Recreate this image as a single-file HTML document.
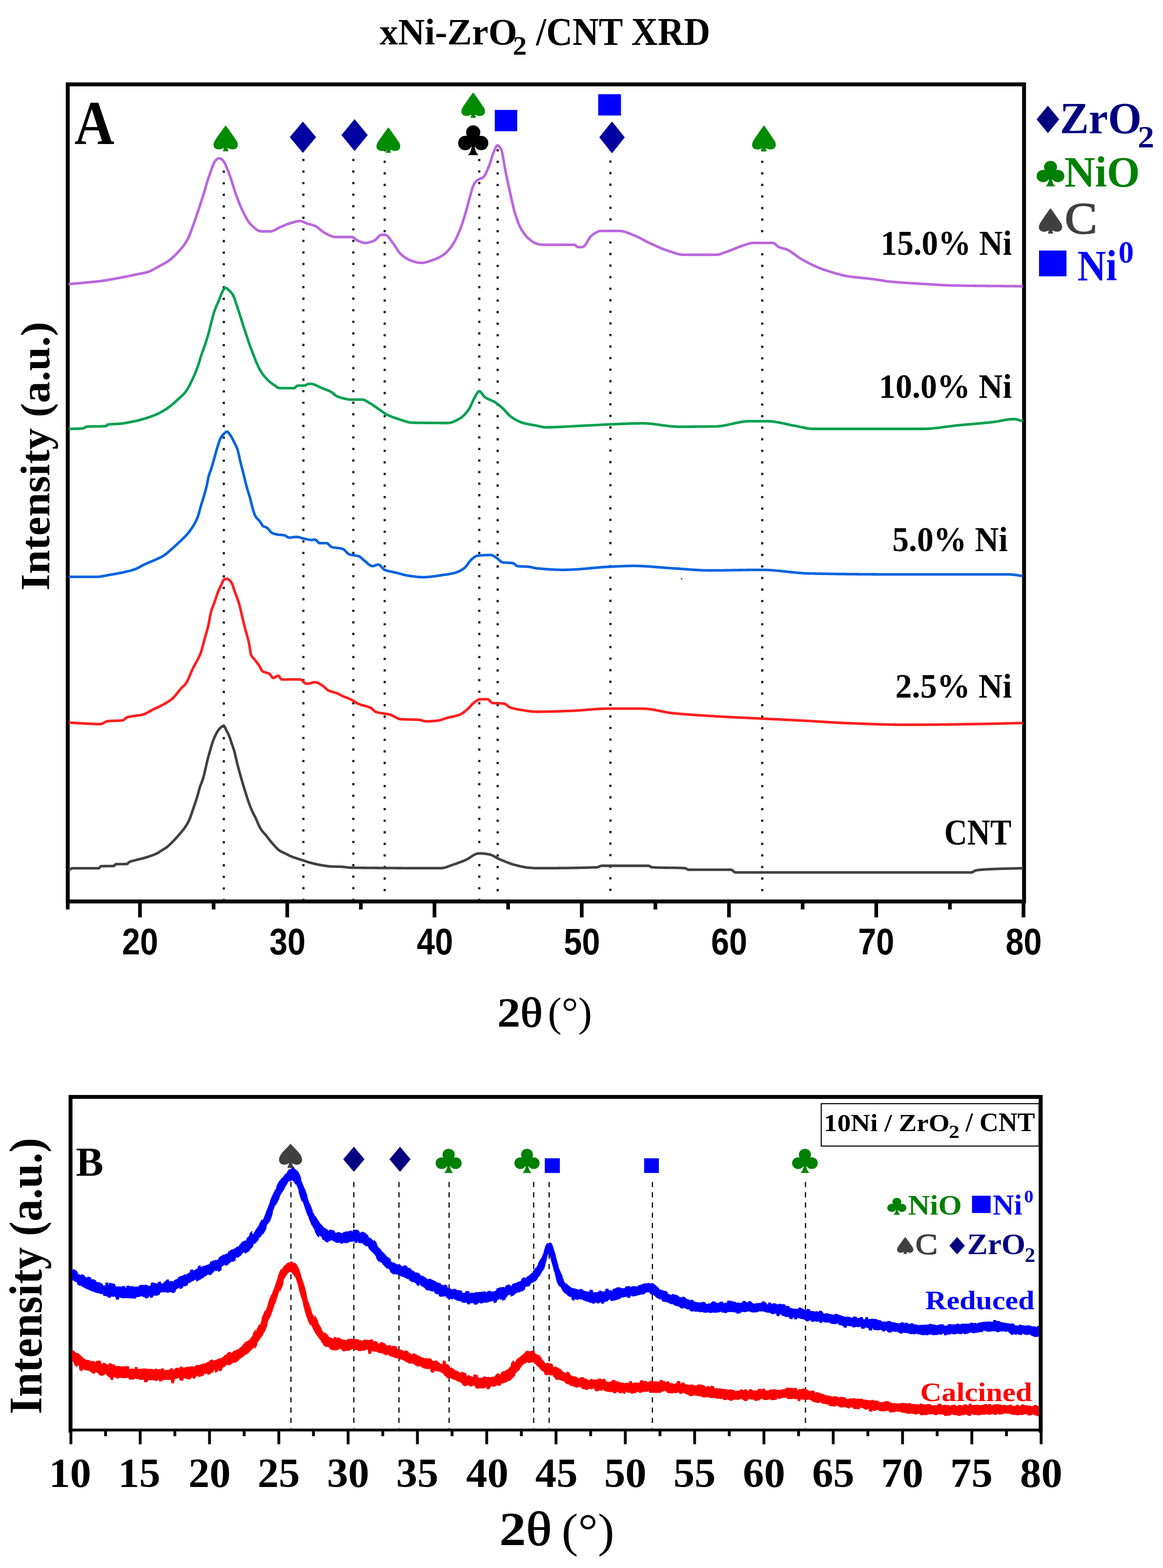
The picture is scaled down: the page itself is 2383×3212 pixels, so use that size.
<!DOCTYPE html>
<html><head><meta charset="utf-8"><title>xNi-ZrO2 /CNT XRD</title><style>html,body{margin:0;padding:0;background:#fff;width:2383px;height:3212px;overflow:hidden}svg{display:block}</style></head><body>
<svg width="2383" height="3212" viewBox="0 0 2383 3212"><rect width="2383" height="3212" fill="#fff"/><g stroke="#000" stroke-width="8" fill="none" stroke-linecap="square">
<rect x="138.8" y="172.8" width="1959.5" height="1673.8"/>
</g>
<path d="M286.81,1846.6V1879.3 M588.54,1846.6V1879.3 M890.27,1846.6V1879.3 M1192,1846.6V1879.3 M1493.73,1846.6V1879.3 M1795.46,1846.6V1879.3 M2097.19,1846.6V1879.3 M437.68,1846.6V1863 M739.41,1846.6V1863 M1041.14,1846.6V1863 M1342.87,1846.6V1863 M1644.6,1846.6V1863 M1946.33,1846.6V1863 M138.8,1846.6V1863" stroke="#000" stroke-width="7.5" fill="none"/>
<line x1="458.6" y1="349.5" x2="458.6" y2="1842.6" stroke="#1c1c1c" stroke-width="4.6" stroke-dasharray="4.6 19.08"/>
<line x1="621.6" y1="325.4" x2="621.6" y2="1842.6" stroke="#1c1c1c" stroke-width="4.6" stroke-dasharray="4.6 19.08"/>
<line x1="724" y1="325.4" x2="724" y2="1842.6" stroke="#1c1c1c" stroke-width="4.6" stroke-dasharray="4.6 19.08"/>
<line x1="788.3" y1="305.5" x2="788.3" y2="1842.6" stroke="#1c1c1c" stroke-width="4.6" stroke-dasharray="4.6 19.08"/>
<line x1="982" y1="325.4" x2="982" y2="1842.6" stroke="#1c1c1c" stroke-width="4.6" stroke-dasharray="4.6 19.08"/>
<line x1="1019.7" y1="305.6" x2="1019.7" y2="1842.6" stroke="#1c1c1c" stroke-width="4.6" stroke-dasharray="4.6 19.08"/>
<line x1="1250.8" y1="305" x2="1250.8" y2="1842.6" stroke="#1c1c1c" stroke-width="4.6" stroke-dasharray="4.6 19.08"/>
<line x1="1561.8" y1="305.5" x2="1561.8" y2="1842.6" stroke="#1c1c1c" stroke-width="4.6" stroke-dasharray="4.6 19.08"/>
<path d="M140.6,582 L142.66,581.82 L144.73,581.64 L146.79,581.46 L148.85,581.28 L150.92,581.1 L152.98,580.93 L155.05,580.75 L157.11,580.56 L159.17,580.38 L161.24,580.19 L163.3,580 L165.36,579.81 L167.43,579.62 L169.49,579.43 L171.55,579.24 L173.62,579.05 L175.68,578.86 L177.75,578.67 L179.81,578.48 L181.87,578.29 L183.94,578.1 L186,577.9 L188.06,577.7 L190.13,577.49 L192.19,577.29 L194.25,577.07 L196.32,576.85 L198.38,576.63 L200.45,576.4 L202.51,576.16 L204.57,575.91 L206.64,575.66 L208.7,575.4 L210.72,575.13 L212.74,574.85 L214.76,574.54 L216.78,574.23 L218.8,573.9 L220.82,573.57 L222.84,573.22 L224.86,572.86 L226.88,572.5 L228.9,572.14 L230.92,571.77 L232.94,571.4 L234.96,571.03 L236.98,570.66 L239,570.3 L241.1,569.92 L243.2,569.54 L245.3,569.15 L247.4,568.75 L249.5,568.35 L251.6,567.95 L253.7,567.55 L255.8,567.13 L257.9,566.72 L260,566.3 L262.13,565.87 L264.26,565.43 L266.39,564.98 L268.52,564.53 L270.65,564.08 L272.78,563.62 L274.91,563.17 L277.04,562.71 L279.17,562.25 L281.3,561.8 L283.42,561.37 L285.54,560.96 L287.66,560.57 L289.78,560.18 L291.9,559.78 L294.02,559.36 L296.14,558.92 L298.26,558.43 L300.38,557.9 L302.5,557.3 L304.62,556.59 L306.74,555.75 L308.86,554.79 L310.98,553.74 L313.1,552.62 L315.22,551.45 L317.34,550.25 L319.46,549.05 L321.58,547.86 L323.7,546.7 L325.82,545.58 L327.94,544.47 L330.06,543.37 L332.18,542.25 L334.3,541.11 L336.42,539.93 L338.54,538.71 L340.66,537.42 L342.78,536.05 L344.9,534.6 L346.91,533.14 L348.92,531.58 L350.92,529.95 L352.93,528.23 L354.94,526.43 L356.95,524.56 L358.96,522.61 L360.97,520.6 L362.98,518.52 L364.98,516.37 L366.99,514.16 L369,511.9 L371.17,509.39 L373.34,506.78 L375.51,504.02 L377.69,501.08 L379.86,497.91 L382.03,494.46 L384.2,490.7 L386.37,486.36 L388.54,481.34 L390.71,475.77 L392.89,469.83 L395.06,463.67 L397.23,457.44 L399.4,451.3 L401.56,445.2 L403.71,438.93 L405.87,432.51 L408.03,425.98 L410.19,419.36 L412.34,412.69 L414.5,406 L416.66,399.11 L418.81,391.95 L420.97,384.66 L423.13,377.41 L425.29,370.36 L427.44,363.67 L429.6,357.5 L431.62,351.83 L433.63,346.02 L435.65,340.44 L437.67,335.46 L439.68,331.46 L441.7,328.8 L444.23,326.57 L446.77,324.87 L449.3,324.2 L451.83,324.88 L454.37,326.59 L456.9,328.8 L458.92,331.28 L460.93,334.87 L462.95,339.28 L464.97,344.21 L466.98,349.39 L469,354.5 L471.16,360.23 L473.31,366.59 L475.47,373.36 L477.63,380.31 L479.79,387.2 L481.94,393.8 L484.1,399.9 L486.26,405.64 L488.41,411.29 L490.57,416.8 L492.73,422.1 L494.89,427.14 L497.04,431.86 L499.2,436.2 L501.37,440.35 L503.54,444.41 L505.71,448.31 L507.89,451.94 L510.06,455.23 L512.23,458.08 L514.4,460.4 L516.52,462.39 L518.64,464.36 L520.76,466.26 L522.88,468.05 L525,469.68 L527.12,471.12 L529.24,472.31 L531.36,473.22 L533.48,473.8 L535.6,474 L537.61,474 L539.62,474 L541.63,474 L543.64,474 L545.66,474 L547.67,474 L549.68,474 L551.69,474 L553.7,474 L555.82,473.82 L557.94,473.33 L560.06,472.59 L562.18,471.64 L564.3,470.56 L566.42,469.39 L568.54,468.19 L570.66,467.02 L572.78,465.94 L574.9,465 L576.92,464.18 L578.93,463.35 L580.95,462.51 L582.97,461.67 L584.98,460.84 L587,460.02 L589.02,459.23 L591.03,458.47 L593.05,457.75 L595.07,457.07 L597.08,456.46 L599.1,455.9 L601.27,455.32 L603.44,454.71 L605.61,454.13 L607.79,453.61 L609.96,453.19 L612.13,452.9 L614.3,452.8 L616.3,452.96 L618.3,453.4 L620.3,454.06 L622.3,454.86 L624.3,455.74 L626.3,456.64 L628.3,457.48 L630.3,458.2 L632.46,458.85 L634.61,459.45 L636.77,460.03 L638.93,460.61 L641.09,461.25 L643.24,461.97 L645.4,462.8 L647.52,463.85 L649.64,465.18 L651.76,466.73 L653.88,468.42 L656,470.19 L658.12,471.98 L660.24,473.71 L662.36,475.32 L664.48,476.74 L666.6,477.9 L668.72,478.93 L670.84,479.98 L672.96,481.03 L675.08,482.03 L677.2,482.96 L679.32,483.8 L681.44,484.5 L683.56,485.03 L685.68,485.38 L687.8,485.5 L689.88,485.5 L691.95,485.5 L694.02,485.5 L696.1,485.5 L698.17,485.5 L700.25,485.5 L702.32,485.5 L704.4,485.5 L706.48,485.5 L708.55,485.5 L710.62,485.5 L712.7,485.5 L714.77,485.5 L716.85,485.5 L718.92,485.5 L721,485.5 L723.03,485.94 L725.07,487.07 L727.1,488.62 L729.13,490.31 L731.17,491.86 L733.2,493 L735.36,493.91 L737.51,494.82 L739.67,495.68 L741.83,496.44 L743.99,497.05 L746.14,497.45 L748.3,497.6 L750.32,497.52 L752.34,497.29 L754.37,496.93 L756.39,496.46 L758.41,495.89 L760.43,495.24 L762.46,494.53 L764.48,493.78 L766.5,493 L768.66,491.72 L770.81,489.76 L772.97,487.45 L775.13,485.11 L777.29,483.04 L779.44,481.56 L781.6,481 L784.13,481 L786.67,481 L789.2,481 L791.28,481.5 L793.35,482.87 L795.42,484.94 L797.5,487.51 L799.58,490.39 L801.65,493.41 L803.72,496.37 L805.8,499.1 L807.97,501.99 L810.14,505.22 L812.31,508.62 L814.49,512 L816.66,515.19 L818.83,518.02 L821,520.3 L823.11,522.16 L825.22,523.92 L827.33,525.6 L829.44,527.16 L831.55,528.62 L833.66,529.95 L835.77,531.15 L837.88,532.22 L839.99,533.13 L842.1,533.9 L844.22,534.59 L846.34,535.26 L848.46,535.91 L850.58,536.51 L852.7,537.06 L854.82,537.54 L856.94,537.94 L859.06,538.24 L861.18,538.43 L863.3,538.5 L865.32,538.43 L867.33,538.24 L869.35,537.93 L871.37,537.52 L873.38,537.03 L875.4,536.47 L877.42,535.85 L879.43,535.19 L881.45,534.5 L883.47,533.8 L885.48,533.09 L887.5,532.4 L889.62,531.66 L891.74,530.85 L893.86,529.98 L895.98,529.04 L898.1,528.04 L900.22,526.95 L902.34,525.79 L904.46,524.55 L906.58,523.22 L908.7,521.8 L910.72,520.3 L912.74,518.62 L914.77,516.74 L916.79,514.69 L918.81,512.48 L920.83,510.1 L922.86,507.57 L924.88,504.9 L926.9,502.1 L929.06,498.82 L931.21,495.12 L933.37,491.05 L935.53,486.65 L937.69,481.97 L939.84,477.03 L942,471.9 L944.02,466.74 L946.03,461.09 L948.05,455.05 L950.07,448.71 L952.08,442.16 L954.1,435.5 L956.38,427.52 L958.65,419 L960.93,410.43 L963.2,402.3 L965.73,393.15 L968.27,384.35 L970.8,378 L973.3,374.14 L975.8,371.18 L978.3,369 L980.32,367.75 L982.33,366.83 L984.35,366.06 L986.37,365.27 L988.38,364.27 L990.4,362.9 L992.42,360.66 L994.43,357.35 L996.45,353.24 L998.47,348.59 L1000.48,343.65 L1002.5,338.7 L1004.77,332.31 L1007.05,324.89 L1009.33,317.57 L1011.6,311.5 L1014.13,305.43 L1016.67,300.1 L1019.2,297.8 L1021.7,298.85 L1024.2,301.6 L1026.7,305.4 L1028.97,312.55 L1031.25,324.5 L1033.53,338.24 L1035.8,350.8 L1038.08,361.68 L1040.35,372.38 L1042.62,382.89 L1044.9,393.2 L1047.18,403.63 L1049.45,414.08 L1051.72,423.92 L1054,432.5 L1056.02,439.2 L1058.03,445.54 L1060.05,451.44 L1062.07,456.84 L1064.08,461.65 L1066.1,465.8 L1068.26,469.72 L1070.41,473.34 L1072.57,476.67 L1074.73,479.71 L1076.89,482.45 L1079.04,484.88 L1081.2,487 L1083.22,488.82 L1085.24,490.57 L1087.27,492.22 L1089.29,493.77 L1091.31,495.19 L1093.33,496.45 L1095.36,497.53 L1097.38,498.42 L1099.4,499.1 L1101.5,499.67 L1103.6,500.21 L1105.7,500.69 L1107.8,501.06 L1109.9,501.31 L1112,501.4 L1114.05,501.4 L1116.1,501.4 L1118.15,501.4 L1120.2,501.4 L1122.25,501.4 L1124.3,501.4 L1126.35,501.4 L1128.4,501.4 L1130.45,501.4 L1132.5,501.4 L1134.55,501.4 L1136.6,501.4 L1138.65,501.4 L1140.7,501.4 L1142.75,501.4 L1144.8,501.4 L1146.85,501.4 L1148.9,501.4 L1150.95,501.4 L1153,501.4 L1155.05,501.4 L1157.1,501.4 L1159.15,501.4 L1161.2,501.4 L1163.25,501.4 L1165.3,501.4 L1167.35,501.4 L1169.4,501.4 L1171.45,501.4 L1173.5,501.4 L1175.55,501.4 L1177.6,501.4 L1179.7,502.64 L1181.8,504.96 L1183.9,506.2 L1186.25,506.2 L1188.6,506.2 L1190.95,506.2 L1193.3,506.2 L1195.4,505.54 L1197.5,503.74 L1199.6,501.08 L1201.7,497.85 L1203.8,494.3 L1205.9,490.73 L1208,487.4 L1210.1,484.6 L1212.2,482.6 L1214.3,481.08 L1216.4,479.58 L1218.5,478.13 L1220.6,476.78 L1222.7,475.57 L1224.8,474.56 L1226.9,473.78 L1229,473.28 L1231.1,473.1 L1233.2,473.1 L1235.3,473.1 L1237.4,473.1 L1239.5,473.1 L1241.6,473.1 L1243.7,473.1 L1245.8,473.1 L1247.9,473.1 L1250,473.1 L1252.1,473.1 L1254.2,473.1 L1256.3,473.1 L1258.4,473.1 L1260.5,473.1 L1262.6,473.1 L1264.7,473.1 L1266.8,473.1 L1268.9,473.1 L1270.99,473.17 L1273.09,473.38 L1275.18,473.71 L1277.27,474.15 L1279.37,474.69 L1281.46,475.31 L1283.55,476 L1285.65,476.76 L1287.74,477.55 L1289.83,478.39 L1291.93,479.24 L1294.02,480.1 L1296.11,480.95 L1298.21,481.79 L1300.3,482.6 L1302.4,483.43 L1304.5,484.33 L1306.6,485.29 L1308.7,486.31 L1310.8,487.37 L1312.9,488.46 L1315,489.58 L1317.1,490.71 L1319.2,491.85 L1321.3,492.99 L1323.4,494.11 L1325.5,495.21 L1327.6,496.29 L1329.7,497.32 L1331.8,498.3 L1333.9,499.26 L1336,500.22 L1338.1,501.18 L1340.2,502.14 L1342.3,503.09 L1344.4,504.04 L1346.5,504.98 L1348.6,505.91 L1350.7,506.83 L1352.8,507.73 L1354.9,508.6 L1357,509.46 L1359.1,510.29 L1361.2,511.1 L1363.3,511.87 L1365.4,512.62 L1367.5,513.33 L1369.6,514 L1371.69,514.67 L1373.79,515.36 L1375.88,516.07 L1377.97,516.79 L1380.07,517.49 L1382.16,518.19 L1384.25,518.85 L1386.35,519.48 L1388.44,520.06 L1390.53,520.58 L1392.63,521.02 L1394.72,521.39 L1396.81,521.67 L1398.91,521.84 L1401,521.9 L1403.01,521.9 L1405.01,521.9 L1407.02,521.9 L1409.02,521.9 L1411.03,521.9 L1413.04,521.9 L1415.04,521.9 L1417.05,521.9 L1419.05,521.9 L1421.06,521.9 L1423.07,521.9 L1425.07,521.9 L1427.08,521.9 L1429.08,521.9 L1431.09,521.9 L1433.1,521.9 L1435.1,521.9 L1437.11,521.9 L1439.12,521.9 L1441.12,521.9 L1443.13,521.9 L1445.13,521.9 L1447.14,521.9 L1449.15,521.9 L1451.15,521.9 L1453.16,521.9 L1455.16,521.9 L1457.17,521.9 L1459.18,521.9 L1461.18,521.9 L1463.19,521.9 L1465.19,521.9 L1467.2,521.9 L1469.2,521.81 L1471.2,521.54 L1473.2,521.13 L1475.2,520.6 L1477.2,519.97 L1479.2,519.28 L1481.2,518.53 L1483.2,517.77 L1485.2,517.01 L1487.2,516.28 L1489.2,515.6 L1491.3,514.9 L1493.4,514.16 L1495.5,513.39 L1497.6,512.58 L1499.7,511.75 L1501.8,510.91 L1503.9,510.05 L1506,509.18 L1508.1,508.31 L1510.2,507.45 L1512.3,506.59 L1514.4,505.75 L1516.5,504.94 L1518.6,504.15 L1520.7,503.4 L1522.8,502.69 L1524.9,502.02 L1527,501.4 L1529.24,500.73 L1531.49,500.02 L1533.73,499.33 L1535.97,498.69 L1538.21,498.18 L1540.46,497.83 L1542.7,497.7 L1544.75,497.7 L1546.79,497.7 L1548.84,497.7 L1550.88,497.7 L1552.92,497.7 L1554.97,497.7 L1557.02,497.7 L1559.06,497.7 L1561.11,497.7 L1563.15,497.7 L1565.19,497.7 L1567.24,497.7 L1569.28,497.7 L1571.33,497.7 L1573.38,497.7 L1575.42,497.7 L1577.46,497.7 L1579.51,497.7 L1581.55,497.7 L1583.6,497.7 L1585.7,498.2 L1587.8,499.5 L1589.9,501.28 L1592,503.2 L1594.1,504.95 L1596.2,506.2 L1598.39,507.04 L1600.57,507.73 L1602.76,508.32 L1604.94,508.88 L1607.13,509.46 L1609.31,510.11 L1611.5,510.9 L1613.6,511.82 L1615.7,512.88 L1617.8,514.06 L1619.9,515.36 L1622,516.74 L1624.1,518.18 L1626.2,519.68 L1628.3,521.21 L1630.4,522.76 L1632.5,524.3 L1634.6,525.82 L1636.7,527.3 L1638.8,528.72 L1640.9,530.06 L1643,531.3 L1645.09,532.48 L1647.19,533.65 L1649.28,534.8 L1651.37,535.95 L1653.47,537.07 L1655.56,538.18 L1657.65,539.27 L1659.75,540.34 L1661.84,541.38 L1663.93,542.4 L1666.03,543.4 L1668.12,544.37 L1670.21,545.31 L1672.31,546.22 L1674.4,547.1 L1676.5,547.96 L1678.6,548.79 L1680.7,549.61 L1682.8,550.41 L1684.9,551.19 L1687,551.96 L1689.1,552.71 L1691.2,553.44 L1693.3,554.15 L1695.4,554.85 L1697.5,555.53 L1699.6,556.19 L1701.7,556.84 L1703.8,557.48 L1705.9,558.1 L1708,558.71 L1710.1,559.33 L1712.2,559.94 L1714.3,560.54 L1716.4,561.14 L1718.5,561.72 L1720.6,562.29 L1722.7,562.85 L1724.8,563.38 L1726.9,563.89 L1729,564.37 L1731.1,564.83 L1733.2,565.26 L1735.3,565.65 L1737.4,566 L1739.45,566.32 L1741.5,566.62 L1743.56,566.9 L1745.61,567.17 L1747.66,567.43 L1749.71,567.67 L1751.77,567.9 L1753.82,568.12 L1755.87,568.34 L1757.92,568.55 L1759.97,568.75 L1762.03,568.95 L1764.08,569.15 L1766.13,569.35 L1768.18,569.54 L1770.23,569.74 L1772.29,569.95 L1774.34,570.15 L1776.39,570.36 L1778.44,570.58 L1780.5,570.81 L1782.55,571.05 L1784.6,571.3 L1786.64,571.56 L1788.69,571.84 L1790.73,572.12 L1792.78,572.42 L1794.82,572.72 L1796.87,573.03 L1798.91,573.35 L1800.96,573.67 L1803,573.98 L1805.05,574.3 L1807.1,574.61 L1809.14,574.92 L1811.18,575.22 L1813.23,575.52 L1815.28,575.8 L1817.32,576.07 L1819.37,576.33 L1821.41,576.57 L1823.45,576.79 L1825.5,577 L1827.56,577.19 L1829.62,577.38 L1831.67,577.56 L1833.73,577.74 L1835.79,577.91 L1837.85,578.08 L1839.9,578.24 L1841.96,578.4 L1844.02,578.55 L1846.08,578.7 L1848.13,578.85 L1850.19,578.99 L1852.25,579.13 L1854.31,579.27 L1856.37,579.41 L1858.42,579.54 L1860.48,579.67 L1862.54,579.8 L1864.6,579.93 L1866.65,580.05 L1868.71,580.18 L1870.77,580.3 L1872.83,580.43 L1874.88,580.55 L1876.94,580.68 L1879,580.8 L1881.02,580.92 L1883.04,581.05 L1885.05,581.17 L1887.07,581.3 L1889.09,581.43 L1891.11,581.56 L1893.13,581.69 L1895.14,581.82 L1897.16,581.95 L1899.18,582.07 L1901.2,582.2 L1903.22,582.33 L1905.23,582.46 L1907.25,582.59 L1909.27,582.71 L1911.29,582.84 L1913.31,582.96 L1915.32,583.08 L1917.34,583.2 L1919.36,583.32 L1921.38,583.43 L1923.39,583.55 L1925.41,583.66 L1927.43,583.76 L1929.45,583.87 L1931.47,583.97 L1933.48,584.07 L1935.5,584.16 L1937.52,584.25 L1939.54,584.34 L1941.56,584.42 L1943.57,584.5 L1945.59,584.57 L1947.61,584.64 L1949.63,584.7 L1951.65,584.76 L1953.66,584.81 L1955.68,584.86 L1957.7,584.9 L1959.71,584.94 L1961.71,584.97 L1963.72,585.01 L1965.73,585.05 L1967.74,585.08 L1969.74,585.11 L1971.75,585.15 L1973.76,585.18 L1975.77,585.21 L1977.77,585.24 L1979.78,585.27 L1981.79,585.3 L1983.79,585.32 L1985.8,585.35 L1987.81,585.38 L1989.82,585.4 L1991.82,585.43 L1993.83,585.45 L1995.84,585.48 L1997.84,585.5 L1999.85,585.52 L2001.86,585.55 L2003.87,585.57 L2005.87,585.59 L2007.88,585.61 L2009.89,585.63 L2011.9,585.65 L2013.9,585.67 L2015.91,585.69 L2017.92,585.71 L2019.92,585.73 L2021.93,585.75 L2023.94,585.77 L2025.95,585.78 L2027.95,585.8 L2029.96,585.82 L2031.97,585.84 L2033.98,585.85 L2035.98,585.87 L2037.99,585.89 L2040,585.9 L2042,585.92 L2044.01,585.94 L2046.02,585.95 L2048.03,585.97 L2050.03,585.98 L2052.04,586 L2054.05,586.02 L2056.06,586.03 L2058.06,586.05 L2060.07,586.07 L2062.08,586.08 L2064.08,586.1 L2066.09,586.12 L2068.1,586.13 L2070.11,586.15 L2072.11,586.17 L2074.12,586.19 L2076.13,586.2 L2078.13,586.22 L2080.14,586.24 L2082.15,586.26 L2084.16,586.28 L2086.16,586.3 L2088.17,586.32 L2090.18,586.34 L2092.19,586.36 L2094.19,586.38 L2096.2,586.4" fill="none" stroke="#ba66de" stroke-width="5.3" stroke-linejoin="round"/>
<path d="M140.6,878.7 L142.72,878.61 L144.84,878.54 L146.96,878.47 L149.08,878.42 L151.2,878.37 L153.32,878.32 L155.44,878.27 L157.56,878.21 L159.68,878.13 L161.8,878.04 L163.92,877.93 L166.04,877.8 L168.16,877.63 L170.28,877.44 L172.4,877.2 L175.4,874.2 L177.42,874.03 L179.44,873.89 L181.46,873.77 L183.48,873.68 L185.5,873.61 L187.51,873.56 L189.53,873.52 L191.55,873.49 L193.57,873.47 L195.59,873.46 L197.61,873.44 L199.63,873.43 L201.65,873.41 L203.67,873.38 L205.69,873.35 L207.7,873.29 L209.72,873.22 L211.74,873.13 L213.76,873.02 L215.78,872.87 L217.8,872.7 L220.8,869.6 L222.82,869.33 L224.83,869.11 L226.85,868.95 L228.87,868.83 L230.88,868.73 L232.9,868.66 L234.92,868.6 L236.93,868.54 L238.95,868.47 L240.97,868.38 L242.98,868.26 L245,868.1 L247.1,867.89 L249.2,867.65 L251.3,867.38 L253.4,867.08 L255.5,866.76 L257.6,866.41 L259.7,866.04 L261.8,865.66 L263.9,865.26 L266,864.85 L268.1,864.44 L270.2,864.02 L272.3,863.6 L274.32,863.19 L276.33,862.75 L278.35,862.3 L280.37,861.83 L282.38,861.34 L284.4,860.84 L286.42,860.32 L288.43,859.78 L290.45,859.23 L292.47,858.67 L294.48,858.09 L296.5,857.5 L298.62,856.86 L300.74,856.2 L302.86,855.52 L304.98,854.81 L307.1,854.07 L309.22,853.31 L311.34,852.53 L313.46,851.71 L315.58,850.87 L317.7,850 L319.71,849.14 L321.72,848.24 L323.73,847.31 L325.74,846.34 L327.76,845.32 L329.77,844.27 L331.78,843.19 L333.79,842.06 L335.8,840.9 L337.97,839.59 L340.14,838.19 L342.31,836.73 L344.49,835.21 L346.66,833.62 L348.83,831.99 L351,830.3 L353.16,828.55 L355.31,826.71 L357.47,824.78 L359.63,822.8 L361.79,820.78 L363.94,818.74 L366.1,816.7 L368.42,814.56 L370.73,812.48 L373.05,810.36 L375.37,808.11 L377.68,805.65 L380,802.9 L382.35,799.6 L384.7,795.77 L387.05,791.58 L389.4,787.2 L391.77,782.53 L394.15,777.51 L396.52,772.21 L398.9,766.7 L401.53,760.38 L404.17,753.67 L406.8,746.3 L409.15,738.48 L411.5,730.5 L414.1,722.96 L416.7,715.88 L419.3,708.5 L421.93,700.55 L424.57,692.25 L427.2,683.3 L429.3,675.18 L431.4,666.45 L433.5,658.1 L435.6,650.25 L437.7,642.73 L439.8,636.1 L442.43,629.28 L445.07,623.29 L447.7,617.2 L449.8,611.81 L451.9,606.35 L454,601.5 L456.1,596.98 L458.2,592.88 L460.3,590.5 L462.6,589.7 L464.97,590.63 L467.33,592.79 L469.7,595.2 L472.33,597.74 L474.97,600.74 L477.6,604.6 L479.7,609.32 L481.8,615.52 L483.9,621.9 L486.5,629.55 L489.1,637.45 L491.7,645.5 L494.33,653.86 L496.97,662.37 L499.6,670.7 L501.7,677.08 L503.8,683.34 L505.9,689.6 L508,696 L510.1,702.4 L512.2,708.5 L514.83,715.59 L517.47,722.34 L520.1,729 L522.2,734.4 L524.3,739.73 L526.4,744.7 L529,750.42 L531.6,755.76 L534.2,760.4 L536.58,764.01 L538.95,767.25 L541.33,770.22 L543.7,773 L546.05,775.63 L548.4,778.11 L550.75,780.41 L553.1,782.5 L555.3,784.26 L557.5,785.88 L559.7,787.41 L561.9,788.87 L564.1,790.3 L566.73,792.31 L569.37,794.24 L572,795.1 L574.1,795.1 L576.2,795.1 L578.3,795.1 L580.4,795.1 L582.5,795.1 L584.6,795.1 L586.7,795.1 L588.8,795.1 L590.9,795.1 L593,795.1 L595.1,795.1 L597.2,795.1 L599.3,795.1 L601.4,795.1 L603.5,795.1 L605.85,792.76 L608.2,790.3 L610.36,790.11 L612.53,789.99 L614.69,789.92 L616.85,789.88 L619.01,789.84 L621.17,789.77 L623.34,789.67 L625.5,789.5 L627.6,788.61 L629.7,787.16 L631.8,786.4 L633.85,786.4 L635.9,786.4 L637.95,786.4 L640,786.4 L642.4,787.2 L644.41,787.98 L646.42,788.82 L648.43,789.71 L650.44,790.63 L652.46,791.58 L654.47,792.54 L656.48,793.48 L658.49,794.41 L660.5,795.3 L662.52,796.14 L664.54,796.93 L666.57,797.7 L668.59,798.45 L670.61,799.23 L672.63,800.04 L674.66,800.9 L676.68,801.85 L678.7,802.9 L680.72,804.24 L682.73,805.91 L684.75,807.72 L686.77,809.47 L688.78,810.96 L690.8,812 L692.81,812.73 L694.83,813.43 L696.84,814.11 L698.85,814.75 L700.87,815.36 L702.88,815.92 L704.89,816.44 L706.91,816.92 L708.92,817.34 L710.93,817.71 L712.95,818.02 L714.96,818.27 L716.97,818.45 L718.99,818.56 L721,818.6 L723.13,818.6 L725.26,818.6 L727.39,818.6 L729.52,818.6 L731.65,818.6 L733.78,818.6 L735.91,818.6 L738.04,818.6 L740.17,818.6 L742.3,818.6 L744.46,818.84 L746.61,819.51 L748.77,820.49 L750.93,821.69 L753.09,823.01 L755.24,824.35 L757.4,825.6 L759.41,826.75 L761.42,827.99 L763.43,829.3 L765.44,830.67 L767.46,832.08 L769.47,833.51 L771.48,834.93 L773.49,836.33 L775.5,837.7 L777.52,839.08 L779.54,840.52 L781.57,841.98 L783.59,843.44 L785.61,844.87 L787.63,846.25 L789.66,847.55 L791.68,848.74 L793.7,849.8 L795.72,850.76 L797.73,851.67 L799.75,852.53 L801.77,853.36 L803.78,854.14 L805.8,854.9 L807.82,855.62 L809.83,856.32 L811.85,856.99 L813.87,857.64 L815.88,858.28 L817.9,858.9 L820,859.56 L822.1,860.26 L824.2,860.97 L826.3,861.68 L828.4,862.38 L830.5,863.06 L832.6,863.69 L834.7,864.28 L836.8,864.79 L838.9,865.23 L841,865.57 L843.1,865.79 L845.2,865.9 L847.22,865.94 L849.23,865.97 L851.25,866.01 L853.27,866.04 L855.28,866.07 L857.3,866.1 L859.32,866.13 L861.33,866.16 L863.35,866.18 L865.37,866.21 L867.38,866.23 L869.4,866.26 L871.42,866.28 L873.43,866.3 L875.45,866.32 L877.47,866.34 L879.48,866.35 L881.5,866.37 L883.52,866.38 L885.53,866.4 L887.55,866.41 L889.57,866.42 L891.58,866.43 L893.6,866.44 L895.62,866.45 L897.63,866.46 L899.65,866.47 L901.67,866.48 L903.68,866.48 L905.7,866.49 L907.72,866.49 L909.73,866.49 L911.75,866.5 L913.77,866.5 L915.78,866.5 L917.8,866.5 L919.82,866.41 L921.83,866.14 L923.85,865.71 L925.87,865.14 L927.88,864.45 L929.9,863.64 L931.92,862.74 L933.93,861.76 L935.95,860.72 L937.97,859.64 L939.98,858.53 L942,857.4 L944.02,856.16 L946.04,854.69 L948.07,853.01 L950.09,851.14 L952.11,849.08 L954.13,846.84 L956.16,844.44 L958.18,841.89 L960.2,839.2 L962.22,835.96 L964.23,831.95 L966.25,827.51 L968.27,822.99 L970.28,818.7 L972.3,815 L974.72,810.64 L977.15,806.21 L979.58,802.78 L982,801.4 L984.3,802.4 L986.6,804.88 L988.9,808.07 L991.2,811.2 L993.5,813.5 L995.61,814.88 L997.72,816.08 L999.83,817.15 L1001.94,818.11 L1004.05,819.01 L1006.16,819.9 L1008.27,820.81 L1010.38,821.79 L1012.49,822.87 L1014.6,824.1 L1016.77,825.53 L1018.94,827.1 L1021.11,828.78 L1023.29,830.55 L1025.46,832.39 L1027.63,834.28 L1029.8,836.2 L1031.81,838.1 L1033.82,840.18 L1035.83,842.39 L1037.84,844.64 L1039.86,846.89 L1041.87,849.05 L1043.88,851.07 L1045.89,852.88 L1047.9,854.4 L1049.93,855.75 L1051.95,857.04 L1053.98,858.28 L1056,859.46 L1058.03,860.58 L1060.05,861.64 L1062.08,862.63 L1064.1,863.55 L1066.12,864.4 L1068.15,865.18 L1070.17,865.88 L1072.2,866.5 L1074.29,867.07 L1076.38,867.6 L1078.48,868.08 L1080.57,868.52 L1082.66,868.94 L1084.75,869.33 L1086.85,869.7 L1088.94,870.06 L1091.03,870.42 L1093.12,870.77 L1095.22,871.13 L1097.31,871.51 L1099.4,871.9 L1101.4,872.32 L1103.4,872.8 L1105.4,873.3 L1107.4,873.8 L1109.4,874.26 L1111.4,874.68 L1113.4,875 L1115.4,875.22 L1117.4,875.3 L1119.42,875.3 L1121.44,875.28 L1123.46,875.26 L1125.49,875.23 L1127.51,875.2 L1129.53,875.16 L1131.55,875.11 L1133.57,875.05 L1135.59,874.99 L1137.62,874.92 L1139.64,874.85 L1141.66,874.77 L1143.68,874.69 L1145.7,874.61 L1147.72,874.52 L1149.75,874.42 L1151.77,874.32 L1153.79,874.22 L1155.81,874.12 L1157.83,874.02 L1159.85,873.91 L1161.88,873.8 L1163.9,873.69 L1165.92,873.58 L1167.94,873.47 L1169.96,873.36 L1171.98,873.24 L1174.01,873.13 L1176.03,873.02 L1178.05,872.91 L1180.07,872.8 L1182.09,872.7 L1184.11,872.59 L1186.14,872.49 L1188.16,872.39 L1190.18,872.29 L1192.2,872.2 L1194.21,872.11 L1196.23,872.01 L1198.24,871.92 L1200.25,871.82 L1202.26,871.71 L1204.28,871.61 L1206.29,871.51 L1208.3,871.4 L1210.32,871.3 L1212.33,871.19 L1214.34,871.08 L1216.35,870.97 L1218.37,870.86 L1220.38,870.75 L1222.39,870.65 L1224.41,870.54 L1226.42,870.43 L1228.43,870.32 L1230.45,870.22 L1232.46,870.11 L1234.47,870.01 L1236.48,869.91 L1238.5,869.81 L1240.51,869.71 L1242.52,869.61 L1244.54,869.52 L1246.55,869.43 L1248.56,869.34 L1250.57,869.26 L1252.59,869.18 L1254.6,869.1 L1256.61,869.02 L1258.62,868.94 L1260.63,868.86 L1262.64,868.78 L1264.65,868.7 L1266.66,868.62 L1268.67,868.53 L1270.68,868.45 L1272.69,868.37 L1274.7,868.29 L1276.71,868.2 L1278.72,868.12 L1280.73,868.04 L1282.74,867.97 L1284.75,867.89 L1286.75,867.82 L1288.76,867.75 L1290.77,867.68 L1292.78,867.62 L1294.79,867.56 L1296.8,867.5 L1298.81,867.45 L1300.82,867.4 L1302.83,867.35 L1304.84,867.31 L1306.85,867.28 L1308.86,867.25 L1310.87,867.23 L1312.88,867.21 L1314.89,867.2 L1316.9,867.2 L1318.92,867.21 L1320.94,867.26 L1322.96,867.33 L1324.99,867.42 L1327.01,867.54 L1329.03,867.69 L1331.05,867.85 L1333.07,868.03 L1335.09,868.23 L1337.12,868.44 L1339.14,868.67 L1341.16,868.91 L1343.18,869.16 L1345.2,869.42 L1347.22,869.68 L1349.25,869.95 L1351.27,870.23 L1353.29,870.51 L1355.31,870.79 L1357.33,871.07 L1359.35,871.35 L1361.38,871.62 L1363.4,871.88 L1365.42,872.14 L1367.44,872.39 L1369.46,872.63 L1371.48,872.86 L1373.51,873.07 L1375.53,873.27 L1377.55,873.45 L1379.57,873.61 L1381.59,873.76 L1383.61,873.88 L1385.64,873.97 L1387.66,874.04 L1389.68,874.09 L1391.7,874.1 L1393.72,874.1 L1395.74,874.1 L1397.76,874.1 L1399.79,874.09 L1401.81,874.09 L1403.83,874.08 L1405.85,874.08 L1407.87,874.07 L1409.89,874.06 L1411.92,874.05 L1413.94,874.04 L1415.96,874.03 L1417.98,874.02 L1420,874.01 L1422.02,874 L1424.05,873.98 L1426.07,873.97 L1428.09,873.95 L1430.11,873.94 L1432.13,873.92 L1434.15,873.9 L1436.18,873.88 L1438.2,873.86 L1440.22,873.84 L1442.24,873.82 L1444.26,873.8 L1446.28,873.77 L1448.31,873.75 L1450.33,873.73 L1452.35,873.7 L1454.37,873.67 L1456.39,873.65 L1458.41,873.62 L1460.44,873.59 L1462.46,873.56 L1464.48,873.53 L1466.5,873.5 L1468.52,873.44 L1470.54,873.34 L1472.55,873.19 L1474.57,873 L1476.59,872.77 L1478.61,872.5 L1480.62,872.2 L1482.64,871.87 L1484.66,871.51 L1486.68,871.13 L1488.69,870.73 L1490.71,870.31 L1492.73,869.88 L1494.75,869.44 L1496.76,868.98 L1498.78,868.53 L1500.8,868.07 L1502.82,867.61 L1504.84,867.15 L1506.85,866.71 L1508.87,866.27 L1510.89,865.84 L1512.91,865.44 L1514.92,865.05 L1516.94,864.68 L1518.96,864.34 L1520.98,864.03 L1522.99,863.75 L1525.01,863.5 L1527.03,863.29 L1529.05,863.13 L1531.06,863 L1533.08,862.93 L1535.1,862.9 L1537.18,862.9 L1539.26,862.9 L1541.33,862.9 L1543.41,862.9 L1545.49,862.9 L1547.57,862.9 L1549.64,862.9 L1551.72,862.9 L1553.8,862.9 L1555.88,862.9 L1557.96,862.9 L1560.03,862.9 L1562.11,862.9 L1564.19,862.9 L1566.27,862.9 L1568.34,862.9 L1570.42,862.9 L1572.5,862.9 L1574.5,862.92 L1576.51,862.99 L1578.51,863.1 L1580.51,863.25 L1582.52,863.44 L1584.52,863.66 L1586.53,863.91 L1588.53,864.2 L1590.53,864.51 L1592.54,864.84 L1594.54,865.2 L1596.54,865.58 L1598.55,865.97 L1600.55,866.38 L1602.55,866.8 L1604.56,867.23 L1606.56,867.66 L1608.56,868.1 L1610.57,868.55 L1612.57,868.99 L1614.57,869.43 L1616.58,869.86 L1618.58,870.29 L1620.59,870.7 L1622.59,871.1 L1624.59,871.49 L1626.6,871.85 L1628.6,872.2 L1630.68,872.57 L1632.76,872.97 L1634.83,873.39 L1636.91,873.84 L1638.99,874.29 L1641.07,874.76 L1643.14,875.23 L1645.22,875.68 L1647.3,876.13 L1649.38,876.56 L1651.46,876.96 L1653.53,877.33 L1655.61,877.66 L1657.69,877.95 L1659.77,878.18 L1661.84,878.35 L1663.92,878.46 L1666,878.5 L1668,878.5 L1670.01,878.5 L1672.01,878.5 L1674.02,878.5 L1676.02,878.5 L1678.03,878.5 L1680.03,878.5 L1682.04,878.5 L1684.04,878.5 L1686.04,878.5 L1688.05,878.5 L1690.05,878.5 L1692.06,878.5 L1694.06,878.5 L1696.07,878.5 L1698.07,878.5 L1700.08,878.5 L1702.08,878.5 L1704.08,878.5 L1706.09,878.5 L1708.09,878.5 L1710.1,878.5 L1712.1,878.5 L1714.11,878.5 L1716.11,878.5 L1718.12,878.5 L1720.12,878.5 L1722.12,878.5 L1724.13,878.5 L1726.13,878.5 L1728.14,878.5 L1730.14,878.5 L1732.15,878.5 L1734.15,878.5 L1736.16,878.5 L1738.16,878.5 L1740.17,878.5 L1742.17,878.5 L1744.17,878.5 L1746.18,878.5 L1748.18,878.5 L1750.19,878.5 L1752.19,878.5 L1754.2,878.5 L1756.2,878.5 L1758.21,878.5 L1760.21,878.5 L1762.21,878.5 L1764.22,878.5 L1766.22,878.5 L1768.23,878.5 L1770.23,878.5 L1772.24,878.5 L1774.24,878.5 L1776.25,878.5 L1778.25,878.5 L1780.25,878.5 L1782.26,878.5 L1784.26,878.5 L1786.27,878.5 L1788.27,878.5 L1790.28,878.5 L1792.28,878.5 L1794.29,878.5 L1796.29,878.5 L1798.29,878.5 L1800.3,878.5 L1802.3,878.5 L1804.31,878.5 L1806.31,878.5 L1808.32,878.5 L1810.32,878.5 L1812.33,878.5 L1814.33,878.5 L1816.33,878.5 L1818.34,878.5 L1820.34,878.5 L1822.35,878.5 L1824.35,878.5 L1826.36,878.5 L1828.36,878.5 L1830.37,878.5 L1832.37,878.5 L1834.38,878.5 L1836.38,878.5 L1838.38,878.5 L1840.39,878.5 L1842.39,878.5 L1844.4,878.5 L1846.4,878.5 L1848.41,878.5 L1850.41,878.5 L1852.42,878.5 L1854.42,878.5 L1856.42,878.5 L1858.43,878.5 L1860.43,878.5 L1862.44,878.5 L1864.44,878.5 L1866.45,878.5 L1868.45,878.5 L1870.46,878.5 L1872.46,878.5 L1874.46,878.5 L1876.47,878.5 L1878.47,878.5 L1880.48,878.5 L1882.48,878.5 L1884.49,878.5 L1886.49,878.5 L1888.5,878.5 L1890.5,878.5 L1892.52,878.49 L1894.54,878.46 L1896.56,878.4 L1898.59,878.33 L1900.61,878.24 L1902.63,878.13 L1904.65,878 L1906.67,877.86 L1908.69,877.71 L1910.72,877.53 L1912.74,877.35 L1914.76,877.15 L1916.78,876.95 L1918.8,876.73 L1920.82,876.5 L1922.85,876.27 L1924.87,876.02 L1926.89,875.77 L1928.91,875.52 L1930.93,875.26 L1932.95,874.99 L1934.98,874.73 L1937,874.46 L1939.02,874.19 L1941.04,873.92 L1943.06,873.65 L1945.08,873.38 L1947.11,873.11 L1949.13,872.85 L1951.15,872.6 L1953.17,872.34 L1955.19,872.1 L1957.21,871.86 L1959.24,871.63 L1961.26,871.41 L1963.28,871.2 L1965.3,871 L1967.32,870.81 L1969.34,870.62 L1971.35,870.43 L1973.37,870.25 L1975.39,870.07 L1977.41,869.89 L1979.42,869.72 L1981.44,869.54 L1983.46,869.37 L1985.48,869.2 L1987.49,869.03 L1989.51,868.86 L1991.53,868.69 L1993.55,868.51 L1995.56,868.34 L1997.58,868.17 L1999.6,868 L2001.62,867.83 L2003.64,867.65 L2005.65,867.48 L2007.67,867.3 L2009.69,867.12 L2011.71,866.94 L2013.72,866.75 L2015.74,866.57 L2017.76,866.37 L2019.78,866.18 L2021.79,865.98 L2023.81,865.78 L2025.83,865.57 L2027.85,865.36 L2029.86,865.15 L2031.88,864.93 L2033.9,864.7 L2035.98,864.45 L2038.05,864.16 L2040.13,863.84 L2042.2,863.49 L2044.28,863.13 L2046.36,862.75 L2048.43,862.36 L2050.51,861.96 L2052.59,861.57 L2054.66,861.18 L2056.74,860.79 L2058.81,860.42 L2060.89,860.07 L2062.97,859.74 L2065.04,859.44 L2067.12,859.17 L2069.2,858.94 L2071.27,858.76 L2073.35,858.62 L2075.42,858.53 L2077.5,858.5 L2079.56,858.6 L2081.61,858.89 L2083.67,859.31 L2085.72,859.85 L2087.78,860.46 L2089.83,861.11 L2091.89,861.75 L2093.94,862.36 L2096,862.9" fill="none" stroke="#00a050" stroke-width="5.3" stroke-linejoin="round"/>
<path d="M140.6,1181.7 L142.79,1181.7 L144.98,1181.7 L147.17,1181.7 L149.36,1181.7 L151.54,1181.7 L153.73,1181.7 L155.92,1181.7 L158.11,1181.7 L160.3,1181.7 L162.32,1181.7 L164.33,1181.7 L166.35,1181.7 L168.37,1181.7 L170.38,1181.7 L172.4,1181.7 L174.42,1181.7 L176.43,1181.7 L178.45,1181.7 L180.47,1181.7 L182.48,1181.7 L184.5,1181.7 L186.52,1181.7 L188.53,1181.7 L190.55,1181.7 L192.57,1181.7 L194.58,1181.7 L196.6,1181.7 L198.62,1181.66 L200.64,1181.56 L202.66,1181.39 L204.68,1181.17 L206.7,1180.91 L208.72,1180.6 L210.74,1180.26 L212.76,1179.89 L214.78,1179.51 L216.8,1179.11 L218.82,1178.71 L220.84,1178.31 L222.86,1177.92 L224.88,1177.55 L226.9,1177.2 L228.92,1176.86 L230.93,1176.52 L232.95,1176.18 L234.97,1175.82 L236.98,1175.46 L239,1175.1 L241.02,1174.72 L243.03,1174.34 L245.05,1173.94 L247.07,1173.54 L249.08,1173.13 L251.1,1172.7 L253.12,1172.27 L255.13,1171.84 L257.15,1171.4 L259.17,1170.96 L261.18,1170.5 L263.2,1170.02 L265.22,1169.53 L267.23,1169.01 L269.25,1168.46 L271.27,1167.88 L273.28,1167.26 L275.3,1166.6 L277.42,1165.81 L279.54,1164.89 L281.66,1163.88 L283.78,1162.78 L285.9,1161.63 L288.02,1160.45 L290.14,1159.28 L292.26,1158.13 L294.38,1157.03 L296.5,1156 L298.62,1155.04 L300.74,1154.11 L302.86,1153.21 L304.98,1152.33 L307.1,1151.45 L309.22,1150.57 L311.34,1149.69 L313.46,1148.79 L315.58,1147.86 L317.7,1146.9 L319.71,1145.98 L321.72,1145.07 L323.73,1144.16 L325.74,1143.24 L327.76,1142.28 L329.77,1141.29 L331.78,1140.23 L333.79,1139.11 L335.8,1137.9 L337.82,1136.56 L339.84,1135.07 L341.87,1133.46 L343.89,1131.75 L345.91,1129.98 L347.93,1128.16 L349.96,1126.32 L351.98,1124.49 L354,1122.7 L356.01,1120.93 L358.02,1119.15 L360.03,1117.34 L362.04,1115.52 L364.06,1113.67 L366.07,1111.81 L368.08,1109.93 L370.09,1108.02 L372.1,1106.1 L374.73,1103.57 L377.37,1100.97 L380,1098.2 L382.1,1095.87 L384.2,1093.47 L386.3,1090.97 L388.4,1088.34 L390.5,1085.52 L392.6,1082.5 L394.7,1079.31 L396.8,1075.95 L398.9,1072.32 L401,1068.34 L403.1,1063.9 L405.2,1058.9 L407.3,1052.38 L409.4,1044.49 L411.5,1036.8 L413.6,1029.99 L415.7,1023.36 L417.8,1016.4 L419.9,1009.09 L422,1001.4 L424.1,992.8 L427.2,977 L429.3,969.97 L431.4,964.2 L433.5,958.1 L435.6,951.01 L437.7,943.56 L439.8,936.1 L441.9,928.57 L444,921.04 L446.1,914.1 L448.2,907.55 L450.3,901.46 L452.4,896.8 L454.5,893.58 L456.6,891.02 L458.7,888.9 L460.8,886.81 L462.9,884.98 L465,884.2 L467.1,885.24 L469.2,887.68 L471.3,890.5 L473.93,894.48 L476.57,899.37 L479.2,904.6 L481.8,909.63 L484.4,915.07 L487,921.9 L489.35,931.49 L491.7,942.4 L494.1,951.95 L496.5,961.3 L498.85,970.73 L501.2,980.2 L503.55,989.89 L505.9,999.1 L508,1006.07 L510.1,1012.53 L512.2,1019.5 L514.55,1029.04 L516.9,1038.4 L519,1045.73 L521.1,1052.41 L523.2,1057.3 L525.58,1060.73 L527.95,1063.28 L530.33,1065.59 L532.7,1068.3 L534.8,1071.66 L536.9,1075.26 L539,1077.7 L541.6,1078.96 L544.2,1079.79 L546.8,1080.9 L549,1082.69 L551.2,1085.2 L553.4,1087.92 L555.6,1090.33 L557.8,1091.9 L560.02,1092.81 L562.24,1093.57 L564.46,1094.2 L566.68,1094.7 L568.9,1095.1 L570.91,1095.37 L572.93,1095.57 L574.94,1095.73 L576.96,1095.88 L578.97,1096.06 L580.99,1096.29 L583,1096.6 L585.38,1097.58 L587.75,1099.17 L590.12,1100.65 L592.5,1101.3 L594.74,1101.22 L596.99,1101 L599.23,1100.71 L601.47,1100.39 L603.71,1100.1 L605.96,1099.88 L608.2,1099.8 L610.3,1099.97 L612.4,1100.42 L614.5,1101.03 L616.6,1101.72 L618.7,1102.38 L620.8,1102.9 L622.93,1103.35 L625.07,1103.82 L627.2,1104.3 L629.33,1104.76 L631.47,1105.19 L633.6,1105.56 L635.73,1105.84 L637.87,1106.03 L640,1106.1 L642.7,1105.6 L645.4,1105.1 L647.67,1106.27 L649.95,1108.85 L652.23,1111.43 L654.5,1112.6 L656.66,1112.6 L658.81,1112.6 L660.97,1112.6 L663.13,1112.6 L665.29,1112.6 L667.44,1112.6 L669.6,1112.6 L671.88,1113.64 L674.15,1116.02 L676.43,1118.58 L678.7,1120.2 L680.72,1120.81 L682.73,1121.29 L684.75,1121.67 L686.77,1121.98 L688.78,1122.24 L690.8,1122.47 L692.82,1122.7 L694.83,1122.95 L696.85,1123.25 L698.87,1123.63 L700.88,1124.1 L702.9,1124.7 L704.92,1125.85 L706.93,1127.71 L708.95,1129.94 L710.97,1132.19 L712.98,1134.09 L715,1135.3 L717.12,1135.99 L719.24,1136.52 L721.36,1136.94 L723.48,1137.28 L725.6,1137.59 L727.72,1137.89 L729.84,1138.24 L731.96,1138.66 L734.08,1139.2 L736.2,1139.9 L738.48,1141.23 L740.75,1143.22 L743.02,1145.43 L745.3,1147.4 L747.31,1149.01 L749.32,1150.76 L751.33,1152.57 L753.34,1154.35 L755.36,1156 L757.37,1157.44 L759.38,1158.58 L761.39,1159.33 L763.4,1159.6 L765.42,1159.37 L767.43,1158.8 L769.45,1158.05 L771.47,1157.3 L773.48,1156.73 L775.5,1156.5 L777.53,1157.17 L779.57,1158.87 L781.6,1161.17 L783.63,1163.6 L785.67,1165.73 L787.7,1167.1 L789.72,1167.89 L791.73,1168.58 L793.75,1169.18 L795.77,1169.72 L797.78,1170.21 L799.8,1170.65 L801.82,1171.07 L803.83,1171.47 L805.85,1171.87 L807.87,1172.28 L809.88,1172.72 L811.9,1173.2 L813.92,1173.72 L815.93,1174.26 L817.95,1174.82 L819.97,1175.39 L821.98,1175.95 L824,1176.51 L826.02,1177.05 L828.03,1177.56 L830.05,1178.04 L832.07,1178.48 L834.08,1178.87 L836.1,1179.2 L838.11,1179.5 L840.13,1179.8 L842.14,1180.09 L844.15,1180.38 L846.17,1180.66 L848.18,1180.93 L850.19,1181.19 L852.21,1181.42 L854.22,1181.64 L856.23,1181.83 L858.25,1181.99 L860.26,1182.12 L862.27,1182.22 L864.29,1182.28 L866.3,1182.3 L868.32,1182.28 L870.34,1182.23 L872.36,1182.15 L874.38,1182.04 L876.4,1181.9 L878.41,1181.74 L880.43,1181.55 L882.45,1181.34 L884.47,1181.11 L886.49,1180.87 L888.51,1180.61 L890.53,1180.34 L892.55,1180.06 L894.57,1179.77 L896.59,1179.48 L898.6,1179.18 L900.62,1178.88 L902.64,1178.58 L904.66,1178.28 L906.68,1177.99 L908.7,1177.7 L910.72,1177.42 L912.73,1177.13 L914.75,1176.83 L916.77,1176.53 L918.78,1176.2 L920.8,1175.86 L922.82,1175.5 L924.83,1175.11 L926.85,1174.69 L928.87,1174.23 L930.88,1173.74 L932.9,1173.2 L934.92,1172.59 L936.94,1171.87 L938.97,1171.06 L940.99,1170.14 L943.01,1169.13 L945.03,1168.02 L947.06,1166.81 L949.08,1165.5 L951.1,1164.1 L953.26,1162.17 L955.41,1159.63 L957.57,1156.71 L959.73,1153.64 L961.89,1150.66 L964.04,1148 L966.2,1145.9 L968.22,1144.24 L970.23,1142.61 L972.25,1141.1 L974.27,1139.82 L976.28,1138.89 L978.3,1138.4 L980.4,1138.17 L982.5,1137.96 L984.6,1137.78 L986.7,1137.61 L988.8,1137.46 L990.9,1137.32 L993,1137.21 L995.1,1137.11 L997.2,1137.04 L999.3,1136.98 L1001.4,1136.93 L1003.5,1136.91 L1005.6,1136.9 L1007.62,1137.18 L1009.63,1137.92 L1011.65,1139 L1013.67,1140.27 L1015.68,1141.62 L1017.7,1142.9 L1019.72,1144.37 L1021.73,1146.21 L1023.75,1148.14 L1025.77,1149.93 L1027.78,1151.3 L1029.8,1152 L1031.92,1152.25 L1034.04,1152.44 L1036.16,1152.57 L1038.28,1152.66 L1040.4,1152.74 L1042.52,1152.82 L1044.64,1152.91 L1046.76,1153.05 L1048.88,1153.24 L1051,1153.5 L1053.25,1154.58 L1055.5,1156.57 L1057.75,1158.54 L1060,1159.6 L1062.03,1159.84 L1064.05,1160.02 L1066.08,1160.17 L1068.1,1160.28 L1070.12,1160.37 L1072.15,1160.45 L1074.17,1160.52 L1076.2,1160.59 L1078.22,1160.68 L1080.25,1160.79 L1082.27,1160.92 L1084.3,1161.1 L1086.46,1161.4 L1088.61,1161.82 L1090.77,1162.33 L1092.93,1162.86 L1095.09,1163.37 L1097.24,1163.8 L1099.4,1164.1 L1101.45,1164.3 L1103.5,1164.5 L1105.56,1164.7 L1107.61,1164.89 L1109.66,1165.07 L1111.71,1165.25 L1113.76,1165.42 L1115.81,1165.59 L1117.87,1165.75 L1119.92,1165.9 L1121.97,1166.05 L1124.02,1166.19 L1126.07,1166.33 L1128.13,1166.45 L1130.18,1166.57 L1132.23,1166.68 L1134.28,1166.79 L1136.33,1166.88 L1138.39,1166.97 L1140.44,1167.04 L1142.49,1167.11 L1144.54,1167.17 L1146.59,1167.21 L1148.64,1167.25 L1150.7,1167.28 L1152.75,1167.29 L1154.8,1167.3 L1156.83,1167.29 L1158.87,1167.27 L1160.9,1167.24 L1162.93,1167.19 L1164.96,1167.14 L1167,1167.07 L1169.03,1166.99 L1171.06,1166.9 L1173.09,1166.8 L1175.13,1166.69 L1177.16,1166.58 L1179.19,1166.45 L1181.22,1166.32 L1183.26,1166.18 L1185.29,1166.03 L1187.32,1165.88 L1189.35,1165.72 L1191.39,1165.56 L1193.42,1165.39 L1195.45,1165.22 L1197.48,1165.04 L1199.52,1164.86 L1201.55,1164.68 L1203.58,1164.5 L1205.62,1164.31 L1207.65,1164.13 L1209.68,1163.94 L1211.71,1163.76 L1213.75,1163.57 L1215.78,1163.39 L1217.81,1163.2 L1219.84,1163.02 L1221.88,1162.85 L1223.91,1162.67 L1225.94,1162.5 L1227.97,1162.33 L1230.01,1162.17 L1232.04,1162.01 L1234.07,1161.86 L1236.1,1161.71 L1238.14,1161.58 L1240.17,1161.44 L1242.2,1161.32 L1244.23,1161.2 L1246.27,1161.1 L1248.3,1161 L1250.38,1160.9 L1252.46,1160.81 L1254.54,1160.7 L1256.62,1160.6 L1258.7,1160.5 L1260.78,1160.4 L1262.85,1160.3 L1264.93,1160.2 L1267.01,1160.1 L1269.09,1160 L1271.17,1159.91 L1273.25,1159.82 L1275.33,1159.73 L1277.41,1159.65 L1279.49,1159.57 L1281.57,1159.5 L1283.65,1159.43 L1285.72,1159.37 L1287.8,1159.32 L1289.88,1159.28 L1291.96,1159.25 L1294.04,1159.22 L1296.12,1159.21 L1298.2,1159.2 L1300.23,1159.21 L1302.26,1159.22 L1304.28,1159.26 L1306.31,1159.3 L1308.34,1159.35 L1310.37,1159.41 L1312.39,1159.48 L1314.42,1159.57 L1316.45,1159.66 L1318.47,1159.76 L1320.5,1159.86 L1322.53,1159.98 L1324.56,1160.1 L1326.59,1160.22 L1328.61,1160.36 L1330.64,1160.5 L1332.67,1160.64 L1334.69,1160.79 L1336.72,1160.94 L1338.75,1161.1 L1340.78,1161.26 L1342.81,1161.42 L1344.83,1161.58 L1346.86,1161.75 L1348.89,1161.91 L1350.91,1162.08 L1352.94,1162.24 L1354.97,1162.41 L1357,1162.58 L1359.03,1162.74 L1361.05,1162.9 L1363.08,1163.06 L1365.11,1163.22 L1367.13,1163.37 L1369.16,1163.52 L1371.19,1163.67 L1373.22,1163.81 L1375.24,1163.95 L1377.27,1164.08 L1379.3,1164.2 L1381.32,1164.32 L1383.34,1164.45 L1385.36,1164.58 L1387.39,1164.72 L1389.41,1164.86 L1391.43,1165.01 L1393.45,1165.16 L1395.47,1165.31 L1397.49,1165.46 L1399.52,1165.61 L1401.54,1165.77 L1403.56,1165.92 L1405.58,1166.08 L1407.6,1166.23 L1409.62,1166.38 L1411.65,1166.54 L1413.67,1166.69 L1415.69,1166.83 L1417.71,1166.98 L1419.73,1167.12 L1421.75,1167.26 L1423.78,1167.39 L1425.8,1167.51 L1427.82,1167.64 L1429.84,1167.75 L1431.86,1167.86 L1433.88,1167.96 L1435.91,1168.06 L1437.93,1168.15 L1439.95,1168.23 L1441.97,1168.3 L1443.99,1168.36 L1446.01,1168.41 L1448.04,1168.45 L1450.06,1168.48 L1452.08,1168.49 L1454.1,1168.5 L1456.14,1168.5 L1458.17,1168.49 L1460.21,1168.49 L1462.25,1168.48 L1464.28,1168.47 L1466.32,1168.46 L1468.36,1168.44 L1470.39,1168.42 L1472.43,1168.4 L1474.47,1168.38 L1476.5,1168.36 L1478.54,1168.34 L1480.57,1168.31 L1482.61,1168.29 L1484.65,1168.26 L1486.68,1168.23 L1488.72,1168.2 L1490.76,1168.17 L1492.79,1168.14 L1494.83,1168.1 L1496.87,1168.07 L1498.9,1168.04 L1500.94,1168 L1502.98,1167.97 L1505.01,1167.93 L1507.05,1167.9 L1509.09,1167.87 L1511.12,1167.83 L1513.16,1167.8 L1515.2,1167.76 L1517.23,1167.73 L1519.27,1167.7 L1521.31,1167.66 L1523.34,1167.63 L1525.38,1167.6 L1527.42,1167.57 L1529.45,1167.54 L1531.49,1167.51 L1533.53,1167.49 L1535.56,1167.46 L1537.6,1167.44 L1539.63,1167.42 L1541.67,1167.4 L1543.71,1167.38 L1545.74,1167.36 L1547.78,1167.34 L1549.82,1167.33 L1551.85,1167.32 L1553.89,1167.31 L1555.93,1167.31 L1557.96,1167.3 L1560,1167.3 L1562.04,1167.31 L1564.07,1167.33 L1566.11,1167.37 L1568.15,1167.43 L1570.18,1167.5 L1572.22,1167.58 L1574.26,1167.68 L1576.29,1167.79 L1578.33,1167.91 L1580.37,1168.04 L1582.4,1168.19 L1584.44,1168.34 L1586.48,1168.5 L1588.51,1168.67 L1590.55,1168.85 L1592.59,1169.03 L1594.62,1169.22 L1596.66,1169.42 L1598.7,1169.62 L1600.73,1169.83 L1602.77,1170.04 L1604.81,1170.26 L1606.84,1170.47 L1608.88,1170.69 L1610.92,1170.91 L1612.96,1171.13 L1614.99,1171.35 L1617.03,1171.57 L1619.07,1171.79 L1621.1,1172 L1623.14,1172.21 L1625.18,1172.42 L1627.21,1172.63 L1629.25,1172.83 L1631.29,1173.02 L1633.32,1173.21 L1635.36,1173.39 L1637.4,1173.57 L1639.43,1173.73 L1641.47,1173.89 L1643.51,1174.04 L1645.54,1174.18 L1647.58,1174.3 L1649.62,1174.42 L1651.65,1174.52 L1653.69,1174.61 L1655.73,1174.69 L1657.76,1174.75 L1659.8,1174.8 L1661.8,1174.84 L1663.81,1174.88 L1665.81,1174.92 L1667.81,1174.96 L1669.82,1175 L1671.82,1175.03 L1673.83,1175.07 L1675.83,1175.11 L1677.83,1175.15 L1679.84,1175.18 L1681.84,1175.22 L1683.84,1175.25 L1685.85,1175.29 L1687.85,1175.32 L1689.85,1175.36 L1691.86,1175.39 L1693.86,1175.42 L1695.86,1175.46 L1697.87,1175.49 L1699.87,1175.52 L1701.88,1175.55 L1703.88,1175.59 L1705.88,1175.62 L1707.89,1175.65 L1709.89,1175.68 L1711.89,1175.71 L1713.9,1175.74 L1715.9,1175.77 L1717.9,1175.79 L1719.91,1175.82 L1721.91,1175.85 L1723.91,1175.88 L1725.92,1175.9 L1727.92,1175.93 L1729.92,1175.95 L1731.93,1175.98 L1733.93,1176 L1735.94,1176.03 L1737.94,1176.05 L1739.94,1176.08 L1741.95,1176.1 L1743.95,1176.12 L1745.95,1176.14 L1747.96,1176.16 L1749.96,1176.19 L1751.96,1176.21 L1753.97,1176.23 L1755.97,1176.24 L1757.97,1176.26 L1759.98,1176.28 L1761.98,1176.3 L1763.99,1176.32 L1765.99,1176.33 L1767.99,1176.35 L1770,1176.37 L1772,1176.38 L1774,1176.4 L1776.01,1176.41 L1778.01,1176.43 L1780.01,1176.44 L1782.02,1176.45 L1784.02,1176.46 L1786.02,1176.48 L1788.03,1176.49 L1790.03,1176.5 L1792.04,1176.51 L1794.04,1176.52 L1796.04,1176.53 L1798.05,1176.54 L1800.05,1176.54 L1802.05,1176.55 L1804.06,1176.56 L1806.06,1176.57 L1808.06,1176.57 L1810.07,1176.58 L1812.07,1176.58 L1814.07,1176.59 L1816.08,1176.59 L1818.08,1176.59 L1820.09,1176.6 L1822.09,1176.6 L1824.09,1176.6 L1826.1,1176.6 L1828.1,1176.6 L1830.11,1176.6 L1832.12,1176.6 L1834.12,1176.6 L1836.13,1176.6 L1838.14,1176.6 L1840.15,1176.6 L1842.15,1176.6 L1844.16,1176.6 L1846.17,1176.6 L1848.18,1176.6 L1850.18,1176.6 L1852.19,1176.6 L1854.2,1176.6 L1856.21,1176.6 L1858.21,1176.6 L1860.22,1176.6 L1862.23,1176.6 L1864.24,1176.6 L1866.24,1176.6 L1868.25,1176.6 L1870.26,1176.6 L1872.27,1176.6 L1874.28,1176.6 L1876.28,1176.6 L1878.29,1176.6 L1880.3,1176.6 L1882.31,1176.6 L1884.31,1176.6 L1886.32,1176.6 L1888.33,1176.6 L1890.34,1176.6 L1892.34,1176.6 L1894.35,1176.6 L1896.36,1176.6 L1898.37,1176.6 L1900.37,1176.6 L1902.38,1176.6 L1904.39,1176.6 L1906.4,1176.6 L1908.41,1176.6 L1910.41,1176.6 L1912.42,1176.6 L1914.43,1176.6 L1916.44,1176.6 L1918.44,1176.6 L1920.45,1176.6 L1922.46,1176.6 L1924.47,1176.6 L1926.47,1176.6 L1928.48,1176.6 L1930.49,1176.6 L1932.5,1176.6 L1934.5,1176.6 L1936.51,1176.6 L1938.52,1176.6 L1940.53,1176.6 L1942.53,1176.6 L1944.54,1176.6 L1946.55,1176.6 L1948.56,1176.6 L1950.57,1176.6 L1952.57,1176.6 L1954.58,1176.6 L1956.59,1176.6 L1958.6,1176.6 L1960.6,1176.6 L1962.61,1176.6 L1964.62,1176.6 L1966.63,1176.6 L1968.63,1176.6 L1970.64,1176.6 L1972.65,1176.6 L1974.66,1176.6 L1976.66,1176.6 L1978.67,1176.6 L1980.68,1176.6 L1982.69,1176.6 L1984.69,1176.6 L1986.7,1176.6 L1988.71,1176.6 L1990.72,1176.6 L1992.73,1176.6 L1994.73,1176.6 L1996.74,1176.6 L1998.75,1176.6 L2000.76,1176.6 L2002.76,1176.6 L2004.77,1176.6 L2006.78,1176.6 L2008.79,1176.6 L2010.79,1176.6 L2012.8,1176.6 L2014.81,1176.6 L2016.82,1176.6 L2018.82,1176.6 L2020.83,1176.6 L2022.84,1176.6 L2024.85,1176.6 L2026.86,1176.6 L2028.86,1176.6 L2030.87,1176.6 L2032.88,1176.6 L2034.89,1176.6 L2036.89,1176.6 L2038.9,1176.6 L2040.91,1176.6 L2042.92,1176.6 L2044.92,1176.6 L2046.93,1176.6 L2048.94,1176.6 L2050.95,1176.6 L2052.95,1176.6 L2054.96,1176.6 L2056.97,1176.6 L2058.98,1176.6 L2060.98,1176.6 L2062.99,1176.6 L2065,1176.6 L2067.07,1176.63 L2069.13,1176.71 L2071.2,1176.83 L2073.27,1176.99 L2075.33,1177.19 L2077.4,1177.42 L2079.47,1177.67 L2081.53,1177.93 L2083.6,1178.21 L2085.67,1178.5 L2087.73,1178.78 L2089.8,1179.06 L2091.87,1179.32 L2093.93,1179.57 L2096,1179.8" fill="none" stroke="#0062e0" stroke-width="5.3" stroke-linejoin="round"/>
<path d="M140.6,1480.2 L142.74,1480.33 L144.88,1480.46 L147.03,1480.59 L149.17,1480.72 L151.31,1480.85 L153.45,1480.98 L155.59,1481.11 L157.73,1481.24 L159.88,1481.36 L162.02,1481.48 L164.16,1481.59 L166.3,1481.7 L168.37,1481.8 L170.45,1481.91 L172.52,1482.02 L174.59,1482.13 L176.67,1482.25 L178.74,1482.36 L180.82,1482.47 L182.89,1482.58 L184.96,1482.69 L187.04,1482.79 L189.11,1482.88 L191.18,1482.97 L193.26,1483.05 L195.33,1483.12 L197.41,1483.18 L199.48,1483.23 L201.55,1483.27 L203.63,1483.29 L205.7,1483.3 L207.86,1482.99 L210.01,1482.18 L212.17,1481.05 L214.33,1479.81 L216.49,1478.62 L218.64,1477.69 L220.8,1477.2 L222.82,1477.02 L224.84,1476.88 L226.86,1476.78 L228.88,1476.69 L230.9,1476.62 L232.92,1476.57 L234.94,1476.52 L236.96,1476.47 L238.98,1476.42 L241,1476.36 L243.02,1476.29 L245.04,1476.19 L247.06,1476.06 L249.08,1475.9 L251.1,1475.7 L253.35,1474.74 L255.6,1472.89 L257.85,1470.91 L260.1,1469.6 L262.18,1468.98 L264.26,1468.45 L266.34,1467.99 L268.43,1467.6 L270.51,1467.25 L272.59,1466.95 L274.67,1466.68 L276.75,1466.42 L278.83,1466.17 L280.91,1465.92 L282.99,1465.64 L285.07,1465.34 L287.16,1464.99 L289.24,1464.6 L291.32,1464.14 L293.4,1463.6 L295.42,1462.94 L297.44,1462.12 L299.47,1461.17 L301.49,1460.11 L303.51,1458.99 L305.53,1457.83 L307.56,1456.68 L309.58,1455.56 L311.6,1454.5 L313.69,1453.47 L315.78,1452.46 L317.88,1451.46 L319.97,1450.48 L322.06,1449.5 L324.15,1448.51 L326.25,1447.51 L328.34,1446.49 L330.43,1445.45 L332.52,1444.38 L334.62,1443.27 L336.71,1442.11 L338.8,1440.9 L340.97,1439.6 L343.14,1438.26 L345.31,1436.85 L347.49,1435.37 L349.66,1433.8 L351.83,1432.11 L354,1430.3 L356.01,1428.4 L358.02,1426.25 L360.03,1423.9 L362.04,1421.41 L364.06,1418.85 L366.07,1416.27 L368.08,1413.75 L370.09,1411.34 L372.1,1409.1 L374.73,1406.59 L377.37,1404.21 L380,1401.3 L382.24,1397.9 L384.49,1393.67 L386.73,1388.84 L388.97,1383.66 L391.21,1378.34 L393.46,1373.15 L395.7,1368.3 L397.96,1363.9 L400.21,1359.79 L402.47,1355.79 L404.73,1351.69 L406.99,1347.29 L409.24,1342.39 L411.5,1336.8 L414.1,1328.47 L416.7,1318.47 L419.3,1308.5 L421.93,1299.5 L424.57,1290.54 L427.2,1280.2 L429.55,1267.25 L431.9,1255 L434.53,1246.58 L437.17,1239.88 L439.8,1233 L441.9,1226.59 L444,1220.03 L446.1,1214.1 L448.73,1207.86 L451.37,1202.25 L454,1196.8 L456.35,1191.09 L458.7,1187.3 L460.8,1186.45 L462.9,1185.9 L465,1185.7 L467.35,1186.35 L469.7,1188.08 L472.05,1190.6 L474.4,1193.6 L476.5,1198.03 L478.6,1204.44 L480.7,1210.9 L483.07,1217.27 L485.45,1223.52 L487.82,1230.16 L490.2,1237.7 L492.3,1245.91 L494.4,1255.24 L496.5,1264.4 L498.6,1272.95 L500.7,1281.33 L502.8,1289.6 L505.4,1299.01 L508,1308.27 L510.6,1319.5 L513.8,1340 L516.4,1344.99 L519,1348.03 L521.6,1351 L523.98,1354.12 L526.35,1357.12 L528.73,1360.21 L531.1,1363.6 L533.2,1367.54 L535.3,1371.79 L537.4,1374.6 L539.64,1375.95 L541.89,1376.89 L544.13,1377.57 L546.37,1378.16 L548.61,1378.81 L550.86,1379.67 L553.1,1380.9 L555.2,1383.56 L557.3,1387.06 L559.4,1388.8 L561.6,1388.3 L563.8,1387.11 L566,1385.69 L568.2,1384.5 L570.4,1384 L572.5,1386.05 L574.6,1389.85 L576.7,1391.9 L578.77,1391.9 L580.85,1391.9 L582.92,1391.9 L584.99,1391.9 L587.07,1391.9 L589.14,1391.9 L591.22,1391.9 L593.29,1391.9 L595.36,1391.9 L597.44,1391.9 L599.51,1391.9 L601.58,1391.9 L603.66,1391.9 L605.73,1391.9 L607.81,1391.9 L609.88,1391.9 L611.95,1391.9 L614.03,1391.9 L616.1,1391.9 L618.45,1393.03 L620.8,1395.58 L623.15,1398.26 L625.5,1399.8 L627.9,1400.29 L630.3,1400.5 L632.46,1400.33 L634.61,1399.91 L636.77,1399.32 L638.93,1398.68 L641.09,1398.09 L643.24,1397.67 L645.4,1397.5 L647.42,1397.68 L649.44,1398.2 L651.47,1398.99 L653.49,1400 L655.51,1401.19 L657.53,1402.5 L659.56,1403.87 L661.58,1405.25 L663.6,1406.6 L665.85,1408.4 L668.1,1410.57 L670.35,1412.65 L672.6,1414.2 L674.62,1415.12 L676.64,1415.9 L678.67,1416.56 L680.69,1417.14 L682.71,1417.68 L684.73,1418.23 L686.76,1418.8 L688.78,1419.45 L690.8,1420.2 L692.82,1421.09 L694.83,1422.1 L696.85,1423.17 L698.87,1424.26 L700.88,1425.32 L702.9,1426.3 L704.92,1427.19 L706.94,1428.01 L708.97,1428.8 L710.99,1429.56 L713.01,1430.32 L715.03,1431.11 L717.06,1431.94 L719.08,1432.83 L721.1,1433.8 L723.12,1434.94 L725.13,1436.27 L727.15,1437.68 L729.17,1439.07 L731.18,1440.34 L733.2,1441.4 L735.29,1442.29 L737.38,1443.06 L739.48,1443.75 L741.57,1444.36 L743.66,1444.94 L745.75,1445.48 L747.85,1446.03 L749.94,1446.59 L752.03,1447.2 L754.12,1447.87 L756.22,1448.63 L758.31,1449.5 L760.4,1450.5 L762.67,1452.17 L764.95,1454.42 L767.23,1456.58 L769.5,1458 L771.52,1458.68 L773.54,1459.27 L775.56,1459.77 L777.58,1460.2 L779.6,1460.58 L781.62,1460.92 L783.64,1461.22 L785.66,1461.5 L787.68,1461.78 L789.7,1462.07 L791.72,1462.38 L793.74,1462.73 L795.76,1463.12 L797.78,1463.57 L799.8,1464.1 L801.91,1464.82 L804.02,1465.75 L806.13,1466.83 L808.24,1468 L810.35,1469.19 L812.46,1470.33 L814.57,1471.37 L816.68,1472.24 L818.79,1472.87 L820.9,1473.2 L822.97,1473.35 L825.05,1473.47 L827.12,1473.57 L829.19,1473.66 L831.27,1473.73 L833.34,1473.8 L835.42,1473.85 L837.49,1473.89 L839.56,1473.93 L841.64,1473.97 L843.71,1474.01 L845.78,1474.06 L847.86,1474.11 L849.93,1474.17 L852.01,1474.24 L854.08,1474.33 L856.15,1474.43 L858.23,1474.55 L860.3,1474.7 L862.32,1475.03 L864.33,1475.61 L866.35,1476.31 L868.37,1476.99 L870.38,1477.5 L872.4,1477.7 L874.42,1477.69 L876.43,1477.65 L878.45,1477.58 L880.47,1477.5 L882.48,1477.39 L884.5,1477.26 L886.52,1477.12 L888.53,1476.96 L890.55,1476.79 L892.57,1476.6 L894.58,1476.4 L896.6,1476.2 L898.72,1475.9 L900.84,1475.47 L902.96,1474.92 L905.08,1474.28 L907.2,1473.58 L909.32,1472.85 L911.44,1472.11 L913.56,1471.39 L915.68,1470.71 L917.8,1470.1 L919.82,1469.59 L921.83,1469.12 L923.85,1468.69 L925.87,1468.27 L927.88,1467.86 L929.9,1467.44 L931.92,1467.01 L933.93,1466.54 L935.95,1466.03 L937.97,1465.46 L939.98,1464.82 L942,1464.1 L944.16,1463.13 L946.31,1461.89 L948.47,1460.43 L950.63,1458.81 L952.79,1457.08 L954.94,1455.29 L957.1,1453.5 L959.27,1451.53 L961.44,1449.27 L963.61,1446.86 L965.79,1444.44 L967.96,1442.13 L970.13,1440.07 L972.3,1438.4 L974.32,1437.02 L976.33,1435.63 L978.35,1434.35 L980.37,1433.29 L982.38,1432.57 L984.4,1432.3 L986.56,1432.3 L988.71,1432.3 L990.87,1432.3 L993.03,1432.3 L995.19,1432.3 L997.34,1432.3 L999.5,1432.3 L1001.77,1433.43 L1004.05,1435.95 L1006.33,1438.54 L1008.6,1439.9 L1010.62,1440.14 L1012.63,1440.31 L1014.65,1440.45 L1016.67,1440.54 L1018.68,1440.62 L1020.7,1440.68 L1022.72,1440.73 L1024.73,1440.8 L1026.75,1440.89 L1028.77,1441.02 L1030.78,1441.18 L1032.8,1441.4 L1034.82,1442.04 L1036.83,1443.28 L1038.85,1444.86 L1040.87,1446.52 L1042.88,1447.99 L1044.9,1449 L1047,1449.7 L1049.1,1450.35 L1051.2,1450.94 L1053.3,1451.49 L1055.4,1452 L1057.5,1452.46 L1059.6,1452.9 L1061.7,1453.3 L1063.8,1453.68 L1065.9,1454.03 L1068,1454.37 L1070.1,1454.69 L1072.2,1455 L1074.29,1455.31 L1076.38,1455.63 L1078.48,1455.95 L1080.57,1456.27 L1082.66,1456.57 L1084.75,1456.86 L1086.85,1457.13 L1088.94,1457.37 L1091.03,1457.58 L1093.12,1457.76 L1095.22,1457.89 L1097.31,1457.97 L1099.4,1458 L1101.4,1458 L1103.41,1457.99 L1105.41,1457.98 L1107.41,1457.96 L1109.41,1457.94 L1111.42,1457.92 L1113.42,1457.89 L1115.42,1457.86 L1117.42,1457.83 L1119.43,1457.79 L1121.43,1457.75 L1123.43,1457.71 L1125.44,1457.66 L1127.44,1457.61 L1129.44,1457.56 L1131.44,1457.5 L1133.45,1457.44 L1135.45,1457.38 L1137.45,1457.32 L1139.45,1457.26 L1141.46,1457.19 L1143.46,1457.12 L1145.46,1457.05 L1147.46,1456.98 L1149.47,1456.91 L1151.47,1456.84 L1153.47,1456.76 L1155.48,1456.69 L1157.48,1456.61 L1159.48,1456.54 L1161.48,1456.46 L1163.49,1456.38 L1165.49,1456.31 L1167.49,1456.23 L1169.49,1456.15 L1171.5,1456.08 L1173.5,1456 L1175.52,1455.92 L1177.54,1455.82 L1179.55,1455.71 L1181.57,1455.6 L1183.59,1455.47 L1185.61,1455.33 L1187.62,1455.19 L1189.64,1455.04 L1191.66,1454.88 L1193.68,1454.72 L1195.69,1454.56 L1197.71,1454.39 L1199.73,1454.22 L1201.75,1454.04 L1203.76,1453.87 L1205.78,1453.7 L1207.8,1453.52 L1209.82,1453.36 L1211.84,1453.19 L1213.85,1453.03 L1215.87,1452.87 L1217.89,1452.72 L1219.91,1452.57 L1221.92,1452.44 L1223.94,1452.31 L1225.96,1452.19 L1227.98,1452.08 L1229.99,1451.99 L1232.01,1451.9 L1234.03,1451.83 L1236.05,1451.78 L1238.06,1451.73 L1240.08,1451.71 L1242.1,1451.7 L1244.12,1451.7 L1246.14,1451.7 L1248.16,1451.7 L1250.19,1451.7 L1252.21,1451.7 L1254.23,1451.7 L1256.25,1451.7 L1258.27,1451.7 L1260.29,1451.7 L1262.32,1451.7 L1264.34,1451.7 L1266.36,1451.7 L1268.38,1451.7 L1270.4,1451.7 L1272.42,1451.7 L1274.45,1451.7 L1276.47,1451.7 L1278.49,1451.7 L1280.51,1451.7 L1282.53,1451.7 L1284.55,1451.7 L1286.58,1451.7 L1288.6,1451.7 L1290.62,1451.7 L1292.64,1451.7 L1294.66,1451.7 L1296.68,1451.7 L1298.71,1451.7 L1300.73,1451.7 L1302.75,1451.7 L1304.77,1451.7 L1306.79,1451.7 L1308.81,1451.7 L1310.84,1451.7 L1312.86,1451.7 L1314.88,1451.7 L1316.9,1451.7 L1318.91,1451.72 L1320.93,1451.79 L1322.94,1451.89 L1324.95,1452.03 L1326.96,1452.21 L1328.98,1452.42 L1330.99,1452.66 L1333,1452.93 L1335.02,1453.23 L1337.03,1453.54 L1339.04,1453.88 L1341.05,1454.23 L1343.07,1454.6 L1345.08,1454.98 L1347.09,1455.38 L1349.11,1455.78 L1351.12,1456.18 L1353.13,1456.59 L1355.15,1457 L1357.16,1457.4 L1359.17,1457.8 L1361.18,1458.2 L1363.2,1458.58 L1365.21,1458.95 L1367.22,1459.31 L1369.24,1459.65 L1371.25,1459.97 L1373.26,1460.27 L1375.27,1460.54 L1377.29,1460.78 L1379.3,1461 L1381.33,1461.2 L1383.36,1461.39 L1385.38,1461.59 L1387.41,1461.77 L1389.44,1461.96 L1391.47,1462.14 L1393.5,1462.32 L1395.52,1462.49 L1397.55,1462.67 L1399.58,1462.83 L1401.61,1463 L1403.63,1463.16 L1405.66,1463.32 L1407.69,1463.48 L1409.72,1463.63 L1411.75,1463.79 L1413.77,1463.94 L1415.8,1464.08 L1417.83,1464.23 L1419.86,1464.37 L1421.89,1464.51 L1423.91,1464.65 L1425.94,1464.79 L1427.97,1464.93 L1430,1465.06 L1432.03,1465.19 L1434.05,1465.32 L1436.08,1465.45 L1438.11,1465.58 L1440.14,1465.71 L1442.17,1465.84 L1444.19,1465.96 L1446.22,1466.09 L1448.25,1466.21 L1450.28,1466.33 L1452.3,1466.45 L1454.33,1466.58 L1456.36,1466.7 L1458.39,1466.82 L1460.42,1466.94 L1462.44,1467.06 L1464.47,1467.18 L1466.5,1467.3 L1468.54,1467.42 L1470.57,1467.54 L1472.61,1467.66 L1474.65,1467.77 L1476.68,1467.89 L1478.72,1468 L1480.76,1468.11 L1482.79,1468.22 L1484.83,1468.33 L1486.87,1468.44 L1488.9,1468.55 L1490.94,1468.66 L1492.98,1468.76 L1495.01,1468.87 L1497.05,1468.97 L1499.09,1469.07 L1501.12,1469.18 L1503.16,1469.28 L1505.2,1469.38 L1507.23,1469.48 L1509.27,1469.58 L1511.31,1469.68 L1513.34,1469.77 L1515.38,1469.87 L1517.42,1469.97 L1519.46,1470.07 L1521.49,1470.16 L1523.53,1470.26 L1525.57,1470.36 L1527.6,1470.45 L1529.64,1470.55 L1531.68,1470.64 L1533.71,1470.74 L1535.75,1470.84 L1537.79,1470.93 L1539.82,1471.03 L1541.86,1471.12 L1543.9,1471.22 L1545.93,1471.32 L1547.97,1471.41 L1550.01,1471.51 L1552.04,1471.61 L1554.08,1471.7 L1556.12,1471.8 L1558.15,1471.9 L1560.19,1472 L1562.23,1472.1 L1564.26,1472.2 L1566.3,1472.3 L1568.33,1472.4 L1570.36,1472.5 L1572.39,1472.6 L1574.42,1472.7 L1576.45,1472.8 L1578.48,1472.9 L1580.51,1473 L1582.54,1473.09 L1584.57,1473.19 L1586.6,1473.29 L1588.63,1473.39 L1590.66,1473.48 L1592.69,1473.58 L1594.72,1473.68 L1596.75,1473.77 L1598.78,1473.87 L1600.81,1473.97 L1602.84,1474.07 L1604.87,1474.16 L1606.9,1474.26 L1608.93,1474.36 L1610.97,1474.45 L1613,1474.55 L1615.03,1474.65 L1617.06,1474.75 L1619.09,1474.85 L1621.12,1474.95 L1623.15,1475.04 L1625.18,1475.14 L1627.21,1475.24 L1629.24,1475.35 L1631.27,1475.45 L1633.3,1475.55 L1635.33,1475.65 L1637.36,1475.75 L1639.39,1475.86 L1641.42,1475.96 L1643.45,1476.06 L1645.48,1476.17 L1647.51,1476.28 L1649.54,1476.38 L1651.57,1476.49 L1653.6,1476.6 L1655.62,1476.71 L1657.64,1476.82 L1659.66,1476.94 L1661.69,1477.06 L1663.71,1477.18 L1665.73,1477.3 L1667.75,1477.43 L1669.77,1477.55 L1671.79,1477.68 L1673.82,1477.81 L1675.84,1477.94 L1677.86,1478.07 L1679.88,1478.21 L1681.9,1478.34 L1683.92,1478.47 L1685.95,1478.6 L1687.97,1478.74 L1689.99,1478.87 L1692.01,1479 L1694.03,1479.13 L1696.05,1479.26 L1698.08,1479.39 L1700.1,1479.51 L1702.12,1479.64 L1704.14,1479.76 L1706.16,1479.88 L1708.18,1480 L1710.21,1480.11 L1712.23,1480.23 L1714.25,1480.34 L1716.27,1480.44 L1718.29,1480.55 L1720.31,1480.65 L1722.34,1480.74 L1724.36,1480.83 L1726.38,1480.92 L1728.4,1481 L1730.41,1481.08 L1732.43,1481.16 L1734.44,1481.24 L1736.46,1481.32 L1738.47,1481.4 L1740.48,1481.48 L1742.5,1481.56 L1744.51,1481.64 L1746.52,1481.72 L1748.54,1481.8 L1750.55,1481.89 L1752.57,1481.97 L1754.58,1482.05 L1756.59,1482.13 L1758.61,1482.21 L1760.62,1482.28 L1762.64,1482.36 L1764.65,1482.44 L1766.66,1482.52 L1768.68,1482.6 L1770.69,1482.67 L1772.7,1482.75 L1774.72,1482.82 L1776.73,1482.9 L1778.75,1482.97 L1780.76,1483.05 L1782.77,1483.12 L1784.79,1483.19 L1786.8,1483.26 L1788.82,1483.33 L1790.83,1483.4 L1792.84,1483.46 L1794.86,1483.53 L1796.87,1483.59 L1798.88,1483.66 L1800.9,1483.72 L1802.91,1483.78 L1804.93,1483.84 L1806.94,1483.89 L1808.95,1483.95 L1810.97,1484 L1812.98,1484.06 L1815,1484.11 L1817.01,1484.16 L1819.02,1484.2 L1821.04,1484.25 L1823.05,1484.29 L1825.06,1484.33 L1827.08,1484.37 L1829.09,1484.41 L1831.11,1484.45 L1833.12,1484.48 L1835.13,1484.51 L1837.15,1484.54 L1839.16,1484.57 L1841.18,1484.59 L1843.19,1484.61 L1845.2,1484.63 L1847.22,1484.65 L1849.23,1484.67 L1851.24,1484.68 L1853.26,1484.69 L1855.27,1484.69 L1857.29,1484.7 L1859.3,1484.7 L1861.32,1484.7 L1863.35,1484.7 L1865.37,1484.7 L1867.4,1484.69 L1869.42,1484.69 L1871.45,1484.68 L1873.47,1484.68 L1875.5,1484.67 L1877.52,1484.66 L1879.55,1484.65 L1881.57,1484.64 L1883.6,1484.63 L1885.62,1484.62 L1887.65,1484.61 L1889.67,1484.6 L1891.69,1484.58 L1893.72,1484.57 L1895.74,1484.56 L1897.77,1484.54 L1899.79,1484.52 L1901.82,1484.51 L1903.84,1484.49 L1905.87,1484.47 L1907.89,1484.45 L1909.92,1484.43 L1911.94,1484.41 L1913.97,1484.39 L1915.99,1484.37 L1918.02,1484.35 L1920.04,1484.33 L1922.06,1484.3 L1924.09,1484.28 L1926.11,1484.25 L1928.14,1484.23 L1930.16,1484.2 L1932.19,1484.18 L1934.21,1484.15 L1936.24,1484.13 L1938.26,1484.1 L1940.29,1484.07 L1942.31,1484.04 L1944.34,1484.02 L1946.36,1483.99 L1948.39,1483.96 L1950.41,1483.93 L1952.44,1483.9 L1954.46,1483.87 L1956.48,1483.84 L1958.51,1483.81 L1960.53,1483.78 L1962.56,1483.75 L1964.58,1483.72 L1966.61,1483.69 L1968.63,1483.65 L1970.66,1483.62 L1972.68,1483.59 L1974.71,1483.56 L1976.73,1483.53 L1978.76,1483.49 L1980.78,1483.46 L1982.81,1483.43 L1984.83,1483.39 L1986.85,1483.36 L1988.88,1483.33 L1990.9,1483.3 L1992.93,1483.26 L1994.95,1483.23 L1996.98,1483.2 L1999,1483.16 L2001.03,1483.13 L2003.05,1483.1 L2005.08,1483.06 L2007.1,1483.03 L2009.13,1483 L2011.15,1482.97 L2013.18,1482.93 L2015.2,1482.9 L2017.22,1482.87 L2019.24,1482.83 L2021.26,1482.8 L2023.28,1482.76 L2025.3,1482.72 L2027.32,1482.68 L2029.34,1482.64 L2031.36,1482.6 L2033.38,1482.55 L2035.4,1482.51 L2037.42,1482.46 L2039.44,1482.42 L2041.46,1482.37 L2043.48,1482.32 L2045.5,1482.28 L2047.52,1482.23 L2049.54,1482.18 L2051.56,1482.13 L2053.58,1482.08 L2055.6,1482.03 L2057.62,1481.97 L2059.64,1481.92 L2061.66,1481.87 L2063.68,1481.82 L2065.7,1481.77 L2067.72,1481.71 L2069.74,1481.66 L2071.76,1481.61 L2073.78,1481.56 L2075.8,1481.5 L2077.82,1481.45 L2079.84,1481.4 L2081.86,1481.35 L2083.88,1481.3 L2085.9,1481.25 L2087.92,1481.2 L2089.94,1481.15 L2091.96,1481.1 L2093.98,1481.05 L2096,1481" fill="none" stroke="#ff1e1e" stroke-width="5.3" stroke-linejoin="round"/>
<path d="M140.9,1782.6 L143.33,1780.97 L145.77,1779.34 L148.2,1778.6 L150.21,1778.6 L152.23,1778.6 L154.24,1778.6 L156.26,1778.6 L158.27,1778.6 L160.29,1778.6 L162.3,1778.6 L164.32,1778.6 L166.33,1778.6 L168.35,1778.6 L170.36,1778.6 L172.38,1778.6 L174.39,1778.6 L176.41,1778.6 L178.42,1778.6 L180.44,1778.6 L182.45,1778.6 L184.47,1778.6 L186.48,1778.6 L188.5,1778.6 L190.51,1778.6 L192.53,1778.6 L194.54,1778.6 L196.56,1778.6 L198.57,1778.6 L200.59,1778.6 L202.6,1778.6 L206.3,1774.5 L208.39,1774.4 L210.48,1774.32 L212.58,1774.27 L214.67,1774.24 L216.76,1774.22 L218.85,1774.2 L220.95,1774.2 L223.04,1774.18 L225.13,1774.16 L227.22,1774.13 L229.32,1774.08 L231.41,1774 L233.5,1773.9 L237.1,1770.2 L239.25,1770.14 L241.39,1770.1 L243.54,1770.07 L245.68,1770.06 L247.83,1770.05 L249.97,1770.05 L252.12,1770.04 L254.26,1770.02 L256.41,1770 L258.55,1769.96 L260.7,1769.9 L264.4,1766.2 L266.47,1765.22 L268.54,1764.42 L270.61,1763.78 L272.69,1763.23 L274.76,1762.73 L276.83,1762.23 L278.9,1761.7 L280.97,1761.15 L283.04,1760.64 L285.11,1760.14 L287.19,1759.66 L289.26,1759.16 L291.33,1758.65 L293.4,1758.1 L295.49,1757.52 L297.57,1756.92 L299.66,1756.3 L301.74,1755.66 L303.83,1755 L305.91,1754.32 L308,1753.6 L310.12,1752.85 L312.23,1752.07 L314.35,1751.26 L316.47,1750.4 L318.58,1749.49 L320.7,1748.5 L322.82,1747.4 L324.93,1746.17 L327.05,1744.86 L329.17,1743.5 L331.28,1742.13 L333.4,1740.8 L335.8,1739.37 L338.2,1737.92 L340.6,1736.3 L342.65,1734.72 L344.7,1733 L346.75,1731.15 L348.8,1729.21 L350.85,1727.19 L352.9,1725.11 L354.95,1723.01 L357,1720.9 L359.07,1718.73 L361.14,1716.5 L363.21,1714.21 L365.29,1711.85 L367.36,1709.45 L369.43,1707 L371.5,1704.5 L373.62,1701.93 L375.75,1699.31 L377.88,1696.54 L380,1693.5 L382.63,1689.34 L385.27,1684.67 L387.9,1679.3 L390.5,1672.73 L393.1,1665.09 L395.7,1657.3 L398.33,1649.68 L400.97,1641.91 L403.6,1633.7 L405.7,1626.39 L407.8,1618.69 L409.9,1611.6 L412,1605.78 L414.1,1600.42 L416.2,1594.3 L418.55,1585.37 L420.9,1575.4 L423.25,1565.06 L425.6,1555 L428,1546.07 L430.4,1537.7 L432.75,1529.45 L435.1,1521.9 L437.2,1516.1 L439.3,1510.84 L441.4,1506.2 L443.5,1502.03 L445.6,1498.28 L447.7,1495.2 L449.8,1492.69 L451.9,1490.56 L454,1488.9 L456.35,1487.31 L458.7,1486.5 L461.05,1489.72 L463.4,1495.2 L465.5,1499.13 L467.6,1503.17 L469.7,1507.8 L472.05,1514.51 L474.4,1521.9 L476.5,1527.93 L478.6,1533.95 L480.7,1540.8 L483.05,1550.78 L485.4,1561.3 L487.5,1569.51 L489.6,1577.3 L491.7,1584.9 L493.8,1592.41 L495.9,1599.74 L498,1606.9 L500.1,1613.9 L502.2,1620.74 L504.3,1627.4 L506.4,1633.94 L508.5,1640.32 L510.6,1646.3 L512.7,1651.88 L514.8,1657.13 L516.9,1662 L519.53,1667.41 L522.17,1672.41 L524.8,1677.7 L527.55,1684.19 L530.3,1690.5 L532.3,1694.45 L534.3,1698.08 L536.3,1701.2 L538.42,1703.89 L540.55,1706.19 L542.67,1708.4 L544.8,1710.8 L547.23,1713.97 L549.67,1717.31 L552.1,1720.5 L554.2,1723.05 L556.3,1725.52 L558.4,1727.9 L560.5,1730.2 L562.52,1732.42 L564.53,1734.67 L566.55,1736.86 L568.57,1738.93 L570.58,1740.77 L572.6,1742.3 L574.62,1743.55 L576.63,1744.64 L578.65,1745.61 L580.67,1746.53 L582.68,1747.44 L584.7,1748.4 L586.73,1749.43 L588.77,1750.48 L590.8,1751.53 L592.83,1752.55 L594.87,1753.51 L596.9,1754.4 L598.92,1755.2 L600.93,1755.96 L602.95,1756.67 L604.97,1757.36 L606.98,1758.03 L609,1758.7 L611.4,1759.47 L613.8,1760.21 L616.2,1760.95 L618.6,1761.7 L620.69,1762.38 L622.77,1763.1 L624.86,1763.82 L626.94,1764.53 L629.03,1765.23 L631.11,1765.89 L633.2,1766.5 L635.26,1767.07 L637.32,1767.63 L639.38,1768.17 L641.44,1768.7 L643.5,1769.21 L645.56,1769.69 L647.62,1770.16 L649.68,1770.6 L651.74,1771.02 L653.8,1771.4 L655.92,1771.78 L658.03,1772.17 L660.15,1772.55 L662.27,1772.93 L664.38,1773.3 L666.5,1773.64 L668.62,1773.96 L670.73,1774.25 L672.85,1774.51 L674.97,1774.72 L677.08,1774.89 L679.2,1775 L681.28,1775.07 L683.36,1775.13 L685.44,1775.18 L687.52,1775.22 L689.6,1775.25 L691.68,1775.29 L693.76,1775.33 L695.84,1775.37 L697.92,1775.43 L700,1775.5 L702.11,1775.62 L704.22,1775.8 L706.33,1776.03 L708.44,1776.3 L710.55,1776.57 L712.66,1776.84 L714.77,1777.08 L716.88,1777.28 L718.99,1777.43 L721.1,1777.5 L723.12,1777.52 L725.14,1777.55 L727.15,1777.57 L729.17,1777.6 L731.19,1777.62 L733.21,1777.64 L735.22,1777.66 L737.24,1777.69 L739.26,1777.71 L741.28,1777.73 L743.3,1777.75 L745.31,1777.77 L747.33,1777.79 L749.35,1777.81 L751.37,1777.83 L753.38,1777.84 L755.4,1777.86 L757.42,1777.88 L759.44,1777.9 L761.46,1777.92 L763.47,1777.93 L765.49,1777.95 L767.51,1777.96 L769.53,1777.98 L771.54,1777.99 L773.56,1778.01 L775.58,1778.02 L777.6,1778.04 L779.62,1778.05 L781.63,1778.07 L783.65,1778.08 L785.67,1778.09 L787.69,1778.1 L789.7,1778.12 L791.72,1778.13 L793.74,1778.14 L795.76,1778.15 L797.78,1778.16 L799.79,1778.17 L801.81,1778.18 L803.83,1778.19 L805.85,1778.2 L807.86,1778.21 L809.88,1778.22 L811.9,1778.23 L813.92,1778.24 L815.94,1778.25 L817.95,1778.26 L819.97,1778.26 L821.99,1778.27 L824.01,1778.28 L826.02,1778.29 L828.04,1778.29 L830.06,1778.3 L832.08,1778.3 L834.1,1778.31 L836.11,1778.32 L838.13,1778.32 L840.15,1778.33 L842.17,1778.33 L844.18,1778.34 L846.2,1778.34 L848.22,1778.35 L850.24,1778.35 L852.26,1778.36 L854.27,1778.36 L856.29,1778.36 L858.31,1778.37 L860.33,1778.37 L862.34,1778.37 L864.36,1778.38 L866.38,1778.38 L868.4,1778.38 L870.42,1778.38 L872.43,1778.39 L874.45,1778.39 L876.47,1778.39 L878.49,1778.39 L880.5,1778.39 L882.52,1778.39 L884.54,1778.39 L886.56,1778.4 L888.58,1778.4 L890.59,1778.4 L892.61,1778.4 L894.63,1778.4 L896.65,1778.4 L898.66,1778.4 L900.68,1778.4 L902.7,1778.4 L904.79,1778.32 L906.88,1778.09 L908.98,1777.73 L911.07,1777.26 L913.16,1776.69 L915.25,1776.04 L917.35,1775.33 L919.44,1774.58 L921.53,1773.81 L923.62,1773.02 L925.72,1772.25 L927.81,1771.5 L929.9,1770.8 L931.92,1770.14 L933.93,1769.46 L935.95,1768.77 L937.97,1768.05 L939.98,1767.32 L942,1766.57 L944.02,1765.8 L946.03,1765.02 L948.05,1764.21 L950.07,1763.39 L952.08,1762.55 L954.1,1761.7 L956.2,1760.71 L958.3,1759.55 L960.4,1758.27 L962.5,1756.91 L964.6,1755.51 L966.7,1754.12 L968.8,1752.78 L970.9,1751.53 L973,1750.41 L975.1,1749.46 L977.2,1748.73 L979.3,1748.27 L981.4,1748.1 L983.51,1748.13 L985.62,1748.21 L987.73,1748.34 L989.84,1748.51 L991.95,1748.72 L994.06,1748.96 L996.17,1749.24 L998.28,1749.54 L1000.39,1749.86 L1002.5,1750.2 L1004.62,1750.68 L1006.74,1751.4 L1008.86,1752.32 L1010.98,1753.38 L1013.1,1754.54 L1015.22,1755.75 L1017.34,1756.97 L1019.46,1758.15 L1021.58,1759.24 L1023.7,1760.2 L1025.78,1761.06 L1027.86,1761.93 L1029.94,1762.79 L1032.03,1763.65 L1034.11,1764.49 L1036.19,1765.33 L1038.27,1766.15 L1040.35,1766.95 L1042.43,1767.72 L1044.51,1768.48 L1046.59,1769.2 L1048.67,1769.9 L1050.76,1770.56 L1052.84,1771.18 L1054.92,1771.76 L1057,1772.3 L1059.1,1772.82 L1061.2,1773.33 L1063.3,1773.83 L1065.4,1774.32 L1067.5,1774.78 L1069.6,1775.23 L1071.7,1775.66 L1073.8,1776.06 L1075.9,1776.42 L1078,1776.75 L1080.1,1777.04 L1082.2,1777.29 L1084.3,1777.5 L1086.46,1777.69 L1088.61,1777.87 L1090.77,1778.04 L1092.93,1778.18 L1095.09,1778.3 L1097.24,1778.37 L1099.4,1778.4 L1101.4,1778.4 L1103.4,1778.4 L1105.4,1778.4 L1107.4,1778.4 L1109.4,1778.39 L1111.4,1778.39 L1113.4,1778.39 L1115.4,1778.39 L1117.4,1778.38 L1119.4,1778.38 L1121.4,1778.37 L1123.4,1778.37 L1125.4,1778.36 L1127.4,1778.35 L1129.4,1778.34 L1131.4,1778.33 L1133.4,1778.32 L1135.4,1778.31 L1137.4,1778.3 L1139.4,1778.29 L1141.4,1778.28 L1143.4,1778.26 L1145.4,1778.25 L1147.4,1778.23 L1149.4,1778.21 L1151.4,1778.19 L1153.4,1778.17 L1155.4,1778.15 L1157.4,1778.13 L1159.4,1778.11 L1161.4,1778.09 L1163.4,1778.06 L1165.4,1778.03 L1167.4,1778.01 L1169.4,1777.98 L1171.4,1777.95 L1173.4,1777.91 L1175.4,1777.88 L1177.4,1777.85 L1179.4,1777.81 L1181.4,1777.77 L1183.4,1777.73 L1185.4,1777.69 L1187.4,1777.65 L1189.4,1777.61 L1191.4,1777.56 L1193.4,1777.52 L1195.4,1777.47 L1197.4,1777.42 L1199.4,1777.37 L1201.4,1777.31 L1203.4,1777.26 L1205.4,1777.2 L1207.4,1777.14 L1209.4,1777.08 L1211.4,1777.02 L1213.4,1776.95 L1215.4,1776.89 L1217.4,1776.82 L1219.4,1776.75 L1221.4,1776.67 L1223.4,1776.6 L1225.73,1776.07 L1228.05,1775.01 L1230.38,1773.97 L1232.7,1773.5 L1234.71,1773.5 L1236.73,1773.5 L1238.74,1773.5 L1240.76,1773.5 L1242.77,1773.5 L1244.79,1773.5 L1246.8,1773.5 L1248.82,1773.5 L1250.83,1773.5 L1252.85,1773.5 L1254.86,1773.5 L1256.88,1773.5 L1258.89,1773.5 L1260.9,1773.5 L1262.92,1773.5 L1264.93,1773.5 L1266.95,1773.5 L1268.96,1773.5 L1270.98,1773.5 L1272.99,1773.5 L1275.01,1773.5 L1277.02,1773.5 L1279.04,1773.5 L1281.05,1773.5 L1283.06,1773.5 L1285.08,1773.5 L1287.09,1773.5 L1289.11,1773.5 L1291.12,1773.5 L1293.14,1773.5 L1295.15,1773.5 L1297.17,1773.5 L1299.18,1773.5 L1301.2,1773.5 L1303.21,1773.5 L1305.23,1773.5 L1307.24,1773.5 L1309.25,1773.5 L1311.27,1773.5 L1313.28,1773.5 L1315.3,1773.5 L1317.31,1773.5 L1319.33,1773.5 L1321.34,1773.5 L1323.36,1773.5 L1325.37,1773.5 L1327.39,1773.5 L1329.4,1773.5 L1331.47,1774.27 L1333.53,1775.73 L1335.6,1776.6 L1337.62,1776.73 L1339.64,1776.85 L1341.65,1776.96 L1343.67,1777.05 L1345.69,1777.14 L1347.71,1777.21 L1349.72,1777.27 L1351.74,1777.32 L1353.76,1777.37 L1355.78,1777.41 L1357.79,1777.44 L1359.81,1777.46 L1361.83,1777.49 L1363.85,1777.51 L1365.86,1777.52 L1367.88,1777.54 L1369.9,1777.55 L1371.92,1777.56 L1373.94,1777.58 L1375.95,1777.59 L1377.97,1777.61 L1379.99,1777.64 L1382.01,1777.66 L1384.02,1777.69 L1386.04,1777.73 L1388.06,1777.78 L1390.08,1777.83 L1392.09,1777.89 L1394.11,1777.96 L1396.13,1778.05 L1398.15,1778.14 L1400.16,1778.25 L1402.18,1778.37 L1404.2,1778.5 L1406.27,1779.37 L1408.33,1780.83 L1410.4,1781.6 L1412.43,1781.6 L1414.46,1781.6 L1416.49,1781.6 L1418.52,1781.6 L1420.55,1781.6 L1422.58,1781.6 L1424.61,1781.6 L1426.64,1781.6 L1428.67,1781.6 L1430.7,1781.6 L1432.73,1781.6 L1434.76,1781.6 L1436.79,1781.6 L1438.82,1781.6 L1440.85,1781.6 L1442.88,1781.6 L1444.91,1781.6 L1446.94,1781.6 L1448.97,1781.6 L1451,1781.6 L1453.03,1781.6 L1455.07,1781.6 L1457.1,1781.6 L1459.13,1781.6 L1461.16,1781.6 L1463.19,1781.6 L1465.22,1781.6 L1467.25,1781.6 L1469.28,1781.6 L1471.31,1781.6 L1473.34,1781.6 L1475.37,1781.6 L1477.4,1781.6 L1479.43,1781.6 L1481.46,1781.6 L1483.49,1781.6 L1485.52,1781.6 L1487.55,1781.6 L1489.58,1781.6 L1491.61,1781.6 L1493.64,1781.6 L1495.67,1781.6 L1497.7,1781.6 L1500.03,1782.47 L1502.35,1784.4 L1504.67,1786.33 L1507,1787.2 L1509,1787.2 L1511.01,1787.2 L1513.01,1787.2 L1515.02,1787.2 L1517.02,1787.2 L1519.03,1787.2 L1521.03,1787.2 L1523.04,1787.2 L1525.04,1787.2 L1527.05,1787.2 L1529.05,1787.2 L1531.06,1787.2 L1533.06,1787.2 L1535.07,1787.2 L1537.07,1787.2 L1539.08,1787.2 L1541.08,1787.2 L1543.09,1787.2 L1545.09,1787.2 L1547.1,1787.2 L1549.1,1787.2 L1551.11,1787.2 L1553.11,1787.2 L1555.12,1787.2 L1557.12,1787.2 L1559.13,1787.2 L1561.13,1787.2 L1563.14,1787.2 L1565.14,1787.2 L1567.15,1787.2 L1569.15,1787.2 L1571.16,1787.2 L1573.16,1787.2 L1575.17,1787.2 L1577.17,1787.2 L1579.18,1787.2 L1581.18,1787.2 L1583.19,1787.2 L1585.19,1787.2 L1587.2,1787.2 L1589.2,1787.2 L1591.21,1787.2 L1593.21,1787.2 L1595.22,1787.2 L1597.22,1787.2 L1599.23,1787.2 L1601.23,1787.2 L1603.24,1787.2 L1605.24,1787.2 L1607.25,1787.2 L1609.25,1787.2 L1611.26,1787.2 L1613.26,1787.2 L1615.27,1787.2 L1617.27,1787.2 L1619.28,1787.2 L1621.28,1787.2 L1623.29,1787.2 L1625.29,1787.2 L1627.3,1787.2 L1629.3,1787.2 L1631.31,1787.2 L1633.31,1787.2 L1635.32,1787.2 L1637.32,1787.2 L1639.33,1787.2 L1641.33,1787.2 L1643.34,1787.2 L1645.34,1787.2 L1647.35,1787.2 L1649.35,1787.2 L1651.36,1787.2 L1653.36,1787.2 L1655.37,1787.2 L1657.37,1787.2 L1659.38,1787.2 L1661.38,1787.2 L1663.39,1787.2 L1665.39,1787.2 L1667.4,1787.2 L1669.4,1787.2 L1671.41,1787.2 L1673.41,1787.2 L1675.42,1787.2 L1677.42,1787.2 L1679.43,1787.2 L1681.43,1787.2 L1683.44,1787.2 L1685.44,1787.2 L1687.45,1787.2 L1689.45,1787.2 L1691.46,1787.2 L1693.46,1787.2 L1695.47,1787.2 L1697.47,1787.2 L1699.48,1787.2 L1701.48,1787.2 L1703.49,1787.2 L1705.49,1787.2 L1707.5,1787.2 L1709.5,1787.2 L1711.51,1787.2 L1713.51,1787.2 L1715.52,1787.2 L1717.52,1787.2 L1719.53,1787.2 L1721.53,1787.2 L1723.54,1787.2 L1725.54,1787.2 L1727.55,1787.2 L1729.55,1787.2 L1731.56,1787.2 L1733.56,1787.2 L1735.57,1787.2 L1737.57,1787.2 L1739.58,1787.2 L1741.58,1787.2 L1743.59,1787.2 L1745.59,1787.2 L1747.6,1787.2 L1749.6,1787.2 L1751.61,1787.2 L1753.61,1787.2 L1755.62,1787.2 L1757.62,1787.2 L1759.63,1787.2 L1761.63,1787.2 L1763.64,1787.2 L1765.64,1787.2 L1767.65,1787.2 L1769.65,1787.2 L1771.66,1787.2 L1773.66,1787.2 L1775.67,1787.2 L1777.67,1787.2 L1779.68,1787.2 L1781.68,1787.2 L1783.69,1787.2 L1785.69,1787.2 L1787.7,1787.2 L1789.7,1787.2 L1791.71,1787.2 L1793.71,1787.2 L1795.72,1787.2 L1797.72,1787.2 L1799.73,1787.2 L1801.73,1787.2 L1803.74,1787.2 L1805.74,1787.2 L1807.75,1787.2 L1809.75,1787.2 L1811.76,1787.2 L1813.76,1787.2 L1815.77,1787.2 L1817.77,1787.2 L1819.78,1787.2 L1821.78,1787.2 L1823.79,1787.2 L1825.79,1787.2 L1827.8,1787.2 L1829.8,1787.2 L1831.81,1787.2 L1833.81,1787.2 L1835.82,1787.2 L1837.82,1787.2 L1839.83,1787.2 L1841.83,1787.2 L1843.84,1787.2 L1845.84,1787.2 L1847.85,1787.2 L1849.85,1787.2 L1851.86,1787.2 L1853.86,1787.2 L1855.87,1787.2 L1857.87,1787.2 L1859.88,1787.2 L1861.88,1787.2 L1863.89,1787.2 L1865.89,1787.2 L1867.9,1787.2 L1869.9,1787.2 L1871.91,1787.2 L1873.91,1787.2 L1875.92,1787.2 L1877.92,1787.2 L1879.93,1787.2 L1881.93,1787.2 L1883.94,1787.2 L1885.94,1787.2 L1887.95,1787.2 L1889.95,1787.2 L1891.96,1787.2 L1893.96,1787.2 L1895.97,1787.2 L1897.97,1787.2 L1899.98,1787.2 L1901.98,1787.2 L1903.99,1787.2 L1905.99,1787.2 L1908,1787.2 L1910,1787.2 L1912.01,1787.2 L1914.01,1787.2 L1916.02,1787.2 L1918.02,1787.2 L1920.03,1787.2 L1922.03,1787.2 L1924.04,1787.2 L1926.04,1787.2 L1928.05,1787.2 L1930.05,1787.2 L1932.06,1787.2 L1934.06,1787.2 L1936.07,1787.2 L1938.07,1787.2 L1940.08,1787.2 L1942.08,1787.2 L1944.09,1787.2 L1946.09,1787.2 L1948.1,1787.2 L1950.1,1787.2 L1952.11,1787.2 L1954.11,1787.2 L1956.12,1787.2 L1958.12,1787.2 L1960.13,1787.2 L1962.13,1787.2 L1964.14,1787.2 L1966.14,1787.2 L1968.15,1787.2 L1970.15,1787.2 L1972.16,1787.2 L1974.16,1787.2 L1976.17,1787.2 L1978.17,1787.2 L1980.18,1787.2 L1982.18,1787.2 L1984.19,1787.2 L1986.19,1787.2 L1988.2,1787.2 L1990.2,1787.2 L1992.55,1786.59 L1994.9,1785.21 L1997.25,1783.76 L1999.6,1782.9 L2001.63,1782.63 L2003.66,1782.38 L2005.69,1782.14 L2007.72,1781.93 L2009.75,1781.73 L2011.78,1781.54 L2013.81,1781.37 L2015.84,1781.21 L2017.87,1781.07 L2019.9,1780.94 L2021.93,1780.82 L2023.97,1780.7 L2026,1780.6 L2028.03,1780.5 L2030.06,1780.41 L2032.09,1780.33 L2034.12,1780.25 L2036.15,1780.17 L2038.18,1780.1 L2040.21,1780.02 L2042.24,1779.95 L2044.27,1779.88 L2046.3,1779.8 L2048.37,1779.72 L2050.44,1779.65 L2052.51,1779.58 L2054.58,1779.52 L2056.65,1779.45 L2058.72,1779.39 L2060.8,1779.34 L2062.87,1779.28 L2064.94,1779.23 L2067.01,1779.18 L2069.08,1779.13 L2071.15,1779.08 L2073.22,1779.03 L2075.29,1778.98 L2077.36,1778.94 L2079.43,1778.89 L2081.5,1778.84 L2083.57,1778.8 L2085.65,1778.75 L2087.72,1778.7 L2089.79,1778.65 L2091.86,1778.6 L2093.93,1778.55 L2096,1778.5" fill="none" stroke="#404040" stroke-width="5.3" stroke-linejoin="round"/>
<rect x="1395" y="1184" width="3" height="3" fill="#5050ff"/>
<path d="M144.5,2930.8V2247H2132.4V2930.8" fill="none" stroke="#000" stroke-width="8" stroke-linecap="square"/>
<path d="M144.5,2929.3H2132.4" fill="none" stroke="#000" stroke-width="5.8"/>
<path d="M145.3,2929.3V2958.4 M287.3,2929.3V2958.4 M429.3,2929.3V2958.4 M571.3,2929.3V2958.4 M713.3,2929.3V2958.4 M855.3,2929.3V2958.4 M997.3,2929.3V2958.4 M1139.3,2929.3V2958.4 M1281.3,2929.3V2958.4 M1423.3,2929.3V2958.4 M1565.3,2929.3V2958.4 M1707.3,2929.3V2958.4 M1849.3,2929.3V2958.4 M1991.3,2929.3V2958.4 M2133.3,2929.3V2958.4 M216.3,2929.3V2942 M358.3,2929.3V2942 M500.3,2929.3V2942 M642.3,2929.3V2942 M784.3,2929.3V2942 M926.3,2929.3V2942 M1068.3,2929.3V2942 M1210.3,2929.3V2942 M1352.3,2929.3V2942 M1494.3,2929.3V2942 M1636.3,2929.3V2942 M1778.3,2929.3V2942 M1920.3,2929.3V2942 M2062.3,2929.3V2942" stroke="#000" stroke-width="5.8" fill="none"/>
<rect x="1682.8" y="2260.8" width="446.2" height="86.9" fill="none" stroke="#000" stroke-width="2.2"/>
<line x1="596.1" y1="2421.3" x2="596.1" y2="2926.3" stroke="#000" stroke-width="2.4" stroke-dasharray="10.5 10.5"/>
<line x1="725" y1="2421.3" x2="725" y2="2926.3" stroke="#000" stroke-width="2.4" stroke-dasharray="10.5 10.5"/>
<line x1="817.5" y1="2421.3" x2="817.5" y2="2926.3" stroke="#000" stroke-width="2.4" stroke-dasharray="10.5 10.5"/>
<line x1="920.2" y1="2421.3" x2="920.2" y2="2926.3" stroke="#000" stroke-width="2.4" stroke-dasharray="10.5 10.5"/>
<line x1="1093.5" y1="2421.3" x2="1093.5" y2="2926.3" stroke="#000" stroke-width="2.4" stroke-dasharray="10.5 10.5"/>
<line x1="1125.2" y1="2421.3" x2="1125.2" y2="2926.3" stroke="#000" stroke-width="2.4" stroke-dasharray="10.5 10.5"/>
<line x1="1336.8" y1="2421.3" x2="1336.8" y2="2926.3" stroke="#000" stroke-width="2.4" stroke-dasharray="10.5 10.5"/>
<line x1="1650.4" y1="2421.3" x2="1650.4" y2="2926.3" stroke="#000" stroke-width="2.4" stroke-dasharray="10.5 10.5"/>
<path d="M147.5,2599.95 L148.5,2600.59 L149.5,2601.24 L150.5,2599.26 L151.5,2599.94 L152.5,2600.53 L153.5,2601.04 L154.5,2601.73 L155.5,2602.43 L156.5,2603.14 L157.5,2603.84 L158.5,2604.54 L159.5,2608.32 L160.5,2609.56 L161.5,2610.25 L162.5,2610.93 L163.5,2610.83 L164.5,2611.49 L165.5,2612.15 L166.5,2610.88 L167.5,2609.62 L168.5,2610.23 L169.5,2610.81 L170.5,2611.37 L171.5,2611.89 L172.5,2612.4 L173.5,2612.9 L174.5,2615.37 L175.5,2615.85 L176.5,2616.33 L177.5,2617.39 L178.5,2615.23 L179.5,2615.68 L180.5,2616.12 L181.5,2614.82 L182.5,2615.24 L183.5,2615.66 L184.5,2616.07 L185.5,2616.48 L186.5,2616.88 L187.5,2620.67 L188.5,2621.06 L189.5,2619.99 L190.5,2620.36 L191.5,2620.73 L192.5,2621.1 L193.5,2621.45 L194.5,2621.81 L195.5,2622.16 L196.5,2623.08 L197.5,2625.21 L198.5,2625.55 L199.5,2627.42 L200.5,2625.97 L201.5,2626.3 L202.5,2626.62 L203.5,2626.94 L204.5,2627.25 L205.5,2627.56 L206.5,2627.86 L207.5,2628.55 L208.5,2628.85 L209.5,2629.13 L210.5,2631.12 L211.5,2633.57 L212.5,2632.95 L213.5,2633.22 L214.5,2633.48 L215.5,2633.73 L216.5,2626.39 L217.5,2626.64 L218.5,2626.88 L219.5,2627.11 L220.5,2627.34 L221.5,2627.57 L222.5,2632.9 L223.5,2627.43 L224.5,2627.64 L225.5,2627.85 L226.5,2628.05 L227.5,2628.25 L228.5,2628.44 L229.5,2628.63 L230.5,2628.98 L231.5,2629.16 L232.5,2629.33 L233.5,2629.5 L234.5,2629.66 L235.5,2629.82 L236.5,2634.2 L237.5,2634.35 L238.5,2635.72 L239.5,2635.86 L240.5,2635.99 L241.5,2634.78 L242.5,2634.91 L243.5,2635.03 L244.5,2635.14 L245.5,2635.25 L246.5,2635.36 L247.5,2635.46 L248.5,2635.76 L249.5,2635.85 L250.5,2634.17 L251.5,2634.25 L252.5,2634.33 L253.5,2634.4 L254.5,2634.46 L255.5,2634.52 L256.5,2634.57 L257.5,2637.98 L258.5,2638.02 L259.5,2633.57 L260.5,2633.6 L261.5,2633.62 L262.5,2633.64 L263.5,2633.66 L264.5,2633.67 L265.5,2633.67 L266.5,2635.23 L267.5,2635.15 L268.5,2634.83 L269.5,2634.82 L270.5,2634.79 L271.5,2634.76 L272.5,2634.73 L273.5,2634.69 L274.5,2634.65 L275.5,2637.07 L276.5,2635.66 L277.5,2635.61 L278.5,2635.54 L279.5,2635.47 L280.5,2635.4 L281.5,2635.32 L282.5,2635.23 L283.5,2635.44 L284.5,2635.34 L285.5,2632.46 L286.5,2632.36 L287.5,2632.25 L288.5,2632.14 L289.5,2632.02 L290.5,2631.9 L291.5,2631.77 L292.5,2632.09 L293.5,2631.95 L294.5,2631.79 L295.5,2632.15 L296.5,2631.98 L297.5,2631.8 L298.5,2631.62 L299.5,2631.43 L300.5,2632.38 L301.5,2632.18 L302.5,2631.98 L303.5,2634.67 L304.5,2634.16 L305.5,2633.94 L306.5,2633.73 L307.5,2633.51 L308.5,2633.29 L309.5,2627.57 L310.5,2627.35 L311.5,2627.12 L312.5,2626.9 L313.5,2626.68 L314.5,2626.46 L315.5,2628.51 L316.5,2628.29 L317.5,2628.08 L318.5,2627.87 L319.5,2629.55 L320.5,2629.35 L321.5,2629.15 L322.5,2629.16 L323.5,2626.14 L324.5,2625.96 L325.5,2625.78 L326.5,2625.61 L327.5,2625.44 L328.5,2625.26 L329.5,2625.1 L330.5,2629.57 L331.5,2629.4 L332.5,2629.23 L333.5,2629.06 L334.5,2627.39 L335.5,2627.22 L336.5,2627.04 L337.5,2624.66 L338.5,2624.47 L339.5,2624.28 L340.5,2621.55 L341.5,2621.35 L342.5,2621.14 L343.5,2620.92 L344.5,2620.7 L345.5,2620.46 L346.5,2624.59 L347.5,2624.33 L348.5,2625.06 L349.5,2624.79 L350.5,2624.5 L351.5,2624.19 L352.5,2623.88 L353.5,2623.56 L354.5,2625.79 L355.5,2625.46 L356.5,2622.26 L357.5,2621.91 L358.5,2621.56 L359.5,2621.19 L360.5,2620.82 L361.5,2620.44 L362.5,2620.05 L363.5,2620.05 L364.5,2618.24 L365.5,2615.96 L366.5,2615.55 L367.5,2615.13 L368.5,2614.71 L369.5,2614.28 L370.5,2613.85 L371.5,2614.07 L372.5,2613.37 L373.5,2612.92 L374.5,2612.47 L375.5,2612.01 L376.5,2611.55 L377.5,2611.09 L378.5,2610.62 L379.5,2610.4 L380.5,2609.93 L381.5,2610.91 L382.5,2610.74 L383.5,2609.29 L384.5,2608.77 L385.5,2608.24 L386.5,2607.7 L387.5,2607.16 L388.5,2606.6 L389.5,2602.15 L390.5,2601.59 L391.5,2601.02 L392.5,2600.45 L393.5,2599.87 L394.5,2599.29 L395.5,2602.89 L396.5,2602.31 L397.5,2602.17 L398.5,2601.67 L399.5,2601.09 L400.5,2600.52 L401.5,2599.95 L402.5,2599.38 L403.5,2598.82 L404.5,2599.1 L405.5,2594.22 L406.5,2593.68 L407.5,2593.15 L408.5,2592.62 L409.5,2592.11 L410.5,2591.6 L411.5,2595.56 L412.5,2595.07 L413.5,2594.6 L414.5,2594.14 L415.5,2593.69 L416.5,2593.24 L417.5,2593.01 L418.5,2593.29 L419.5,2592.86 L420.5,2592.44 L421.5,2592.02 L422.5,2591.72 L423.5,2591.3 L424.5,2591.12 L425.5,2590.7 L426.5,2590.29 L427.5,2589.91 L428.5,2589.49 L429.5,2589.12 L430.5,2585.04 L431.5,2584.61 L432.5,2584.18 L433.5,2583.73 L434.5,2583.28 L435.5,2582.82 L436.5,2582.35 L437.5,2582.32 L438.5,2581.83 L439.5,2581.96 L440.5,2581.44 L441.5,2580.92 L442.5,2580.38 L443.5,2581.54 L444.5,2580.99 L445.5,2580.44 L446.5,2579.88 L447.5,2579.31 L448.5,2575.58 L449.5,2575.01 L450.5,2574.42 L451.5,2573.83 L452.5,2573.16 L453.5,2572.56 L454.5,2571.96 L455.5,2571.35 L456.5,2570.74 L457.5,2570.12 L458.5,2569.5 L459.5,2570.53 L460.5,2569.9 L461.5,2569.27 L462.5,2568.64 L463.5,2568 L464.5,2567.36 L465.5,2568.52 L466.5,2567.88 L467.5,2564.2 L468.5,2563.55 L469.5,2562.9 L470.5,2562.25 L471.5,2561.6 L472.5,2560.95 L473.5,2560.3 L474.5,2559.75 L475.5,2559.95 L476.5,2559.3 L477.5,2558.66 L478.5,2558.48 L479.5,2557.83 L480.5,2557.65 L481.5,2556.71 L482.5,2556.05 L483.5,2555.39 L484.5,2554.72 L485.5,2554.05 L486.5,2553.37 L487.5,2552.69 L488.5,2553.85 L489.5,2553.15 L490.5,2549.95 L491.5,2549.24 L492.5,2548.51 L493.5,2546.17 L494.5,2545.42 L495.5,2544.66 L496.5,2543.89 L497.5,2543.11 L498.5,2542.31 L499.5,2542.88 L500.5,2542.06 L501.5,2541.22 L502.5,2540.37 L503.5,2542.48 L504.5,2539.78 L505.5,2536.02 L506.5,2535.16 L507.5,2534.27 L508.5,2533.38 L509.5,2532.47 L510.5,2531.55 L511.5,2526.12 L512.5,2525.16 L513.5,2524.18 L514.5,2523.19 L515.5,2522.17 L516.5,2521.13 L517.5,2528.8 L518.5,2527.71 L519.5,2526.59 L520.5,2524.39 L521.5,2523.22 L522.5,2522.01 L523.5,2519.4 L524.5,2518.12 L525.5,2516.82 L526.5,2515.47 L527.5,2514.08 L528.5,2512.62 L529.5,2511.11 L530.5,2509.61 L531.5,2506.05 L532.5,2504.4 L533.5,2502.72 L534.5,2501 L535.5,2499.24 L536.5,2497.44 L537.5,2500.38 L538.5,2498.5 L539.5,2496.6 L540.5,2494.65 L541.5,2491.53 L542.5,2489.52 L543.5,2487.48 L544.5,2483.77 L545.5,2481.63 L546.5,2479.17 L547.5,2476.58 L548.5,2473.93 L549.5,2471.27 L550.5,2468.6 L551.5,2466.8 L552.5,2464.15 L553.5,2459.21 L554.5,2456.65 L555.5,2454.16 L556.5,2451.75 L557.5,2449.45 L558.5,2447.27 L559.5,2445.38 L560.5,2443.46 L561.5,2441.44 L562.5,2439.36 L563.5,2437.31 L564.5,2435.29 L565.5,2436.8 L566.5,2429.54 L567.5,2427.6 L568.5,2425.69 L569.5,2423.82 L570.5,2421.97 L571.5,2420.15 L572.5,2418.37 L573.5,2418.66 L574.5,2416.94 L575.5,2415.25 L576.5,2413.62 L577.5,2412.04 L578.5,2414 L579.5,2411.43 L580.5,2410 L581.5,2408.61 L582.5,2407.27 L583.5,2405.99 L584.5,2404.75 L585.5,2403.57 L586.5,2404.32 L587.5,2403.24 L588.5,2399.92 L589.5,2398.61 L590.5,2397.41 L591.5,2396.36 L592.5,2395.48 L593.5,2394.79 L594.5,2395.01 L595.5,2394.75 L596.5,2395.07 L597.5,2389.6 L598.5,2389.6 L599.5,2389.61 L600.5,2389.7 L601.5,2389.91 L602.5,2390.27 L603.5,2393.51 L604.5,2394.23 L605.5,2395.13 L606.5,2396.2 L607.5,2397.44 L608.5,2397.08 L609.5,2398.47 L610.5,2399.86 L611.5,2400.83 L612.5,2402.66 L613.5,2404.69 L614.5,2406.89 L615.5,2409.26 L616.5,2411.76 L617.5,2419.31 L618.5,2419.92 L619.5,2422.71 L620.5,2425.55 L621.5,2428.23 L622.5,2430.63 L623.5,2433.16 L624.5,2434.15 L625.5,2436.9 L626.5,2439.74 L627.5,2442.64 L628.5,2445.6 L629.5,2448.59 L630.5,2454.21 L631.5,2457.21 L632.5,2460.18 L633.5,2462.99 L634.5,2465.43 L635.5,2466.51 L636.5,2469.02 L637.5,2471.55 L638.5,2474.09 L639.5,2476.64 L640.5,2479.17 L641.5,2485.36 L642.5,2484.19 L643.5,2486.61 L644.5,2488.97 L645.5,2491.24 L646.5,2490.55 L647.5,2492.51 L648.5,2494.18 L649.5,2495.78 L650.5,2497.31 L651.5,2498.79 L652.5,2500.56 L653.5,2501.92 L654.5,2503.22 L655.5,2505.3 L656.5,2506.48 L657.5,2507.6 L658.5,2508.66 L659.5,2509.66 L660.5,2510.6 L661.5,2511.47 L662.5,2513.35 L663.5,2514.11 L664.5,2514.8 L665.5,2515.42 L666.5,2515.96 L667.5,2516.82 L668.5,2517.29 L669.5,2517.72 L670.5,2518.13 L671.5,2518.51 L672.5,2521.22 L673.5,2521.55 L674.5,2519.39 L675.5,2518.49 L676.5,2518.74 L677.5,2518.97 L678.5,2519.19 L679.5,2519.38 L680.5,2519.55 L681.5,2520.01 L682.5,2520.16 L683.5,2520.29 L684.5,2520.41 L685.5,2520.52 L686.5,2524.87 L687.5,2524.96 L688.5,2525.05 L689.5,2525.13 L690.5,2525.21 L691.5,2523.81 L692.5,2523.88 L693.5,2523.95 L694.5,2524.03 L695.5,2524.1 L696.5,2524.17 L697.5,2525.52 L698.5,2525.55 L699.5,2525.55 L700.5,2525.54 L701.5,2526.25 L702.5,2526.25 L703.5,2523.55 L704.5,2523.47 L705.5,2523.39 L706.5,2523.29 L707.5,2523.19 L708.5,2522.7 L709.5,2522.59 L710.5,2522.48 L711.5,2522.37 L712.5,2522.25 L713.5,2522.15 L714.5,2523.44 L715.5,2521.09 L716.5,2521 L717.5,2520.92 L718.5,2520.85 L719.5,2520.79 L720.5,2520.74 L721.5,2522.75 L722.5,2522.73 L723.5,2518.81 L724.5,2518.83 L725.5,2518.86 L726.5,2518.92 L727.5,2518.98 L728.5,2519.03 L729.5,2519.13 L730.5,2519.19 L731.5,2519.26 L732.5,2519.34 L733.5,2519.43 L734.5,2521.19 L735.5,2521.35 L736.5,2522.72 L737.5,2525.15 L738.5,2526.21 L739.5,2523.78 L740.5,2523.32 L741.5,2523.58 L742.5,2523.87 L743.5,2523.03 L744.5,2523.38 L745.5,2523.76 L746.5,2524.19 L747.5,2524.63 L748.5,2525.1 L749.5,2526.97 L750.5,2527.6 L751.5,2528.29 L752.5,2529.04 L753.5,2529.86 L754.5,2531.06 L755.5,2534.29 L756.5,2535.27 L757.5,2536.29 L758.5,2535.96 L759.5,2535.56 L760.5,2536.69 L761.5,2537.83 L762.5,2538.99 L763.5,2540.16 L764.5,2541.33 L765.5,2542.45 L766.5,2539.76 L767.5,2540.8 L768.5,2541.89 L769.5,2543.02 L770.5,2544.17 L771.5,2545.36 L772.5,2549.66 L773.5,2550.89 L774.5,2554.26 L775.5,2555.51 L776.5,2555.05 L777.5,2556.31 L778.5,2557.57 L779.5,2558.82 L780.5,2560.05 L781.5,2561.26 L782.5,2562.95 L783.5,2564.08 L784.5,2564.66 L785.5,2565.67 L786.5,2566.67 L787.5,2567.68 L788.5,2568.68 L789.5,2569.69 L790.5,2570.68 L791.5,2572.32 L792.5,2573.43 L793.5,2574.41 L794.5,2575.38 L795.5,2574.95 L796.5,2575.89 L797.5,2576.82 L798.5,2577.74 L799.5,2578.64 L800.5,2579.52 L801.5,2584.35 L802.5,2585.18 L803.5,2586 L804.5,2585.29 L805.5,2586.05 L806.5,2586.79 L807.5,2586.35 L808.5,2587.02 L809.5,2587.66 L810.5,2588.25 L811.5,2588.82 L812.5,2589.36 L813.5,2589.68 L814.5,2590.16 L815.5,2590.62 L816.5,2589.36 L817.5,2589.78 L818.5,2590.18 L819.5,2590.57 L820.5,2590.94 L821.5,2591.3 L822.5,2593.16 L823.5,2593.5 L824.5,2593.84 L825.5,2594.17 L826.5,2592.9 L827.5,2593.23 L828.5,2591.53 L829.5,2591.86 L830.5,2592.19 L831.5,2592.53 L832.5,2592.87 L833.5,2593.22 L834.5,2593.59 L835.5,2597.63 L836.5,2596.39 L837.5,2596.8 L838.5,2597.23 L839.5,2597.67 L840.5,2598.13 L841.5,2598.59 L842.5,2599.05 L843.5,2601.71 L844.5,2602.19 L845.5,2602.67 L846.5,2603.16 L847.5,2603.65 L848.5,2604.15 L849.5,2604.65 L850.5,2607.72 L851.5,2605.78 L852.5,2606.29 L853.5,2606.8 L854.5,2607.32 L855.5,2606.74 L856.5,2607.26 L857.5,2607.78 L858.5,2608.3 L859.5,2608.81 L860.5,2609.33 L861.5,2612.51 L862.5,2613.06 L863.5,2613.58 L864.5,2612.62 L865.5,2613.14 L866.5,2613.65 L867.5,2614.16 L868.5,2614.66 L869.5,2615.16 L870.5,2615.66 L871.5,2617.12 L872.5,2617.62 L873.5,2618.13 L874.5,2618.64 L875.5,2620.23 L876.5,2620.75 L877.5,2620.1 L878.5,2619.53 L879.5,2620.04 L880.5,2619.04 L881.5,2619.52 L882.5,2620.04 L883.5,2620.36 L884.5,2620.88 L885.5,2621.39 L886.5,2621.9 L887.5,2622.4 L888.5,2622.91 L889.5,2623.37 L890.5,2623.87 L891.5,2624.37 L892.5,2624.86 L893.5,2625.35 L894.5,2625.83 L895.5,2626.31 L896.5,2627.66 L897.5,2628.13 L898.5,2627.18 L899.5,2627.63 L900.5,2628.08 L901.5,2628.53 L902.5,2628.98 L903.5,2629.44 L904.5,2631.19 L905.5,2631.65 L906.5,2632.1 L907.5,2632.56 L908.5,2633.01 L909.5,2633.46 L910.5,2630.78 L911.5,2631.22 L912.5,2631.66 L913.5,2632.1 L914.5,2632.53 L915.5,2632.96 L916.5,2633.38 L917.5,2637.64 L918.5,2638.51 L919.5,2638.9 L920.5,2639.29 L921.5,2639.16 L922.5,2639.53 L923.5,2639.88 L924.5,2640.23 L925.5,2640.56 L926.5,2640.87 L927.5,2641.81 L928.5,2642.1 L929.5,2639.56 L930.5,2639.82 L931.5,2640.07 L932.5,2640.32 L933.5,2640.56 L934.5,2640.8 L935.5,2642.19 L936.5,2642.41 L937.5,2642.63 L938.5,2642.84 L939.5,2643.05 L940.5,2642.76 L941.5,2642.95 L942.5,2643.14 L943.5,2643.33 L944.5,2643.5 L945.5,2643.67 L946.5,2643.84 L947.5,2648.37 L948.5,2648.53 L949.5,2648.68 L950.5,2648.26 L951.5,2648.4 L952.5,2648.54 L953.5,2645.06 L954.5,2645.18 L955.5,2644.29 L956.5,2644.41 L957.5,2644.52 L958.5,2644.63 L959.5,2644.73 L960.5,2644.83 L961.5,2644.92 L962.5,2650.03 L963.5,2649.28 L964.5,2647.8 L965.5,2647.88 L966.5,2647.95 L967.5,2648.02 L968.5,2648.09 L969.5,2648.14 L970.5,2648.19 L971.5,2648.45 L972.5,2648.48 L973.5,2647.07 L974.5,2647.09 L975.5,2647.09 L976.5,2646.82 L977.5,2646.8 L978.5,2646.78 L979.5,2646.75 L980.5,2646.72 L981.5,2646.68 L982.5,2646.62 L983.5,2646.49 L984.5,2646.43 L985.5,2646.35 L986.5,2646.27 L987.5,2646.19 L988.5,2645.75 L989.5,2645.65 L990.5,2645.54 L991.5,2645.43 L992.5,2645.31 L993.5,2645.19 L994.5,2646.1 L995.5,2645.96 L996.5,2647.36 L997.5,2647.21 L998.5,2644.98 L999.5,2644.81 L1000.5,2644.65 L1001.5,2644.47 L1002.5,2644.29 L1003.5,2644.1 L1004.5,2643.9 L1005.5,2645.36 L1006.5,2645.14 L1007.5,2645.93 L1008.5,2645.71 L1009.5,2645.47 L1010.5,2645.24 L1011.5,2645.7 L1012.5,2645.45 L1013.5,2644.87 L1014.5,2644.61 L1015.5,2643.82 L1016.5,2643.54 L1017.5,2639.36 L1018.5,2639.08 L1019.5,2638.79 L1020.5,2638.5 L1021.5,2638.19 L1022.5,2637.88 L1023.5,2637.58 L1024.5,2637.27 L1025.5,2636.95 L1026.5,2636.63 L1027.5,2636.31 L1028.5,2637.22 L1029.5,2636.89 L1030.5,2636.55 L1031.5,2636.22 L1032.5,2635.88 L1033.5,2637.61 L1034.5,2637.26 L1035.5,2635.37 L1036.5,2633.34 L1037.5,2632.97 L1038.5,2632.46 L1039.5,2632.08 L1040.5,2631.7 L1041.5,2631.32 L1042.5,2630.93 L1043.5,2630.53 L1044.5,2632.98 L1045.5,2632.57 L1046.5,2634.45 L1047.5,2634.03 L1048.5,2633.6 L1049.5,2630.45 L1050.5,2630 L1051.5,2629.55 L1052.5,2629.09 L1053.5,2628.62 L1054.5,2628.15 L1055.5,2628.8 L1056.5,2628.31 L1057.5,2627.63 L1058.5,2627.12 L1059.5,2626.61 L1060.5,2626.1 L1061.5,2625.58 L1062.5,2625.05 L1063.5,2625.54 L1064.5,2625 L1065.5,2624.45 L1066.5,2623.9 L1067.5,2623.35 L1068.5,2619.45 L1069.5,2618.87 L1070.5,2618.3 L1071.5,2617.71 L1072.5,2617.11 L1073.5,2616.51 L1074.5,2615.9 L1075.5,2618.74 L1076.5,2618.11 L1077.5,2616.86 L1078.5,2616.21 L1079.5,2615.56 L1080.5,2614.89 L1081.5,2614.22 L1082.5,2613.53 L1083.5,2613.3 L1084.5,2612.59 L1085.5,2611.03 L1086.5,2610.3 L1087.5,2609.47 L1088.5,2608.72 L1089.5,2607.88 L1090.5,2606.89 L1091.5,2605.81 L1092.5,2603.34 L1093.5,2602.12 L1094.5,2600.83 L1095.5,2599.48 L1096.5,2598.07 L1097.5,2596.59 L1098.5,2597.27 L1099.5,2595.08 L1100.5,2593.43 L1101.5,2591.72 L1102.5,2587.92 L1103.5,2586.11 L1104.5,2584.26 L1105.5,2582.37 L1106.5,2580.44 L1107.5,2578.47 L1108.5,2578.25 L1109.5,2576.22 L1110.5,2574.16 L1111.5,2572.07 L1112.5,2569.32 L1113.5,2567.34 L1114.5,2562.31 L1115.5,2558.81 L1116.5,2555.61 L1117.5,2552.56 L1118.5,2550.22 L1119.5,2548.52 L1120.5,2547.51 L1121.5,2545.81 L1122.5,2546.26 L1123.5,2547.17 L1124.5,2547.47 L1125.5,2545.62 L1126.5,2545.07 L1127.5,2545.02 L1128.5,2545.56 L1129.5,2546.7 L1130.5,2546.92 L1131.5,2549.09 L1132.5,2551.68 L1133.5,2554.61 L1134.5,2557.83 L1135.5,2561.25 L1136.5,2564.12 L1137.5,2567.1 L1138.5,2570.17 L1139.5,2575.13 L1140.5,2578.66 L1141.5,2582.68 L1142.5,2587.06 L1143.5,2589.2 L1144.5,2593.92 L1145.5,2598.2 L1146.5,2600.13 L1147.5,2602.56 L1148.5,2604.92 L1149.5,2607.19 L1150.5,2609.37 L1151.5,2611.47 L1152.5,2613.47 L1153.5,2618.71 L1154.5,2620.54 L1155.5,2623.74 L1156.5,2625.38 L1157.5,2626.93 L1158.5,2628.38 L1159.5,2629.73 L1160.5,2628.76 L1161.5,2629.82 L1162.5,2630.8 L1163.5,2631.72 L1164.5,2632.59 L1165.5,2633.39 L1166.5,2634.14 L1167.5,2635.1 L1168.5,2635.75 L1169.5,2636.75 L1170.5,2637.32 L1171.5,2637.85 L1172.5,2638.34 L1173.5,2638.81 L1174.5,2639.24 L1175.5,2638.43 L1176.5,2638.82 L1177.5,2639.19 L1178.5,2639.54 L1179.5,2639.89 L1180.5,2640.22 L1181.5,2640.55 L1182.5,2641.07 L1183.5,2640.83 L1184.5,2641.15 L1185.5,2641.49 L1186.5,2641.82 L1187.5,2642.15 L1188.5,2639.81 L1189.5,2640.12 L1190.5,2640.43 L1191.5,2640.72 L1192.5,2641.01 L1193.5,2641.28 L1194.5,2641.55 L1195.5,2643.49 L1196.5,2643.74 L1197.5,2644.25 L1198.5,2644.48 L1199.5,2644.7 L1200.5,2644.92 L1201.5,2645.12 L1202.5,2645.31 L1203.5,2646.38 L1204.5,2645.47 L1205.5,2645.63 L1206.5,2645.78 L1207.5,2645.92 L1208.5,2641.73 L1209.5,2641.85 L1210.5,2641.96 L1211.5,2642.06 L1212.5,2642.15 L1213.5,2642.22 L1214.5,2642.29 L1215.5,2648.18 L1216.5,2647.08 L1217.5,2647.1 L1218.5,2647.1 L1219.5,2647.1 L1220.5,2647.08 L1221.5,2647.04 L1222.5,2646.99 L1223.5,2647.04 L1224.5,2646.97 L1225.5,2646.89 L1226.5,2644.1 L1227.5,2644 L1228.5,2643.9 L1229.5,2643.78 L1230.5,2643.65 L1231.5,2643.52 L1232.5,2645.75 L1233.5,2645.61 L1234.5,2645.46 L1235.5,2645.3 L1236.5,2645.14 L1237.5,2644.98 L1238.5,2646.04 L1239.5,2645.87 L1240.5,2640.41 L1241.5,2640.23 L1242.5,2640.06 L1243.5,2639.88 L1244.5,2639.71 L1245.5,2639.53 L1246.5,2639.34 L1247.5,2643.45 L1248.5,2643.23 L1249.5,2643.01 L1250.5,2642.77 L1251.5,2642.53 L1252.5,2643.61 L1253.5,2644.6 L1254.5,2644.34 L1255.5,2640.49 L1256.5,2640.21 L1257.5,2639.94 L1258.5,2639.66 L1259.5,2639.38 L1260.5,2639.1 L1261.5,2638.82 L1262.5,2637.86 L1263.5,2637.58 L1264.5,2637.31 L1265.5,2637.04 L1266.5,2636.77 L1267.5,2636.51 L1268.5,2636.25 L1269.5,2637.93 L1270.5,2637.69 L1271.5,2637.46 L1272.5,2637.23 L1273.5,2639.29 L1274.5,2639.08 L1275.5,2638.88 L1276.5,2638.69 L1277.5,2638.51 L1278.5,2638.84 L1279.5,2638.67 L1280.5,2638.5 L1281.5,2635.51 L1282.5,2635.35 L1283.5,2635.2 L1284.5,2634.99 L1285.5,2634.84 L1286.5,2634.69 L1287.5,2634.55 L1288.5,2634.41 L1289.5,2634.27 L1290.5,2634.13 L1291.5,2636.87 L1292.5,2636.74 L1293.5,2635.3 L1294.5,2635.17 L1295.5,2635.03 L1296.5,2634.89 L1297.5,2634.76 L1298.5,2634.62 L1299.5,2634.48 L1300.5,2634.76 L1301.5,2634.62 L1302.5,2635.34 L1303.5,2635.27 L1304.5,2635.12 L1305.5,2634.96 L1306.5,2634.78 L1307.5,2634.09 L1308.5,2632.74 L1309.5,2632.5 L1310.5,2632.25 L1311.5,2631.98 L1312.5,2631.71 L1313.5,2631.43 L1314.5,2631.39 L1315.5,2631.12 L1316.5,2630.84 L1317.5,2629.69 L1318.5,2629.43 L1319.5,2629.19 L1320.5,2628.96 L1321.5,2628.75 L1322.5,2628.55 L1323.5,2629.71 L1324.5,2628.74 L1325.5,2628.61 L1326.5,2628.52 L1327.5,2628.17 L1328.5,2628.13 L1329.5,2628.12 L1330.5,2628.15 L1331.5,2628.21 L1332.5,2628.3 L1333.5,2629.56 L1334.5,2629.71 L1335.5,2627.74 L1336.5,2628.07 L1337.5,2628.48 L1338.5,2628.98 L1339.5,2629.56 L1340.5,2630.22 L1341.5,2630.94 L1342.5,2631.72 L1343.5,2632.54 L1344.5,2633.4 L1345.5,2634.69 L1346.5,2635.57 L1347.5,2636.45 L1348.5,2637.31 L1349.5,2638.13 L1350.5,2638.9 L1351.5,2642.33 L1352.5,2640.89 L1353.5,2641.39 L1354.5,2641.87 L1355.5,2642.34 L1356.5,2642.8 L1357.5,2643.24 L1358.5,2643.19 L1359.5,2643.61 L1360.5,2644.02 L1361.5,2644.42 L1362.5,2644.09 L1363.5,2644.48 L1364.5,2644.86 L1365.5,2645.23 L1366.5,2645.6 L1367.5,2645.96 L1368.5,2650.12 L1369.5,2650.48 L1370.5,2650.83 L1371.5,2651.18 L1372.5,2651.53 L1373.5,2651.88 L1374.5,2652 L1375.5,2652.35 L1376.5,2652.7 L1377.5,2650.21 L1378.5,2650.42 L1379.5,2650.78 L1380.5,2651.15 L1381.5,2651.52 L1382.5,2651.9 L1383.5,2652.27 L1384.5,2652.1 L1385.5,2652.48 L1386.5,2652.85 L1387.5,2653.23 L1388.5,2653.61 L1389.5,2653.98 L1390.5,2655.59 L1391.5,2655.96 L1392.5,2656.76 L1393.5,2656.78 L1394.5,2657.14 L1395.5,2657.51 L1396.5,2657.87 L1397.5,2658.23 L1398.5,2655.67 L1399.5,2656.02 L1400.5,2656.36 L1401.5,2656.7 L1402.5,2657.03 L1403.5,2657.36 L1404.5,2657.68 L1405.5,2660.26 L1406.5,2660.56 L1407.5,2660.86 L1408.5,2661.15 L1409.5,2661.54 L1410.5,2661.81 L1411.5,2662.08 L1412.5,2662.35 L1413.5,2662.61 L1414.5,2664.97 L1415.5,2662.02 L1416.5,2662.27 L1417.5,2662.52 L1418.5,2662.76 L1419.5,2663 L1420.5,2663.24 L1421.5,2665.65 L1422.5,2665.88 L1423.5,2666.09 L1424.5,2666.51 L1425.5,2666.72 L1426.5,2666.92 L1427.5,2667.11 L1428.5,2667.54 L1429.5,2667.72 L1430.5,2667.89 L1431.5,2668.05 L1432.5,2668.2 L1433.5,2667.79 L1434.5,2667.93 L1435.5,2668.06 L1436.5,2668.18 L1437.5,2668.29 L1438.5,2666.8 L1439.5,2666.89 L1440.5,2666.97 L1441.5,2667.04 L1442.5,2667.11 L1443.5,2667.16 L1444.5,2667.21 L1445.5,2668.2 L1446.5,2670.87 L1447.5,2670.9 L1448.5,2670.92 L1449.5,2670.93 L1450.5,2670.94 L1451.5,2669.65 L1452.5,2669.65 L1453.5,2669.64 L1454.5,2669.64 L1455.5,2669.62 L1456.5,2669.61 L1457.5,2667.76 L1458.5,2667.74 L1459.5,2665.75 L1460.5,2665.72 L1461.5,2665.7 L1462.5,2665.67 L1463.5,2665.64 L1464.5,2665.61 L1465.5,2667.5 L1466.5,2667.47 L1467.5,2667.44 L1468.5,2669.03 L1469.5,2669 L1470.5,2668.98 L1471.5,2668.95 L1472.5,2669.6 L1473.5,2667.4 L1474.5,2667.38 L1475.5,2666.44 L1476.5,2666.43 L1477.5,2666.43 L1478.5,2666.43 L1479.5,2666.43 L1480.5,2666.43 L1481.5,2666.42 L1482.5,2669.25 L1483.5,2669.25 L1484.5,2669.24 L1485.5,2669.24 L1486.5,2668.43 L1487.5,2668.42 L1488.5,2668.42 L1489.5,2668.41 L1490.5,2664.25 L1491.5,2664.24 L1492.5,2664.24 L1493.5,2664.23 L1494.5,2664.23 L1495.5,2664.22 L1496.5,2664.22 L1497.5,2665.21 L1498.5,2665.2 L1499.5,2665.2 L1500.5,2665.19 L1501.5,2665.19 L1502.5,2666.59 L1503.5,2666.58 L1504.5,2666.58 L1505.5,2666.58 L1506.5,2666.58 L1507.5,2666.57 L1508.5,2668.25 L1509.5,2668.25 L1510.5,2668.25 L1511.5,2668.25 L1512.5,2668.25 L1513.5,2668.26 L1514.5,2668.26 L1515.5,2669.04 L1516.5,2669.04 L1517.5,2669.05 L1518.5,2668.5 L1519.5,2668.51 L1520.5,2668.52 L1521.5,2664.97 L1522.5,2664.99 L1523.5,2665 L1524.5,2665.02 L1525.5,2665.04 L1526.5,2665.05 L1527.5,2665.07 L1528.5,2667.16 L1529.5,2667.18 L1530.5,2667.78 L1531.5,2667.8 L1532.5,2667.82 L1533.5,2665.29 L1534.5,2665.31 L1535.5,2665.33 L1536.5,2665.36 L1537.5,2665.38 L1538.5,2665.4 L1539.5,2667.17 L1540.5,2667.19 L1541.5,2669.59 L1542.5,2669.62 L1543.5,2669.64 L1544.5,2670.17 L1545.5,2670.2 L1546.5,2670.23 L1547.5,2670.26 L1548.5,2670.8 L1549.5,2669.3 L1550.5,2669.33 L1551.5,2669.36 L1552.5,2669.4 L1553.5,2669.44 L1554.5,2669.26 L1555.5,2669.08 L1556.5,2669.12 L1557.5,2669.16 L1558.5,2669.21 L1559.5,2668.54 L1560.5,2668.59 L1561.5,2665.8 L1562.5,2665.85 L1563.5,2665.9 L1564.5,2665.95 L1565.5,2666 L1566.5,2666.06 L1567.5,2667.1 L1568.5,2667.16 L1569.5,2669.62 L1570.5,2669.68 L1571.5,2671.07 L1572.5,2672.04 L1573.5,2672.11 L1574.5,2667.84 L1575.5,2667.92 L1576.5,2667.99 L1577.5,2668.07 L1578.5,2668.16 L1579.5,2668.24 L1580.5,2671.47 L1581.5,2671.56 L1582.5,2670.14 L1583.5,2670.24 L1584.5,2669.65 L1585.5,2669.75 L1586.5,2669.86 L1587.5,2669.96 L1588.5,2670.07 L1589.5,2670.19 L1590.5,2670.3 L1591.5,2671.64 L1592.5,2671.76 L1593.5,2671.89 L1594.5,2672.02 L1595.5,2671.04 L1596.5,2670.56 L1597.5,2670.7 L1598.5,2670.84 L1599.5,2670.99 L1600.5,2671.14 L1601.5,2671.32 L1602.5,2671.52 L1603.5,2672.48 L1604.5,2671.09 L1605.5,2671.36 L1606.5,2671.64 L1607.5,2671.93 L1608.5,2672.22 L1609.5,2672.52 L1610.5,2676.08 L1611.5,2676.37 L1612.5,2674.49 L1613.5,2674.75 L1614.5,2674.98 L1615.5,2675.19 L1616.5,2675.41 L1617.5,2675.63 L1618.5,2678.93 L1619.5,2679.15 L1620.5,2679.36 L1621.5,2679.58 L1622.5,2679.79 L1623.5,2680 L1624.5,2680.21 L1625.5,2680.75 L1626.5,2680.95 L1627.5,2681.16 L1628.5,2680.39 L1629.5,2680.6 L1630.5,2680.81 L1631.5,2681.01 L1632.5,2681.21 L1633.5,2681.41 L1634.5,2680.94 L1635.5,2681.14 L1636.5,2677.99 L1637.5,2678.18 L1638.5,2678.38 L1639.5,2678.57 L1640.5,2678.76 L1641.5,2678.95 L1642.5,2679.91 L1643.5,2680.1 L1644.5,2680.28 L1645.5,2681.93 L1646.5,2682.11 L1647.5,2682.29 L1648.5,2682.47 L1649.5,2683.47 L1650.5,2683.64 L1651.5,2683.81 L1652.5,2683.98 L1653.5,2680.93 L1654.5,2681.09 L1655.5,2681.25 L1656.5,2681.41 L1657.5,2681.56 L1658.5,2681.72 L1659.5,2681.87 L1660.5,2685.5 L1661.5,2685.65 L1662.5,2685.24 L1663.5,2685.39 L1664.5,2685.53 L1665.5,2685.68 L1666.5,2685.82 L1667.5,2685.96 L1668.5,2686.1 L1669.5,2686.74 L1670.5,2686.88 L1671.5,2685.78 L1672.5,2685.92 L1673.5,2686.07 L1674.5,2686.21 L1675.5,2686.35 L1676.5,2686.5 L1677.5,2687.88 L1678.5,2684.69 L1679.5,2684.83 L1680.5,2684.98 L1681.5,2685.13 L1682.5,2685.28 L1683.5,2685.43 L1684.5,2685.58 L1685.5,2688.1 L1686.5,2688.25 L1687.5,2690.72 L1688.5,2690.87 L1689.5,2691.23 L1690.5,2691.38 L1691.5,2690.22 L1692.5,2689.87 L1693.5,2690.02 L1694.5,2690.18 L1695.5,2690.33 L1696.5,2690.48 L1697.5,2690.63 L1698.5,2691.17 L1699.5,2691.33 L1700.5,2691.8 L1701.5,2691.95 L1702.5,2692.11 L1703.5,2692.26 L1704.5,2692.87 L1705.5,2692.7 L1706.5,2692.85 L1707.5,2693 L1708.5,2693.15 L1709.5,2693.3 L1710.5,2691.13 L1711.5,2691.28 L1712.5,2691.43 L1713.5,2691.58 L1714.5,2691.73 L1715.5,2691.88 L1716.5,2692.03 L1717.5,2692.73 L1718.5,2692.88 L1719.5,2693.44 L1720.5,2693.6 L1721.5,2693.75 L1722.5,2693.91 L1723.5,2695.12 L1724.5,2695.27 L1725.5,2695.43 L1726.5,2695.59 L1727.5,2696.1 L1728.5,2696.26 L1729.5,2696.42 L1730.5,2696.57 L1731.5,2698.1 L1732.5,2697.17 L1733.5,2697.33 L1734.5,2697.49 L1735.5,2696.9 L1736.5,2697.06 L1737.5,2697.21 L1738.5,2697.36 L1739.5,2697.51 L1740.5,2697.66 L1741.5,2698.33 L1742.5,2698.47 L1743.5,2698.62 L1744.5,2698.76 L1745.5,2699.22 L1746.5,2699.35 L1747.5,2699.49 L1748.5,2696.52 L1749.5,2696.64 L1750.5,2696.77 L1751.5,2696.89 L1752.5,2697.01 L1753.5,2697.12 L1754.5,2697.23 L1755.5,2698.12 L1756.5,2700.27 L1757.5,2699.84 L1758.5,2699.93 L1759.5,2700.03 L1760.5,2700.12 L1761.5,2700.22 L1762.5,2697.65 L1763.5,2697.74 L1764.5,2697.83 L1765.5,2697.91 L1766.5,2698 L1767.5,2698.09 L1768.5,2701.02 L1769.5,2702.36 L1770.5,2702.45 L1771.5,2702.54 L1772.5,2702.63 L1773.5,2697.98 L1774.5,2698.08 L1775.5,2698.17 L1776.5,2698.27 L1777.5,2698.37 L1778.5,2698.48 L1779.5,2702.61 L1780.5,2702.72 L1781.5,2701.61 L1782.5,2701.72 L1783.5,2701.84 L1784.5,2701.97 L1785.5,2701 L1786.5,2701.13 L1787.5,2701.26 L1788.5,2701.4 L1789.5,2701.54 L1790.5,2701.69 L1791.5,2701.5 L1792.5,2701.65 L1793.5,2701.8 L1794.5,2701.95 L1795.5,2702.11 L1796.5,2702.26 L1797.5,2702.42 L1798.5,2704.53 L1799.5,2703.88 L1800.5,2704.04 L1801.5,2704.2 L1802.5,2704.36 L1803.5,2704.52 L1804.5,2704.68 L1805.5,2704.84 L1806.5,2706.85 L1807.5,2706.95 L1808.5,2707.1 L1809.5,2707.25 L1810.5,2707.4 L1811.5,2706.82 L1812.5,2706.97 L1813.5,2707.11 L1814.5,2707.25 L1815.5,2707.38 L1816.5,2707.51 L1817.5,2707.64 L1818.5,2705.64 L1819.5,2705.76 L1820.5,2705.88 L1821.5,2706 L1822.5,2706.11 L1823.5,2706.22 L1824.5,2706.33 L1825.5,2707.27 L1826.5,2707.38 L1827.5,2708.42 L1828.5,2708.37 L1829.5,2708.47 L1830.5,2708.57 L1831.5,2708.67 L1832.5,2708.77 L1833.5,2708.86 L1834.5,2708.96 L1835.5,2709.83 L1836.5,2709.92 L1837.5,2710.02 L1838.5,2710.11 L1839.5,2710.44 L1840.5,2710.53 L1841.5,2711.89 L1842.5,2710 L1843.5,2710.09 L1844.5,2710.18 L1845.5,2710.28 L1846.5,2708.38 L1847.5,2708.47 L1848.5,2708.57 L1849.5,2708.67 L1850.5,2708.77 L1851.5,2708.87 L1852.5,2710.68 L1853.5,2710.78 L1854.5,2709.37 L1855.5,2709.48 L1856.5,2709.59 L1857.5,2709.71 L1858.5,2709.82 L1859.5,2709.93 L1860.5,2711.29 L1861.5,2711.41 L1862.5,2711.54 L1863.5,2711.65 L1864.5,2713.84 L1865.5,2710.38 L1866.5,2710.5 L1867.5,2710.61 L1868.5,2710.73 L1869.5,2710.84 L1870.5,2710.95 L1871.5,2711.06 L1872.5,2712.69 L1873.5,2712.8 L1874.5,2712.9 L1875.5,2712.99 L1876.5,2713.09 L1877.5,2713.18 L1878.5,2713.36 L1879.5,2713.44 L1880.5,2714.37 L1881.5,2714.44 L1882.5,2714.51 L1883.5,2714.58 L1884.5,2713.75 L1885.5,2713.8 L1886.5,2713.85 L1887.5,2713.89 L1888.5,2713.93 L1889.5,2713.74 L1890.5,2713.77 L1891.5,2713.79 L1892.5,2713.81 L1893.5,2713.83 L1894.5,2713.84 L1895.5,2713.85 L1896.5,2713.58 L1897.5,2713.59 L1898.5,2713.59 L1899.5,2713.59 L1900.5,2713.58 L1901.5,2713.57 L1902.5,2713.57 L1903.5,2712.08 L1904.5,2712.07 L1905.5,2712.06 L1906.5,2712.04 L1907.5,2712.03 L1908.5,2712.01 L1909.5,2711.99 L1910.5,2713.35 L1911.5,2713.33 L1912.5,2713.32 L1913.5,2713.3 L1914.5,2713.28 L1915.5,2713.77 L1916.5,2713.76 L1917.5,2713.74 L1918.5,2714.42 L1919.5,2714.4 L1920.5,2714.38 L1921.5,2714.37 L1922.5,2714.35 L1923.5,2714.32 L1924.5,2712.91 L1925.5,2712.89 L1926.5,2712.86 L1927.5,2712.84 L1928.5,2712.81 L1929.5,2712.78 L1930.5,2712.75 L1931.5,2713.23 L1932.5,2713.2 L1933.5,2713.17 L1934.5,2714.99 L1935.5,2715.62 L1936.5,2715.59 L1937.5,2715.55 L1938.5,2715.72 L1939.5,2715.1 L1940.5,2715.06 L1941.5,2715.03 L1942.5,2712.53 L1943.5,2712.5 L1944.5,2712.46 L1945.5,2712.43 L1946.5,2712.4 L1947.5,2712.36 L1948.5,2712.33 L1949.5,2713.16 L1950.5,2713.13 L1951.5,2713.09 L1952.5,2713.06 L1953.5,2713.04 L1954.5,2713.01 L1955.5,2713.03 L1956.5,2713.01 L1957.5,2712.73 L1958.5,2712.71 L1959.5,2712.57 L1960.5,2711.47 L1961.5,2711.46 L1962.5,2711.45 L1963.5,2711.44 L1964.5,2711.43 L1965.5,2711.41 L1966.5,2713.48 L1967.5,2713.46 L1968.5,2711.82 L1969.5,2711.8 L1970.5,2711.62 L1971.5,2711.6 L1972.5,2711.58 L1973.5,2711.56 L1974.5,2711.54 L1975.5,2711.51 L1976.5,2711.48 L1977.5,2711.68 L1978.5,2711.64 L1979.5,2711.6 L1980.5,2711.55 L1981.5,2711.51 L1982.5,2711.45 L1983.5,2711.38 L1984.5,2711.31 L1985.5,2711.71 L1986.5,2712.02 L1987.5,2709.73 L1988.5,2709.63 L1989.5,2709.51 L1990.5,2709.39 L1991.5,2709.25 L1992.5,2709.11 L1993.5,2710.65 L1994.5,2710.49 L1995.5,2710.33 L1996.5,2710.16 L1997.5,2709.99 L1998.5,2709.81 L1999.5,2709.63 L2000.5,2711.9 L2001.5,2710.57 L2002.5,2710.39 L2003.5,2710.21 L2004.5,2710.03 L2005.5,2709.82 L2006.5,2709.28 L2007.5,2709.11 L2008.5,2708.95 L2009.5,2708.79 L2010.5,2708.64 L2011.5,2708.49 L2012.5,2708.07 L2013.5,2707.94 L2014.5,2707.82 L2015.5,2707.71 L2016.5,2707.61 L2017.5,2707.52 L2018.5,2707.44 L2019.5,2708.27 L2020.5,2707.35 L2021.5,2707.31 L2022.5,2707.28 L2023.5,2707.25 L2024.5,2706.94 L2025.5,2706.93 L2026.5,2706.92 L2027.5,2706.93 L2028.5,2706.93 L2029.5,2706.95 L2030.5,2707.4 L2031.5,2707.42 L2032.5,2707.46 L2033.5,2707.67 L2034.5,2707.71 L2035.5,2703.86 L2036.5,2703.91 L2037.5,2703.97 L2038.5,2704.03 L2039.5,2704.1 L2040.5,2704.17 L2041.5,2704.24 L2042.5,2707.02 L2043.5,2705.95 L2044.5,2706.04 L2045.5,2706.12 L2046.5,2706.21 L2047.5,2706.3 L2048.5,2706.39 L2049.5,2707.79 L2050.5,2707.88 L2051.5,2707.98 L2052.5,2708.63 L2053.5,2708.73 L2054.5,2708.83 L2055.5,2708.93 L2056.5,2709.18 L2057.5,2709.3 L2058.5,2709.41 L2059.5,2709.54 L2060.5,2709.79 L2061.5,2710.26 L2062.5,2710.4 L2063.5,2710.54 L2064.5,2710.69 L2065.5,2710.57 L2066.5,2710.72 L2067.5,2710.88 L2068.5,2711.04 L2069.5,2711.2 L2070.5,2711.36 L2071.5,2712.32 L2072.5,2710.76 L2073.5,2710.93 L2074.5,2711.1 L2075.5,2711.27 L2076.5,2711.43 L2077.5,2711.6 L2078.5,2713.11 L2079.5,2714.7 L2080.5,2714.86 L2081.5,2715.02 L2082.5,2715.18 L2083.5,2715.34 L2084.5,2715.5 L2085.5,2715.96 L2086.5,2716.11 L2087.5,2714.08 L2088.5,2713.5 L2089.5,2713.63 L2090.5,2713.77 L2091.5,2713.9 L2092.5,2714.03 L2093.5,2714.16 L2094.5,2714.29 L2095.5,2715.01 L2096.5,2714.87 L2097.5,2715 L2098.5,2715.13 L2099.5,2715.25 L2100.5,2715.38 L2101.5,2715.5 L2102.5,2714.89 L2103.5,2715.01 L2104.5,2715.13 L2105.5,2714.71 L2106.5,2714.83 L2107.5,2714.95 L2108.5,2715.07 L2109.5,2715.19 L2110.5,2715.31 L2111.5,2715.43 L2112.5,2716.43 L2113.5,2716.55 L2114.5,2716.66 L2115.5,2716.78 L2116.5,2716.75 L2117.5,2716.87 L2118.5,2716.99 L2119.5,2717.11 L2120.5,2717.22 L2121.5,2717.34 L2122.5,2717.46 L2123.5,2718.48 L2124.5,2718.6 L2125.5,2715.84 L2126.5,2715.96 L2127.5,2716.08 L2128.5,2716.2 L2128.5,2738.6 L2127.5,2738.48 L2126.5,2738.36 L2125.5,2738.24 L2124.5,2738.12 L2123.5,2739.12 L2122.5,2739 L2121.5,2738.88 L2120.5,2738.76 L2119.5,2738.64 L2118.5,2738.52 L2117.5,2737.2 L2116.5,2737.08 L2115.5,2736.96 L2114.5,2736.84 L2113.5,2736.73 L2112.5,2734.64 L2111.5,2734.52 L2110.5,2733.68 L2109.5,2734 L2108.5,2733.88 L2107.5,2733.76 L2106.5,2733.64 L2105.5,2734.91 L2104.5,2734.79 L2103.5,2734.67 L2102.5,2734.55 L2101.5,2734.43 L2100.5,2734.3 L2099.5,2734.18 L2098.5,2733.22 L2097.5,2733.1 L2096.5,2732.97 L2095.5,2732.85 L2094.5,2731.4 L2093.5,2735.04 L2092.5,2734.91 L2091.5,2734.78 L2090.5,2734.65 L2089.5,2734.52 L2088.5,2734.38 L2087.5,2734.25 L2086.5,2733.57 L2085.5,2733.33 L2084.5,2733.19 L2083.5,2732.76 L2082.5,2734.33 L2081.5,2734.18 L2080.5,2734.02 L2079.5,2733.85 L2078.5,2733.69 L2077.5,2733.53 L2076.5,2732.16 L2075.5,2734.64 L2074.5,2734.47 L2073.5,2734.31 L2072.5,2734.14 L2071.5,2733.97 L2070.5,2733.8 L2069.5,2730.82 L2068.5,2730.65 L2067.5,2729.9 L2066.5,2729.74 L2065.5,2727.1 L2064.5,2727.21 L2063.5,2728.41 L2062.5,2728.26 L2061.5,2728.12 L2060.5,2727.98 L2059.5,2727.84 L2058.5,2727.71 L2057.5,2727.59 L2056.5,2727.21 L2055.5,2727.1 L2054.5,2726.99 L2053.5,2727.69 L2052.5,2727.59 L2051.5,2727.49 L2050.5,2727.39 L2049.5,2727.3 L2048.5,2727.2 L2047.5,2729.13 L2046.5,2729.04 L2045.5,2728.95 L2044.5,2728.86 L2043.5,2728.78 L2042.5,2728.7 L2041.5,2728.62 L2040.5,2727.03 L2039.5,2726.96 L2038.5,2726.89 L2037.5,2727.24 L2036.5,2727.18 L2035.5,2727.13 L2034.5,2727.08 L2033.5,2727.03 L2032.5,2726.99 L2031.5,2727.66 L2030.5,2727.63 L2029.5,2727.61 L2028.5,2727.92 L2027.5,2727.91 L2026.5,2727.91 L2025.5,2727.92 L2024.5,2727.93 L2023.5,2727.95 L2022.5,2727.98 L2021.5,2726.87 L2020.5,2726.68 L2019.5,2726.74 L2018.5,2726.81 L2017.5,2726.9 L2016.5,2724.74 L2015.5,2725.56 L2014.5,2727.87 L2013.5,2728.43 L2012.5,2728.57 L2011.5,2728.72 L2010.5,2728.87 L2009.5,2729.03 L2008.5,2729.2 L2007.5,2728.71 L2006.5,2728.88 L2005.5,2729.4 L2004.5,2729.58 L2003.5,2729.76 L2002.5,2729.94 L2001.5,2730.12 L2000.5,2730.3 L1999.5,2730.41 L1998.5,2730.59 L1997.5,2730.76 L1996.5,2730.92 L1995.5,2731.08 L1994.5,2731.24 L1993.5,2730.44 L1992.5,2730.58 L1991.5,2730.71 L1990.5,2730.84 L1989.5,2729.26 L1988.5,2729.37 L1987.5,2729.46 L1986.5,2730.63 L1985.5,2730.71 L1984.5,2730.78 L1983.5,2732.2 L1982.5,2732.26 L1981.5,2732.31 L1980.5,2732.37 L1979.5,2732.86 L1978.5,2732.91 L1977.5,2732.94 L1976.5,2732.98 L1975.5,2733.01 L1974.5,2733.04 L1973.5,2730.8 L1972.5,2730.82 L1971.5,2733.01 L1970.5,2733.02 L1969.5,2733.04 L1968.5,2733.05 L1967.5,2733.07 L1966.5,2733.08 L1965.5,2732.31 L1964.5,2732.32 L1963.5,2732.34 L1962.5,2732.35 L1961.5,2731.44 L1960.5,2731.45 L1959.5,2733.23 L1958.5,2733.24 L1957.5,2733.26 L1956.5,2733.28 L1955.5,2733.3 L1954.5,2733.32 L1953.5,2732.91 L1952.5,2732.94 L1951.5,2732.97 L1950.5,2733 L1949.5,2733.03 L1948.5,2730.43 L1947.5,2734.06 L1946.5,2734.09 L1945.5,2734.12 L1944.5,2734.16 L1943.5,2734.19 L1942.5,2734.22 L1941.5,2731.58 L1940.5,2735.27 L1939.5,2735.31 L1938.5,2735.34 L1937.5,2735.37 L1936.5,2735.41 L1935.5,2735.44 L1934.5,2735.47 L1933.5,2731.76 L1932.5,2731.79 L1931.5,2731.82 L1930.5,2733.82 L1929.5,2733.85 L1928.5,2733.88 L1927.5,2733.9 L1926.5,2733.93 L1925.5,2733.96 L1924.5,2733.22 L1923.5,2733.24 L1922.5,2733.26 L1921.5,2734.68 L1920.5,2734.7 L1919.5,2734.72 L1918.5,2734.73 L1917.5,2734.75 L1916.5,2734.77 L1915.5,2734.78 L1914.5,2734.93 L1913.5,2734.95 L1912.5,2734.97 L1911.5,2734.99 L1910.5,2735 L1909.5,2735.02 L1908.5,2733.07 L1907.5,2733.09 L1906.5,2733.98 L1905.5,2734 L1904.5,2734.01 L1903.5,2734.02 L1902.5,2734.03 L1901.5,2735.35 L1900.5,2735.36 L1899.5,2735.36 L1898.5,2735.36 L1897.5,2735.36 L1896.5,2735.36 L1895.5,2732.94 L1894.5,2735.17 L1893.5,2735.16 L1892.5,2735.15 L1891.5,2735.13 L1890.5,2735.1 L1889.5,2735.08 L1888.5,2734.39 L1887.5,2734.35 L1886.5,2734.31 L1885.5,2734.26 L1884.5,2733.58 L1883.5,2733.53 L1882.5,2733.47 L1881.5,2733.4 L1880.5,2733.33 L1879.5,2732.35 L1878.5,2732.27 L1877.5,2732.19 L1876.5,2732.1 L1875.5,2733.44 L1874.5,2733.34 L1873.5,2733.24 L1872.5,2733.14 L1871.5,2733.04 L1870.5,2732.93 L1869.5,2732.82 L1868.5,2733.12 L1867.5,2733 L1866.5,2732.89 L1865.5,2732.77 L1864.5,2732.66 L1863.5,2732.54 L1862.5,2731.98 L1861.5,2731.86 L1860.5,2730.88 L1859.5,2730.76 L1858.5,2730.65 L1857.5,2730.77 L1856.5,2730.65 L1855.5,2730.54 L1854.5,2730.43 L1853.5,2730.32 L1852.5,2730.21 L1851.5,2730.11 L1850.5,2729.69 L1849.5,2730.68 L1848.5,2732.08 L1847.5,2731.98 L1846.5,2731.89 L1845.5,2731.79 L1844.5,2731.7 L1843.5,2731.6 L1842.5,2729.66 L1841.5,2729.57 L1840.5,2729.48 L1839.5,2729.38 L1838.5,2727.66 L1837.5,2727.57 L1836.5,2728.44 L1835.5,2728.35 L1834.5,2728.26 L1833.5,2728.16 L1832.5,2728.07 L1831.5,2727.97 L1830.5,2726.97 L1829.5,2726.87 L1828.5,2728.42 L1827.5,2728.32 L1826.5,2728.22 L1825.5,2729.92 L1824.5,2729.82 L1823.5,2729.71 L1822.5,2729.6 L1821.5,2729.49 L1820.5,2729.38 L1819.5,2729.26 L1818.5,2728.25 L1817.5,2725.77 L1816.5,2725.65 L1815.5,2725.52 L1814.5,2725.39 L1813.5,2726.77 L1812.5,2727.65 L1811.5,2727.51 L1810.5,2727.37 L1809.5,2727.22 L1808.5,2727.07 L1807.5,2726.92 L1806.5,2724.54 L1805.5,2724.39 L1804.5,2724.23 L1803.5,2724.07 L1802.5,2724.92 L1801.5,2724.91 L1800.5,2724.75 L1799.5,2724.59 L1798.5,2725.3 L1797.5,2725.14 L1796.5,2724.98 L1795.5,2724.82 L1794.5,2724.92 L1793.5,2724.77 L1792.5,2724.61 L1791.5,2724.46 L1790.5,2724.31 L1789.5,2724.17 L1788.5,2721.05 L1787.5,2721.5 L1786.5,2725.88 L1785.5,2725.75 L1784.5,2725.61 L1783.5,2725.49 L1782.5,2725.36 L1781.5,2725.24 L1780.5,2725.13 L1779.5,2720.75 L1778.5,2720.65 L1777.5,2720.54 L1776.5,2720.44 L1775.5,2719.69 L1774.5,2719.28 L1773.5,2719.19 L1772.5,2721.55 L1771.5,2721.46 L1770.5,2721.37 L1769.5,2722.11 L1768.5,2722.03 L1767.5,2721.94 L1766.5,2721.85 L1765.5,2721.76 L1764.5,2721.67 L1763.5,2718.03 L1762.5,2717.73 L1761.5,2717.64 L1760.5,2718.73 L1759.5,2718.64 L1758.5,2718.54 L1757.5,2718.44 L1756.5,2718.35 L1755.5,2718.24 L1754.5,2718.14 L1753.5,2717.69 L1752.5,2718.9 L1751.5,2719.4 L1750.5,2719.28 L1749.5,2719.16 L1748.5,2719.03 L1747.5,2718.9 L1746.5,2718.77 L1745.5,2717.01 L1744.5,2716.88 L1743.5,2716.74 L1742.5,2716.6 L1741.5,2716.46 L1740.5,2716.55 L1739.5,2716.4 L1738.5,2716.25 L1737.5,2716.1 L1736.5,2715.95 L1735.5,2715.8 L1734.5,2720.15 L1733.5,2720 L1732.5,2719.84 L1731.5,2719.68 L1730.5,2719.53 L1729.5,2719.37 L1728.5,2719.21 L1727.5,2716.16 L1726.5,2716 L1725.5,2715.84 L1724.5,2715.16 L1723.5,2715 L1722.5,2714.84 L1721.5,2714.69 L1720.5,2714.53 L1719.5,2714.37 L1718.5,2714.22 L1717.5,2711.25 L1716.5,2710.87 L1715.5,2711.03 L1714.5,2710.88 L1713.5,2712.69 L1712.5,2712.65 L1711.5,2712.5 L1710.5,2712.35 L1709.5,2712.2 L1708.5,2712.05 L1707.5,2712.37 L1706.5,2712.22 L1705.5,2712.07 L1704.5,2711.92 L1703.5,2711.77 L1702.5,2711.62 L1701.5,2711.47 L1700.5,2709.58 L1699.5,2709.23 L1698.5,2709.62 L1697.5,2709.47 L1696.5,2709.32 L1695.5,2709.17 L1694.5,2709.02 L1693.5,2708.87 L1692.5,2709.33 L1691.5,2709.18 L1690.5,2709.03 L1689.5,2708.88 L1688.5,2708.73 L1687.5,2708.58 L1686.5,2706.96 L1685.5,2706.81 L1684.5,2710.28 L1683.5,2710.13 L1682.5,2709.98 L1681.5,2709.82 L1680.5,2709.67 L1679.5,2709.53 L1678.5,2707.35 L1677.5,2707.2 L1676.5,2707.06 L1675.5,2706.91 L1674.5,2707.69 L1673.5,2707.55 L1672.5,2707.41 L1671.5,2707.26 L1670.5,2707.12 L1669.5,2706.98 L1668.5,2705.46 L1667.5,2708.08 L1666.5,2707.94 L1665.5,2707.8 L1664.5,2707.65 L1663.5,2707.51 L1662.5,2707.37 L1661.5,2705.11 L1660.5,2705.09 L1659.5,2704.94 L1658.5,2704.79 L1657.5,2705.29 L1656.5,2707.17 L1655.5,2707.02 L1654.5,2706.86 L1653.5,2706.7 L1652.5,2706.54 L1651.5,2706.38 L1650.5,2702.41 L1649.5,2703.3 L1648.5,2703.13 L1647.5,2702.95 L1646.5,2702.78 L1645.5,2702.6 L1644.5,2702.42 L1643.5,2702.07 L1642.5,2701.89 L1641.5,2701.7 L1640.5,2701.52 L1639.5,2701.33 L1638.5,2700.65 L1637.5,2700.46 L1636.5,2700.35 L1635.5,2700.16 L1634.5,2699.96 L1633.5,2699.91 L1632.5,2703.21 L1631.5,2703.01 L1630.5,2702.81 L1629.5,2702.61 L1628.5,2702.4 L1627.5,2702.2 L1626.5,2698.93 L1625.5,2698.72 L1624.5,2699.83 L1623.5,2702.63 L1622.5,2702.42 L1621.5,2702.21 L1620.5,2702 L1619.5,2701.79 L1618.5,2701.58 L1617.5,2701.36 L1616.5,2698.19 L1615.5,2697.97 L1614.5,2697.75 L1613.5,2697.54 L1612.5,2698.13 L1611.5,2697.89 L1610.5,2697.63 L1609.5,2697.36 L1608.5,2697.07 L1607.5,2696.78 L1606.5,2696.49 L1605.5,2696.02 L1604.5,2695.73 L1603.5,2695.45 L1602.5,2694.87 L1601.5,2694.62 L1600.5,2692.52 L1599.5,2692.33 L1598.5,2693.15 L1597.5,2693 L1596.5,2696.54 L1595.5,2696.4 L1594.5,2696.26 L1593.5,2696.12 L1592.5,2695.99 L1591.5,2695.87 L1590.5,2691.18 L1589.5,2691.06 L1588.5,2690.95 L1587.5,2690.83 L1586.5,2690.72 L1585.5,2692.23 L1584.5,2692.12 L1583.5,2692.02 L1582.5,2691.92 L1581.5,2691.83 L1580.5,2691.74 L1579.5,2689.64 L1578.5,2689.56 L1577.5,2689.47 L1576.5,2689.39 L1575.5,2689.13 L1574.5,2689.06 L1573.5,2688.99 L1572.5,2688.91 L1571.5,2688.85 L1570.5,2688.78 L1569.5,2688.72 L1568.5,2687.66 L1567.5,2687.6 L1566.5,2687.54 L1565.5,2686.63 L1564.5,2686.57 L1563.5,2686.52 L1562.5,2686.47 L1561.5,2686.42 L1560.5,2686.37 L1559.5,2686.38 L1558.5,2686.33 L1557.5,2686.42 L1556.5,2686.38 L1555.5,2686.34 L1554.5,2686.3 L1553.5,2688.08 L1552.5,2688.04 L1551.5,2688.01 L1550.5,2687.97 L1549.5,2688.46 L1548.5,2688.43 L1547.5,2688.4 L1546.5,2688.37 L1545.5,2688.68 L1544.5,2688.65 L1543.5,2688.62 L1542.5,2688.59 L1541.5,2688.57 L1540.5,2688.54 L1539.5,2687.66 L1538.5,2687.63 L1537.5,2687.61 L1536.5,2686.52 L1535.5,2686.5 L1534.5,2686.48 L1533.5,2686.28 L1532.5,2686.26 L1531.5,2686.24 L1530.5,2687.21 L1529.5,2687.19 L1528.5,2687.98 L1527.5,2687.96 L1526.5,2687.94 L1525.5,2687.92 L1524.5,2687.91 L1523.5,2687.89 L1522.5,2687.38 L1521.5,2687.37 L1520.5,2687.36 L1519.5,2687.34 L1518.5,2689.63 L1517.5,2689.62 L1516.5,2689.61 L1515.5,2689.6 L1514.5,2691.35 L1513.5,2691.34 L1512.5,2691.34 L1511.5,2691.34 L1510.5,2691.34 L1509.5,2691.34 L1508.5,2688.47 L1507.5,2688.47 L1506.5,2688.47 L1505.5,2688.47 L1504.5,2688.48 L1503.5,2687.95 L1502.5,2687.95 L1501.5,2687.42 L1500.5,2687.68 L1499.5,2687.68 L1498.5,2687.68 L1497.5,2687.69 L1496.5,2687.69 L1495.5,2687.7 L1494.5,2687.77 L1493.5,2687.77 L1492.5,2687.78 L1491.5,2687.78 L1490.5,2687.79 L1489.5,2689.83 L1488.5,2689.84 L1487.5,2689.84 L1486.5,2689.85 L1485.5,2689.85 L1484.5,2689.85 L1483.5,2688.82 L1482.5,2688.82 L1481.5,2688.82 L1480.5,2688.83 L1479.5,2688.83 L1478.5,2688.83 L1477.5,2686.68 L1476.5,2686.68 L1475.5,2688.3 L1474.5,2688.31 L1473.5,2688.33 L1472.5,2688.35 L1471.5,2688.37 L1470.5,2688.39 L1469.5,2688.16 L1468.5,2689.13 L1467.5,2689.16 L1466.5,2689.18 L1465.5,2689.21 L1464.5,2689.24 L1463.5,2689.27 L1462.5,2689.3 L1461.5,2688.52 L1460.5,2688.58 L1459.5,2689.46 L1458.5,2689.49 L1457.5,2689.51 L1456.5,2689.52 L1455.5,2689.54 L1454.5,2689.55 L1453.5,2689.56 L1452.5,2688.43 L1451.5,2688.43 L1450.5,2688.42 L1449.5,2688.41 L1448.5,2688.87 L1447.5,2689.09 L1446.5,2689.06 L1445.5,2689.03 L1444.5,2688.99 L1443.5,2688.95 L1442.5,2688.89 L1441.5,2688.83 L1440.5,2687.94 L1439.5,2687.87 L1438.5,2687.78 L1437.5,2687.69 L1436.5,2688.21 L1435.5,2688.1 L1434.5,2687.98 L1433.5,2687.85 L1432.5,2687.72 L1431.5,2687.57 L1430.5,2687.42 L1429.5,2686.58 L1428.5,2686.42 L1427.5,2687.52 L1426.5,2687.34 L1425.5,2687.15 L1424.5,2686.96 L1423.5,2686.76 L1422.5,2686.55 L1421.5,2685.3 L1420.5,2686.3 L1419.5,2687.05 L1418.5,2686.83 L1417.5,2686.59 L1416.5,2686.35 L1415.5,2686.11 L1414.5,2685.86 L1413.5,2685.61 L1412.5,2682.3 L1411.5,2682.04 L1410.5,2682.89 L1409.5,2682.62 L1408.5,2682.35 L1407.5,2682.08 L1406.5,2681.8 L1405.5,2681.51 L1404.5,2680.18 L1403.5,2679.88 L1402.5,2679.57 L1401.5,2678.88 L1400.5,2678.56 L1399.5,2681.17 L1398.5,2680.84 L1397.5,2680.5 L1396.5,2680.15 L1395.5,2679.8 L1394.5,2679.45 L1393.5,2679.09 L1392.5,2677.05 L1391.5,2676.69 L1390.5,2676.72 L1389.5,2676.35 L1388.5,2675.98 L1387.5,2675.61 L1386.5,2675.71 L1385.5,2675.34 L1384.5,2674.96 L1383.5,2674.58 L1382.5,2674.2 L1381.5,2673.83 L1380.5,2673.45 L1379.5,2671.86 L1378.5,2671.54 L1377.5,2671.44 L1376.5,2671.87 L1375.5,2671.51 L1374.5,2671.15 L1373.5,2670.79 L1372.5,2670.44 L1371.5,2670.09 L1370.5,2669.74 L1369.5,2668.86 L1368.5,2668.5 L1367.5,2668.15 L1366.5,2667.8 L1365.5,2666.96 L1364.5,2666.6 L1363.5,2667.06 L1362.5,2666.69 L1361.5,2667.4 L1360.5,2667.02 L1359.5,2666.63 L1358.5,2666.24 L1357.5,2665.84 L1356.5,2665.43 L1355.5,2661.89 L1354.5,2661.53 L1353.5,2661.09 L1352.5,2662.09 L1351.5,2661.63 L1350.5,2661.23 L1349.5,2660.8 L1348.5,2660.28 L1347.5,2659.68 L1346.5,2659.18 L1345.5,2658.45 L1344.5,2657.66 L1343.5,2656.83 L1342.5,2655.97 L1341.5,2655.08 L1340.5,2654.2 L1339.5,2653.13 L1338.5,2652.28 L1337.5,2653.6 L1336.5,2652.85 L1335.5,2652.18 L1334.5,2651.63 L1333.5,2651.2 L1332.5,2650.96 L1331.5,2648.61 L1330.5,2648.52 L1329.5,2647.14 L1328.5,2647.15 L1327.5,2647.2 L1326.5,2647.29 L1325.5,2647.56 L1324.5,2647.72 L1323.5,2647.9 L1322.5,2648.11 L1321.5,2650.38 L1320.5,2650.63 L1319.5,2650.88 L1318.5,2651.15 L1317.5,2651.42 L1316.5,2651.7 L1315.5,2651.98 L1314.5,2651.78 L1313.5,2652.05 L1312.5,2652.31 L1311.5,2652.57 L1310.5,2652.81 L1309.5,2653.04 L1308.5,2653.22 L1307.5,2653.41 L1306.5,2653.53 L1305.5,2653.34 L1304.5,2654.68 L1303.5,2654.82 L1302.5,2654.97 L1301.5,2655.11 L1300.5,2655.26 L1299.5,2655.4 L1298.5,2655.41 L1297.5,2655.55 L1296.5,2655.69 L1295.5,2655.82 L1294.5,2654.19 L1293.5,2654.32 L1292.5,2654.46 L1291.5,2658.26 L1290.5,2658.39 L1289.5,2658.53 L1288.5,2658.68 L1287.5,2658.82 L1286.5,2658.97 L1285.5,2657.4 L1284.5,2656.25 L1283.5,2656.41 L1282.5,2656.57 L1281.5,2656.74 L1280.5,2656.91 L1279.5,2657.2 L1278.5,2657.38 L1277.5,2657.57 L1276.5,2657.76 L1275.5,2657.97 L1274.5,2658.18 L1273.5,2658.41 L1272.5,2657.17 L1271.5,2660.49 L1270.5,2660.74 L1269.5,2661 L1268.5,2661.26 L1267.5,2661.53 L1266.5,2661.8 L1265.5,2662.27 L1264.5,2662.54 L1263.5,2662.82 L1262.5,2663.1 L1261.5,2663.38 L1260.5,2663.71 L1259.5,2663.99 L1258.5,2664.26 L1257.5,2664.53 L1256.5,2664.8 L1255.5,2665.06 L1254.5,2665.32 L1253.5,2664.93 L1252.5,2665.18 L1251.5,2665.41 L1250.5,2662.05 L1249.5,2662.27 L1248.5,2662.48 L1247.5,2662.68 L1246.5,2662.87 L1245.5,2665.73 L1244.5,2665.9 L1243.5,2666.08 L1242.5,2666.25 L1241.5,2666.42 L1240.5,2666.6 L1239.5,2666.77 L1238.5,2666.93 L1237.5,2670.25 L1236.5,2670.41 L1235.5,2670.57 L1234.5,2670.71 L1233.5,2670.86 L1232.5,2671 L1231.5,2667.6 L1230.5,2667.73 L1229.5,2667.85 L1228.5,2669.53 L1227.5,2669.63 L1226.5,2669.72 L1225.5,2669.8 L1224.5,2669.88 L1223.5,2669.94 L1222.5,2669.99 L1221.5,2667.96 L1220.5,2667.99 L1219.5,2668.01 L1218.5,2670.4 L1217.5,2670.4 L1216.5,2670.38 L1215.5,2670.35 L1214.5,2670.3 L1213.5,2670.24 L1212.5,2668.9 L1211.5,2668.82 L1210.5,2668.73 L1209.5,2668.63 L1208.5,2668.52 L1207.5,2668.4 L1206.5,2666.97 L1205.5,2666.83 L1204.5,2666.68 L1203.5,2666.52 L1202.5,2666.35 L1201.5,2666.11 L1200.5,2665.92 L1199.5,2665.07 L1198.5,2664.87 L1197.5,2664.65 L1196.5,2664.43 L1195.5,2664.2 L1194.5,2662.86 L1193.5,2662.61 L1192.5,2662.35 L1191.5,2662.15 L1190.5,2661.88 L1189.5,2661.59 L1188.5,2661.3 L1187.5,2661.22 L1186.5,2660.91 L1185.5,2662.56 L1184.5,2662.23 L1183.5,2663.01 L1182.5,2662.68 L1181.5,2662.36 L1180.5,2662.04 L1179.5,2661.72 L1178.5,2661.39 L1177.5,2661.26 L1176.5,2664.52 L1175.5,2664.18 L1174.5,2663.82 L1173.5,2663.45 L1172.5,2663.06 L1171.5,2662.65 L1170.5,2657.27 L1169.5,2656.82 L1168.5,2656.35 L1167.5,2656.79 L1166.5,2656.26 L1165.5,2655.7 L1164.5,2655.11 L1163.5,2654.48 L1162.5,2653.82 L1161.5,2651.87 L1160.5,2651.15 L1159.5,2650.56 L1158.5,2649.91 L1157.5,2649.04 L1156.5,2648.68 L1155.5,2647.65 L1154.5,2646.53 L1153.5,2645.32 L1152.5,2644.03 L1151.5,2642.65 L1150.5,2639.52 L1149.5,2637.97 L1148.5,2636.26 L1147.5,2636.15 L1146.5,2635.5 L1145.5,2633.77 L1144.5,2633.08 L1143.5,2631.84 L1142.5,2629.75 L1141.5,2626.92 L1140.5,2625.08 L1139.5,2621.12 L1138.5,2616.77 L1137.5,2612.17 L1136.5,2607.59 L1135.5,2604.88 L1134.5,2602.44 L1133.5,2597.29 L1132.5,2594.16 L1131.5,2590.81 L1130.5,2587.3 L1129.5,2583.72 L1128.5,2580.14 L1127.5,2575.61 L1126.5,2572.4 L1125.5,2569.69 L1124.5,2568.08 L1123.5,2568.57 L1122.5,2571.33 L1121.5,2574.74 L1120.5,2578.43 L1119.5,2582.95 L1118.5,2586.63 L1117.5,2590.12 L1116.5,2594.77 L1115.5,2597.54 L1114.5,2599.8 L1113.5,2601.45 L1112.5,2602.43 L1111.5,2603.74 L1110.5,2605.69 L1109.5,2607.49 L1108.5,2609.23 L1107.5,2610.93 L1106.5,2612.58 L1105.5,2614.18 L1104.5,2615.72 L1103.5,2615.85 L1102.5,2616.66 L1101.5,2619.58 L1100.5,2620.89 L1099.5,2622.14 L1098.5,2623.33 L1097.5,2624.47 L1096.5,2625.54 L1095.5,2624.65 L1094.5,2625.59 L1093.5,2626.47 L1092.5,2627.28 L1091.5,2628.03 L1090.5,2627.47 L1089.5,2628.08 L1088.5,2628.73 L1087.5,2629.43 L1086.5,2632.73 L1085.5,2633.41 L1084.5,2634.08 L1083.5,2634.74 L1082.5,2635.39 L1081.5,2636.03 L1080.5,2634.98 L1079.5,2635.6 L1078.5,2636.22 L1077.5,2635.7 L1076.5,2636.52 L1075.5,2641.86 L1074.5,2642.56 L1073.5,2643.13 L1072.5,2643.7 L1071.5,2644.27 L1070.5,2644.83 L1069.5,2645.38 L1068.5,2645.27 L1067.5,2645.81 L1066.5,2646.34 L1065.5,2646.86 L1064.5,2647.39 L1063.5,2647.9 L1062.5,2646.95 L1061.5,2647.46 L1060.5,2647.96 L1059.5,2648.45 L1058.5,2648.94 L1057.5,2648.37 L1056.5,2650.76 L1055.5,2651.22 L1054.5,2651.68 L1053.5,2653.35 L1052.5,2653.79 L1051.5,2654.22 L1050.5,2654.65 L1049.5,2655.07 L1048.5,2655.49 L1047.5,2655.72 L1046.5,2656.13 L1045.5,2651.94 L1044.5,2652.33 L1043.5,2652.72 L1042.5,2653.1 L1041.5,2653.47 L1040.5,2653.84 L1039.5,2653.69 L1038.5,2657.8 L1037.5,2658.15 L1036.5,2658.5 L1035.5,2662.6 L1034.5,2662.94 L1033.5,2663.28 L1032.5,2663.61 L1031.5,2663.94 L1030.5,2664.27 L1029.5,2664.59 L1028.5,2661.38 L1027.5,2661.7 L1026.5,2662.01 L1025.5,2662.32 L1024.5,2662.63 L1023.5,2659.28 L1022.5,2660.93 L1021.5,2662.82 L1020.5,2663.11 L1019.5,2663.39 L1018.5,2663.67 L1017.5,2668.06 L1016.5,2668.33 L1015.5,2668.59 L1014.5,2668.85 L1013.5,2669.1 L1012.5,2669.34 L1011.5,2669.58 L1010.5,2664.19 L1009.5,2664.42 L1008.5,2665.54 L1007.5,2665.75 L1006.5,2665.96 L1005.5,2666.16 L1004.5,2666.35 L1003.5,2666.54 L1002.5,2667.13 L1001.5,2667.31 L1000.5,2667.84 L999.5,2668 L998.5,2668.15 L997.5,2668.3 L996.5,2668.44 L995.5,2668.57 L994.5,2668.46 L993.5,2668.59 L992.5,2668.7 L991.5,2668.82 L990.5,2667.39 L989.5,2669.76 L988.5,2669.86 L987.5,2669.94 L986.5,2670.03 L985.5,2670.1 L984.5,2670.17 L983.5,2670.23 L982.5,2667.98 L981.5,2668.03 L980.5,2670.51 L979.5,2670.55 L978.5,2670.57 L977.5,2672.54 L976.5,2672.55 L975.5,2672.55 L974.5,2672.55 L973.5,2672.54 L972.5,2672.52 L971.5,2672.49 L970.5,2669.85 L969.5,2669.8 L968.5,2669.03 L967.5,2669.9 L966.5,2669.83 L965.5,2669.76 L964.5,2669.69 L963.5,2669.61 L962.5,2672.16 L961.5,2672.08 L960.5,2671.99 L959.5,2671.89 L958.5,2671.79 L957.5,2671.69 L956.5,2668.72 L955.5,2668.61 L954.5,2668.49 L953.5,2668.61 L952.5,2668.98 L951.5,2668.85 L950.5,2668.71 L949.5,2668.57 L948.5,2668.43 L947.5,2668.28 L946.5,2668.12 L945.5,2666.86 L944.5,2665.51 L943.5,2665.34 L942.5,2665.16 L941.5,2665.27 L940.5,2665.08 L939.5,2664.89 L938.5,2664.69 L937.5,2664.49 L936.5,2664.29 L935.5,2664.07 L934.5,2663.16 L933.5,2662.93 L932.5,2662.04 L931.5,2661.81 L930.5,2661.56 L929.5,2659.99 L928.5,2659.74 L927.5,2662 L926.5,2661.73 L925.5,2661.59 L924.5,2661.29 L923.5,2660.98 L922.5,2660.66 L921.5,2661.39 L920.5,2661.04 L919.5,2660.68 L918.5,2660.32 L917.5,2659.94 L916.5,2659.55 L915.5,2659.16 L914.5,2657.88 L913.5,2655.93 L912.5,2655 L911.5,2655.93 L910.5,2655.5 L909.5,2655.07 L908.5,2656.64 L907.5,2656.2 L906.5,2655.75 L905.5,2655.3 L904.5,2657.28 L903.5,2656.82 L902.5,2656.37 L901.5,2655.91 L900.5,2655.45 L899.5,2655 L898.5,2651.07 L897.5,2650.63 L896.5,2651.94 L895.5,2651.48 L894.5,2651.02 L893.5,2650.56 L892.5,2650.08 L891.5,2649.61 L890.5,2649.13 L889.5,2645.13 L888.5,2644.64 L887.5,2646.24 L886.5,2645.74 L885.5,2645.24 L884.5,2644.74 L883.5,2645.41 L882.5,2644.9 L881.5,2644.39 L880.5,2643.88 L879.5,2643.37 L878.5,2642.86 L877.5,2644.29 L876.5,2643.77 L875.5,2643.26 L874.5,2642.74 L873.5,2642.23 L872.5,2641.71 L871.5,2641.2 L870.5,2638.57 L869.5,2638.06 L868.5,2637.55 L867.5,2637.05 L866.5,2636.55 L865.5,2635.53 L864.5,2635.02 L863.5,2634.51 L862.5,2634 L861.5,2633.49 L860.5,2630.4 L859.5,2631.03 L858.5,2634.91 L857.5,2634.39 L856.5,2633.87 L855.5,2633.35 L854.5,2632.83 L853.5,2632.31 L852.5,2629.36 L851.5,2628.84 L850.5,2628.33 L849.5,2627.81 L848.5,2627.3 L847.5,2626.36 L846.5,2625.85 L845.5,2626.77 L844.5,2626.27 L843.5,2625.77 L842.5,2625.28 L841.5,2624.8 L840.5,2624.32 L839.5,2623.84 L838.5,2621.49 L837.5,2620.48 L836.5,2620.58 L835.5,2620.14 L834.5,2619.71 L833.5,2619.31 L832.5,2618.92 L831.5,2618.55 L830.5,2617.73 L829.5,2617.37 L828.5,2617.03 L827.5,2616.7 L826.5,2614.87 L825.5,2615.94 L824.5,2615.61 L823.5,2615.29 L822.5,2614.96 L821.5,2614.63 L820.5,2614.29 L819.5,2612.72 L818.5,2612.37 L817.5,2612.08 L816.5,2612.12 L815.5,2611.74 L814.5,2611.34 L813.5,2610.92 L812.5,2610.49 L811.5,2610.05 L810.5,2610.49 L809.5,2610 L808.5,2610.83 L807.5,2610.29 L806.5,2610.63 L805.5,2610.04 L804.5,2609.41 L803.5,2608.76 L802.5,2608.07 L801.5,2607.36 L800.5,2606.63 L799.5,2604.42 L798.5,2601.4 L797.5,2600.59 L796.5,2599.46 L795.5,2599.08 L794.5,2598.21 L793.5,2599.38 L792.5,2598.48 L791.5,2597.56 L790.5,2596.62 L789.5,2595.67 L788.5,2594.71 L787.5,2593.22 L786.5,2592.24 L785.5,2591.25 L784.5,2590.26 L783.5,2589.27 L782.5,2586.88 L781.5,2585.94 L780.5,2586.8 L779.5,2585.76 L778.5,2584.68 L777.5,2583.57 L776.5,2585.14 L775.5,2583.95 L774.5,2582.75 L773.5,2581.52 L772.5,2580.27 L771.5,2579.02 L770.5,2575.07 L769.5,2572.58 L768.5,2571.33 L767.5,2570.07 L766.5,2569.22 L765.5,2568.02 L764.5,2566.95 L763.5,2565.9 L762.5,2564.81 L761.5,2563.69 L760.5,2563.42 L759.5,2562.27 L758.5,2561.1 L757.5,2559.93 L756.5,2558.76 L755.5,2557.6 L754.5,2554.55 L753.5,2553.75 L752.5,2552.66 L751.5,2551.6 L750.5,2553.82 L749.5,2552.86 L748.5,2551.96 L747.5,2551.14 L746.5,2550.43 L745.5,2549.82 L744.5,2549.26 L743.5,2548.05 L742.5,2546.19 L741.5,2547.1 L740.5,2546.75 L739.5,2546.89 L738.5,2546.62 L737.5,2546.39 L736.5,2546.19 L735.5,2546.02 L734.5,2545.88 L733.5,2545.76 L732.5,2541.42 L731.5,2546.33 L730.5,2546.26 L729.5,2546.19 L728.5,2546.13 L727.5,2546.07 L726.5,2546.02 L725.5,2541.33 L724.5,2543.52 L723.5,2543.5 L722.5,2543.5 L721.5,2543.52 L720.5,2543.56 L719.5,2543.63 L718.5,2543.7 L717.5,2543.78 L716.5,2543.87 L715.5,2543.96 L714.5,2545.67 L713.5,2545.78 L712.5,2546.14 L711.5,2546.25 L710.5,2546.36 L709.5,2546.47 L708.5,2546.58 L707.5,2546.68 L706.5,2546.78 L705.5,2545.65 L704.5,2545.73 L703.5,2545.8 L702.5,2547.6 L701.5,2547.65 L700.5,2547.68 L699.5,2547.69 L698.5,2547.69 L697.5,2547.67 L696.5,2545.5 L695.5,2545.44 L694.5,2545.15 L693.5,2546.13 L692.5,2546.06 L691.5,2545.99 L690.5,2545.92 L689.5,2545.85 L688.5,2545.77 L687.5,2545.03 L686.5,2544.14 L685.5,2544.04 L684.5,2542.75 L683.5,2542.63 L682.5,2542.51 L681.5,2541.15 L680.5,2541.01 L679.5,2540.85 L678.5,2540.69 L677.5,2540.5 L676.5,2542.74 L675.5,2542.53 L674.5,2542.3 L673.5,2542.05 L672.5,2545.62 L671.5,2545.33 L670.5,2545.02 L669.5,2544.69 L668.5,2544.33 L667.5,2543.96 L666.5,2543.55 L665.5,2541.52 L664.5,2541.09 L663.5,2540.63 L662.5,2540.12 L661.5,2539.56 L660.5,2538.96 L659.5,2535.87 L658.5,2533.59 L657.5,2533.16 L656.5,2532.36 L655.5,2531.51 L654.5,2530.61 L653.5,2535.53 L652.5,2534.53 L651.5,2533.48 L650.5,2532.37 L649.5,2531.21 L648.5,2530 L647.5,2526.86 L646.5,2525.74 L645.5,2524.55 L644.5,2519.39 L643.5,2517.88 L642.5,2516.22 L641.5,2514.43 L640.5,2512.5 L639.5,2510.46 L638.5,2509.85 L637.5,2507.61 L636.5,2505.29 L635.5,2502.91 L634.5,2500.46 L633.5,2498 L632.5,2495.84 L631.5,2491.31 L630.5,2490.87 L629.5,2488.37 L628.5,2485.75 L627.5,2483.02 L626.5,2480.2 L625.5,2477.31 L624.5,2474.36 L623.5,2470.89 L622.5,2467.89 L621.5,2465.08 L620.5,2462.47 L619.5,2459.94 L618.5,2461.9 L617.5,2459.16 L616.5,2456.36 L615.5,2453.5 L614.5,2450.62 L613.5,2447.74 L612.5,2444.87 L611.5,2437.56 L610.5,2434.79 L609.5,2432.38 L608.5,2430.04 L607.5,2427.9 L606.5,2425.83 L605.5,2426.77 L604.5,2424.88 L603.5,2423.12 L602.5,2421.73 L601.5,2420.31 L600.5,2419.13 L599.5,2418.57 L598.5,2418.06 L597.5,2418.08 L596.5,2418.66 L595.5,2419.63 L594.5,2420.83 L593.5,2418.9 L592.5,2420.31 L591.5,2420 L590.5,2421.68 L589.5,2422.98 L588.5,2425.69 L587.5,2426.89 L586.5,2428.31 L585.5,2429.79 L584.5,2431.32 L583.5,2434.15 L582.5,2435.78 L581.5,2437.45 L580.5,2439.16 L579.5,2440.92 L578.5,2442.72 L577.5,2443.16 L576.5,2445.04 L575.5,2446.95 L574.5,2448.87 L573.5,2450.46 L572.5,2454.78 L571.5,2456.79 L570.5,2458.82 L569.5,2460.89 L568.5,2462.98 L567.5,2465.09 L566.5,2466.59 L565.5,2468.76 L564.5,2469.23 L563.5,2469.02 L562.5,2473.19 L561.5,2475.46 L560.5,2477.82 L559.5,2480.45 L558.5,2487.02 L557.5,2490.64 L556.5,2493.32 L555.5,2495.97 L554.5,2498.59 L553.5,2501.15 L552.5,2503.64 L551.5,2503.03 L550.5,2505.33 L549.5,2507.52 L548.5,2507.17 L547.5,2509.08 L546.5,2510.5 L545.5,2517.57 L544.5,2519.4 L543.5,2521.22 L542.5,2523.01 L541.5,2524.76 L540.5,2526.47 L539.5,2528.15 L538.5,2527.42 L537.5,2529.01 L536.5,2530.57 L535.5,2532.08 L534.5,2533.24 L533.5,2533.85 L532.5,2535.23 L531.5,2535.36 L530.5,2536.65 L529.5,2540.04 L528.5,2541.25 L527.5,2542.41 L526.5,2543.57 L525.5,2544.7 L524.5,2545.81 L523.5,2546.38 L522.5,2547.45 L521.5,2548.48 L520.5,2547.69 L519.5,2548.69 L518.5,2553.82 L517.5,2554.78 L516.5,2555.73 L515.5,2556.65 L514.5,2557.56 L513.5,2558.46 L512.5,2560.95 L511.5,2561.83 L510.5,2562.69 L509.5,2563.54 L508.5,2564.39 L507.5,2565.23 L506.5,2565.18 L505.5,2566.01 L504.5,2566.84 L503.5,2567.66 L502.5,2568.46 L501.5,2566.88 L500.5,2565.05 L499.5,2565.81 L498.5,2566.56 L497.5,2567.29 L496.5,2568.02 L495.5,2568.74 L494.5,2571.56 L493.5,2572.26 L492.5,2572.95 L491.5,2573.64 L490.5,2574.32 L489.5,2574.99 L488.5,2575.66 L487.5,2575.91 L486.5,2576.57 L485.5,2577.23 L484.5,2575.05 L483.5,2575.7 L482.5,2582.03 L481.5,2582.68 L480.5,2583.32 L479.5,2583.97 L478.5,2584.61 L477.5,2585.26 L476.5,2584.08 L475.5,2584.73 L474.5,2584.71 L473.5,2585.36 L472.5,2586.01 L471.5,2586.49 L470.5,2587.47 L469.5,2588.11 L468.5,2589.85 L467.5,2590.48 L466.5,2591.12 L465.5,2591.75 L464.5,2592.38 L463.5,2593 L462.5,2593.63 L461.5,2590.48 L460.5,2591.08 L459.5,2591.69 L458.5,2592.3 L457.5,2592.99 L456.5,2593.59 L455.5,2594.18 L454.5,2594.77 L453.5,2602.22 L452.5,2602.79 L451.5,2603.36 L450.5,2603.93 L449.5,2604.49 L448.5,2605.04 L447.5,2605.59 L446.5,2603.77 L445.5,2602.5 L444.5,2603.03 L443.5,2603.55 L442.5,2604.06 L441.5,2604.56 L440.5,2601.31 L439.5,2604.19 L438.5,2604.65 L437.5,2605.76 L436.5,2607.64 L435.5,2608.08 L434.5,2608.51 L433.5,2610.64 L432.5,2611.06 L431.5,2611.49 L430.5,2611.91 L429.5,2612.32 L428.5,2612.74 L427.5,2610.56 L426.5,2610.98 L425.5,2611.03 L424.5,2612.32 L423.5,2613.03 L422.5,2613.46 L421.5,2613.89 L420.5,2614.33 L419.5,2614.77 L418.5,2616.49 L417.5,2616.94 L416.5,2617.41 L415.5,2617.89 L414.5,2618.38 L413.5,2618.88 L412.5,2620.13 L411.5,2620.66 L410.5,2621.19 L409.5,2621.73 L408.5,2622.28 L407.5,2622.84 L406.5,2623.37 L405.5,2623.93 L404.5,2624.51 L403.5,2625.08 L402.5,2625.66 L401.5,2620.8 L400.5,2621.38 L399.5,2621.96 L398.5,2622.54 L397.5,2623.12 L396.5,2623.69 L395.5,2623.85 L394.5,2624.42 L393.5,2624.46 L392.5,2625.85 L391.5,2626.4 L390.5,2626.95 L389.5,2627.49 L388.5,2628.02 L387.5,2628.54 L386.5,2629.05 L385.5,2628.83 L384.5,2632.8 L383.5,2633.27 L382.5,2633.74 L381.5,2634.2 L380.5,2634.66 L379.5,2635.13 L378.5,2635.58 L377.5,2634.09 L376.5,2634.54 L375.5,2635.53 L374.5,2638.5 L373.5,2638.94 L372.5,2639.37 L371.5,2639.79 L370.5,2640.21 L369.5,2640.63 L368.5,2641.04 L367.5,2637.51 L366.5,2637.91 L365.5,2638.88 L364.5,2639.26 L363.5,2640.6 L362.5,2640.97 L361.5,2641.34 L360.5,2641.7 L359.5,2647.12 L358.5,2647.47 L357.5,2647.8 L356.5,2648.14 L355.5,2648.46 L354.5,2648.77 L353.5,2648.92 L352.5,2649.22 L351.5,2646.43 L350.5,2646.7 L349.5,2646.97 L348.5,2647.22 L347.5,2647.46 L346.5,2647.7 L345.5,2647.67 L344.5,2647.88 L343.5,2648.1 L342.5,2648.3 L341.5,2648.5 L340.5,2646.88 L339.5,2647.06 L338.5,2647.24 L337.5,2647.42 L336.5,2647.6 L335.5,2647.77 L334.5,2647.03 L333.5,2647.2 L332.5,2647.36 L331.5,2647.53 L330.5,2647.7 L329.5,2647.87 L328.5,2647.52 L327.5,2651.81 L326.5,2651.99 L325.5,2652.17 L324.5,2653.4 L323.5,2653.59 L322.5,2653.78 L321.5,2653.99 L320.5,2654.19 L319.5,2654.4 L318.5,2654.61 L317.5,2653.75 L316.5,2653.97 L315.5,2654.19 L314.5,2653.98 L313.5,2657.63 L312.5,2657.85 L311.5,2658.08 L310.5,2658.3 L309.5,2658.52 L308.5,2658.74 L307.5,2658.96 L306.5,2653.02 L305.5,2656.67 L304.5,2656.88 L303.5,2658.97 L302.5,2659.17 L301.5,2659.36 L300.5,2659.55 L299.5,2659.74 L298.5,2659.92 L297.5,2658.41 L296.5,2658.57 L295.5,2656.62 L294.5,2656.77 L293.5,2656.91 L292.5,2657.05 L291.5,2655.24 L290.5,2655.36 L289.5,2655.29 L288.5,2655.4 L287.5,2656.2 L286.5,2656.31 L285.5,2656.41 L284.5,2656.5 L283.5,2656.89 L282.5,2656.98 L281.5,2657.29 L280.5,2657.37 L279.5,2657.44 L278.5,2660.03 L277.5,2660.09 L276.5,2660.15 L275.5,2660.2 L274.5,2660.25 L273.5,2660.29 L272.5,2660.33 L271.5,2659.73 L270.5,2659.76 L269.5,2659.78 L268.5,2659.8 L267.5,2659.81 L266.5,2659.82 L265.5,2659.4 L264.5,2659.17 L263.5,2659.16 L262.5,2659.15 L261.5,2659.23 L260.5,2659.33 L259.5,2659.34 L258.5,2659.31 L257.5,2659.27 L256.5,2659.22 L255.5,2659.17 L254.5,2659.34 L253.5,2659.38 L252.5,2659.31 L251.5,2659.24 L250.5,2659.17 L249.5,2659.08 L248.5,2659 L247.5,2658.5 L246.5,2658.4 L245.5,2658.3 L244.5,2657.47 L243.5,2662.59 L242.5,2662.48 L241.5,2662.35 L240.5,2662.23 L239.5,2662.1 L238.5,2661.96 L237.5,2661.83 L236.5,2657.4 L235.5,2656.05 L234.5,2655.9 L233.5,2655.74 L232.5,2656.63 L231.5,2656.47 L230.5,2656.3 L229.5,2656.12 L228.5,2655.94 L227.5,2655.76 L226.5,2658.91 L225.5,2658.71 L224.5,2658.51 L223.5,2658.31 L222.5,2658.11 L221.5,2657.89 L220.5,2657.68 L219.5,2655.36 L218.5,2655.13 L217.5,2655.52 L216.5,2655.29 L215.5,2655.05 L214.5,2654.8 L213.5,2654.56 L212.5,2654.3 L211.5,2654.04 L210.5,2650.65 L209.5,2650.85 L208.5,2651.09 L207.5,2650.81 L206.5,2650.53 L205.5,2650.46 L204.5,2650.16 L203.5,2649.86 L202.5,2649.56 L201.5,2649.25 L200.5,2648.94 L199.5,2648.61 L198.5,2648.81 L197.5,2648.48 L196.5,2648.15 L195.5,2647.82 L194.5,2647.48 L193.5,2647.14 L192.5,2645.63 L191.5,2646.4 L190.5,2646.04 L189.5,2645.68 L188.5,2645.32 L187.5,2644.95 L186.5,2644.58 L185.5,2644.2 L184.5,2643.28 L183.5,2642.89 L182.5,2642.49 L181.5,2642.09 L180.5,2641.68 L179.5,2641.26 L178.5,2640.83 L177.5,2640.4 L176.5,2639.97 L175.5,2639.52 L174.5,2639.07 L173.5,2638.61 L172.5,2638.14 L171.5,2637.18 L170.5,2636.7 L169.5,2636.22 L168.5,2635.72 L167.5,2635.2 L166.5,2634.36 L165.5,2633.8 L164.5,2633.21 L163.5,2634.4 L162.5,2633.78 L161.5,2633.15 L160.5,2632.51 L159.5,2631.85 L158.5,2631.18 L157.5,2626.2 L156.5,2626.72 L155.5,2626.02 L154.5,2625.98 L153.5,2625.55 L152.5,2624.85 L151.5,2624.14 L150.5,2623.44 L149.5,2622.74 L148.5,2622.04 L147.5,2621.36Z" fill="#0000ff"/>
<path d="M147.5,2764.46 L148.5,2765.12 L149.5,2765.8 L150.5,2766.5 L151.5,2767.21 L152.5,2767.94 L153.5,2768.81 L154.5,2769.56 L155.5,2770.87 L156.5,2771.63 L157.5,2772.4 L158.5,2770.82 L159.5,2771.58 L160.5,2772.33 L161.5,2773.07 L162.5,2773.81 L163.5,2774.53 L164.5,2775.23 L165.5,2777.05 L166.5,2777.71 L167.5,2778.89 L168.5,2779.5 L169.5,2780.08 L170.5,2781.76 L171.5,2782.24 L172.5,2782.71 L173.5,2783.85 L174.5,2784.39 L175.5,2784.8 L176.5,2785.19 L177.5,2785.56 L178.5,2785.92 L179.5,2785.43 L180.5,2785.75 L181.5,2786.07 L182.5,2786.37 L183.5,2786.67 L184.5,2786.95 L185.5,2787.23 L186.5,2788.65 L187.5,2788.91 L188.5,2787.59 L189.5,2787.85 L190.5,2788.09 L191.5,2788.34 L192.5,2788.59 L193.5,2788.83 L194.5,2789.97 L195.5,2790.22 L196.5,2787.24 L197.5,2787.49 L198.5,2787.74 L199.5,2788 L200.5,2788.26 L201.5,2786.48 L202.5,2786.75 L203.5,2787.03 L204.5,2787.3 L205.5,2787.57 L206.5,2787.85 L207.5,2793.29 L208.5,2793.56 L209.5,2794.66 L210.5,2790.89 L211.5,2791.15 L212.5,2791.41 L213.5,2791.68 L214.5,2791.94 L215.5,2792.19 L216.5,2792.45 L217.5,2794.33 L218.5,2794.58 L219.5,2794.83 L220.5,2795.07 L221.5,2795.32 L222.5,2795.55 L223.5,2791.96 L224.5,2792.19 L225.5,2792.42 L226.5,2792.64 L227.5,2792.86 L228.5,2793.07 L229.5,2794.37 L230.5,2794.58 L231.5,2794.78 L232.5,2794.97 L233.5,2795.17 L234.5,2795.36 L235.5,2795.54 L236.5,2797.87 L237.5,2798.04 L238.5,2798.21 L239.5,2799.6 L240.5,2797.7 L241.5,2797.86 L242.5,2798.01 L243.5,2798.17 L244.5,2798.32 L245.5,2798.47 L246.5,2798.62 L247.5,2799.06 L248.5,2799.21 L249.5,2799.34 L250.5,2798.51 L251.5,2798.64 L252.5,2798.77 L253.5,2798.9 L254.5,2798.64 L255.5,2798.77 L256.5,2798.89 L257.5,2799.01 L258.5,2799.13 L259.5,2798.22 L260.5,2798.34 L261.5,2798.45 L262.5,2798.57 L263.5,2798.68 L264.5,2798.79 L265.5,2804.35 L266.5,2804.45 L267.5,2804.56 L268.5,2803.16 L269.5,2803.26 L270.5,2803.35 L271.5,2803.45 L272.5,2803.54 L273.5,2803.63 L274.5,2804.63 L275.5,2804.49 L276.5,2800.02 L277.5,2800.1 L278.5,2800.18 L279.5,2800.26 L280.5,2800.33 L281.5,2800.4 L282.5,2804.33 L283.5,2803.96 L284.5,2804.02 L285.5,2804.09 L286.5,2804.15 L287.5,2803.67 L288.5,2803.69 L289.5,2803.75 L290.5,2803.8 L291.5,2803.85 L292.5,2803.9 L293.5,2803.04 L294.5,2803.08 L295.5,2803.13 L296.5,2803.16 L297.5,2803.2 L298.5,2803.24 L299.5,2803.61 L300.5,2803.64 L301.5,2803.67 L302.5,2803.69 L303.5,2804.06 L304.5,2804.08 L305.5,2804.1 L306.5,2804.12 L307.5,2804.24 L308.5,2804.26 L309.5,2804.27 L310.5,2804.28 L311.5,2804.29 L312.5,2804.3 L313.5,2805.37 L314.5,2806.17 L315.5,2806.17 L316.5,2803.71 L317.5,2803.71 L318.5,2803.71 L319.5,2803.72 L320.5,2803.72 L321.5,2803.72 L322.5,2804.83 L323.5,2804.83 L324.5,2804.83 L325.5,2804.82 L326.5,2804.82 L327.5,2804.82 L328.5,2804.81 L329.5,2806.15 L330.5,2803.03 L331.5,2803.03 L332.5,2803.02 L333.5,2803 L334.5,2802.99 L335.5,2802.98 L336.5,2806.8 L337.5,2806.81 L338.5,2806.8 L339.5,2806.77 L340.5,2806.07 L341.5,2806.04 L342.5,2806.02 L343.5,2805.99 L344.5,2805.96 L345.5,2805.92 L346.5,2805.7 L347.5,2805.66 L348.5,2803.15 L349.5,2803.11 L350.5,2803.06 L351.5,2803.01 L352.5,2802.96 L353.5,2802.91 L354.5,2806.06 L355.5,2805.97 L356.5,2804.76 L357.5,2804.71 L358.5,2804.66 L359.5,2801.99 L360.5,2801.94 L361.5,2801.88 L362.5,2801.83 L363.5,2801.77 L364.5,2801.71 L365.5,2802.76 L366.5,2802.69 L367.5,2803.18 L368.5,2799.5 L369.5,2799.42 L370.5,2799.34 L371.5,2799.25 L372.5,2799.15 L373.5,2799.05 L374.5,2802.1 L375.5,2801.36 L376.5,2801.24 L377.5,2801.11 L378.5,2800.97 L379.5,2800.83 L380.5,2800.68 L381.5,2800.29 L382.5,2800.12 L383.5,2799.94 L384.5,2799.75 L385.5,2799.56 L386.5,2799.35 L387.5,2799.74 L388.5,2799.52 L389.5,2799.29 L390.5,2799.06 L391.5,2798.82 L392.5,2799.02 L393.5,2798.78 L394.5,2798.52 L395.5,2800.11 L396.5,2799.85 L397.5,2799.5 L398.5,2799.23 L399.5,2798.96 L400.5,2796.91 L401.5,2796.64 L402.5,2796.36 L403.5,2796.08 L404.5,2795.8 L405.5,2795.52 L406.5,2796.58 L407.5,2796.3 L408.5,2796.35 L409.5,2796.07 L410.5,2794.95 L411.5,2794.67 L412.5,2794.4 L413.5,2794.13 L414.5,2793.86 L415.5,2793.59 L416.5,2793.31 L417.5,2793.22 L418.5,2792.95 L419.5,2792.68 L420.5,2792.4 L421.5,2792.13 L422.5,2791.85 L423.5,2790.51 L424.5,2790.23 L425.5,2789.95 L426.5,2789.66 L427.5,2789.37 L428.5,2789.08 L429.5,2786.46 L430.5,2786.15 L431.5,2785.85 L432.5,2785.54 L433.5,2785.22 L434.5,2784.89 L435.5,2784.57 L436.5,2787.43 L437.5,2787.09 L438.5,2786.74 L439.5,2786.38 L440.5,2786.02 L441.5,2785.64 L442.5,2785.26 L443.5,2785.49 L444.5,2784.57 L445.5,2784.18 L446.5,2783.78 L447.5,2783.38 L448.5,2782.97 L449.5,2782.55 L450.5,2782.75 L451.5,2782.33 L452.5,2781.9 L453.5,2781.97 L454.5,2781.54 L455.5,2780.07 L456.5,2779.62 L457.5,2779.16 L458.5,2778.7 L459.5,2776.32 L460.5,2775.85 L461.5,2775.38 L462.5,2774.9 L463.5,2774.41 L464.5,2773.92 L465.5,2771.52 L466.5,2771.02 L467.5,2770.51 L468.5,2770 L469.5,2769.48 L470.5,2768.96 L471.5,2769.19 L472.5,2768.66 L473.5,2772.15 L474.5,2771.6 L475.5,2771.04 L476.5,2768.93 L477.5,2768.35 L478.5,2767.77 L479.5,2767.19 L480.5,2766.59 L481.5,2765.99 L482.5,2766.27 L483.5,2765.65 L484.5,2765.01 L485.5,2764.38 L486.5,2764.05 L487.5,2764.45 L488.5,2763.78 L489.5,2763.11 L490.5,2761.26 L491.5,2760.56 L492.5,2759.86 L493.5,2759.14 L494.5,2758.24 L495.5,2757.51 L496.5,2756.76 L497.5,2754.54 L498.5,2753.82 L499.5,2753.09 L500.5,2750.85 L501.5,2750.11 L502.5,2749.36 L503.5,2748.59 L504.5,2747.81 L505.5,2747.01 L506.5,2747.7 L507.5,2746.85 L508.5,2745.97 L509.5,2745.07 L510.5,2744.13 L511.5,2743.64 L512.5,2742.63 L513.5,2740.68 L514.5,2739.59 L515.5,2738.45 L516.5,2737.26 L517.5,2736.02 L518.5,2730.51 L519.5,2729.07 L520.5,2727.56 L521.5,2725.99 L522.5,2724.37 L523.5,2722.7 L524.5,2728.92 L525.5,2723.15 L526.5,2721.35 L527.5,2719.52 L528.5,2717.66 L529.5,2715.77 L530.5,2713.85 L531.5,2711.92 L532.5,2714.33 L533.5,2712.33 L534.5,2708.56 L535.5,2706.2 L536.5,2699.28 L537.5,2696.85 L538.5,2694.39 L539.5,2691.92 L540.5,2689.44 L541.5,2686.98 L542.5,2684.53 L543.5,2686.16 L544.5,2683.62 L545.5,2681.28 L546.5,2678.54 L547.5,2676.07 L548.5,2673.57 L549.5,2668.63 L550.5,2664.98 L551.5,2662.42 L552.5,2659.84 L553.5,2657.24 L554.5,2654.61 L555.5,2651.96 L556.5,2652.17 L557.5,2649.46 L558.5,2646.56 L559.5,2643.6 L560.5,2642.01 L561.5,2639.06 L562.5,2635.96 L563.5,2633.11 L564.5,2630.32 L565.5,2627.61 L566.5,2623.77 L567.5,2621.27 L568.5,2618.9 L569.5,2613.41 L570.5,2610.95 L571.5,2608.38 L572.5,2605.88 L573.5,2603.47 L574.5,2601.16 L575.5,2598.98 L576.5,2601.1 L577.5,2600.08 L578.5,2598.36 L579.5,2596.39 L580.5,2595.07 L581.5,2593.96 L582.5,2592.88 L583.5,2591.8 L584.5,2590.82 L585.5,2589.96 L586.5,2590.08 L587.5,2587.7 L588.5,2587.15 L589.5,2586.69 L590.5,2586.33 L591.5,2586.06 L592.5,2585.87 L593.5,2585.66 L594.5,2585.59 L595.5,2584.23 L596.5,2584.26 L597.5,2584.34 L598.5,2584.47 L599.5,2584.66 L600.5,2584.9 L601.5,2587.14 L602.5,2587.53 L603.5,2586.37 L604.5,2586.96 L605.5,2587.67 L606.5,2588.46 L607.5,2589.41 L608.5,2590.7 L609.5,2592.3 L610.5,2595.96 L611.5,2596.07 L612.5,2598.49 L613.5,2601.13 L614.5,2603.96 L615.5,2606.95 L616.5,2610.08 L617.5,2614.92 L618.5,2617.96 L619.5,2620.62 L620.5,2623.51 L621.5,2627.07 L622.5,2628.92 L623.5,2632.39 L624.5,2636 L625.5,2639.72 L626.5,2643.52 L627.5,2647.38 L628.5,2652.72 L629.5,2658.82 L630.5,2662.69 L631.5,2665.78 L632.5,2667.24 L633.5,2670.56 L634.5,2673.69 L635.5,2676.65 L636.5,2679.44 L637.5,2682.09 L638.5,2686.09 L639.5,2689.02 L640.5,2691.3 L641.5,2693.47 L642.5,2694.93 L643.5,2696.68 L644.5,2698.65 L645.5,2693.67 L646.5,2695.62 L647.5,2697.55 L648.5,2699.47 L649.5,2701.35 L650.5,2703.21 L651.5,2705.04 L652.5,2710.86 L653.5,2712.19 L654.5,2713.9 L655.5,2715.57 L656.5,2717.19 L657.5,2718.76 L658.5,2720.27 L659.5,2724.25 L660.5,2726.7 L661.5,2727.98 L662.5,2729.19 L663.5,2729.13 L664.5,2729.07 L665.5,2730.09 L666.5,2730.27 L667.5,2731.17 L668.5,2732.01 L669.5,2732.8 L670.5,2733.53 L671.5,2734.22 L672.5,2734.85 L673.5,2738.2 L674.5,2738.74 L675.5,2739.24 L676.5,2739.69 L677.5,2740.11 L678.5,2740.49 L679.5,2740.89 L680.5,2741.2 L681.5,2741.48 L682.5,2741.74 L683.5,2741.97 L684.5,2738.5 L685.5,2738.68 L686.5,2738.86 L687.5,2739.01 L688.5,2739.15 L689.5,2739.29 L690.5,2742.86 L691.5,2739.63 L692.5,2739.74 L693.5,2739.85 L694.5,2739.96 L695.5,2740.08 L696.5,2740.19 L697.5,2742.58 L698.5,2742.68 L699.5,2742.77 L700.5,2742.85 L701.5,2742.93 L702.5,2744.23 L703.5,2744.29 L704.5,2744.35 L705.5,2744.41 L706.5,2744.46 L707.5,2744.5 L708.5,2744.54 L709.5,2745.84 L710.5,2745.88 L711.5,2743.12 L712.5,2742.82 L713.5,2742.85 L714.5,2742.87 L715.5,2742.9 L716.5,2742.93 L717.5,2742.3 L718.5,2742.32 L719.5,2742.35 L720.5,2742.38 L721.5,2742.42 L722.5,2742.45 L723.5,2742.49 L724.5,2743.21 L725.5,2743.25 L726.5,2743.3 L727.5,2743.35 L728.5,2743.07 L729.5,2743.11 L730.5,2743.14 L731.5,2743.17 L732.5,2743.2 L733.5,2743.23 L734.5,2743.25 L735.5,2745.48 L736.5,2745.51 L737.5,2745.53 L738.5,2745.56 L739.5,2745.58 L740.5,2745.61 L741.5,2746.45 L742.5,2746.48 L743.5,2746.52 L744.5,2744.48 L745.5,2744.53 L746.5,2744.57 L747.5,2744.14 L748.5,2744.2 L749.5,2744.26 L750.5,2744.33 L751.5,2744.41 L752.5,2744.5 L753.5,2744.59 L754.5,2745.01 L755.5,2745.12 L756.5,2745.14 L757.5,2745.27 L758.5,2743.39 L759.5,2743.53 L760.5,2743.67 L761.5,2743.82 L762.5,2743.97 L763.5,2744.12 L764.5,2744.28 L765.5,2748.43 L766.5,2747.01 L767.5,2747.19 L768.5,2747.37 L769.5,2747.56 L770.5,2747.75 L771.5,2747.94 L772.5,2748.14 L773.5,2749.07 L774.5,2752.1 L775.5,2751.93 L776.5,2752.15 L777.5,2751.19 L778.5,2751.42 L779.5,2748.85 L780.5,2749.09 L781.5,2749.33 L782.5,2749.58 L783.5,2749.83 L784.5,2750.09 L785.5,2750.36 L786.5,2751.19 L787.5,2751.46 L788.5,2751.74 L789.5,2752.03 L790.5,2754.91 L791.5,2755.21 L792.5,2755.53 L793.5,2755.85 L794.5,2756.82 L795.5,2756.62 L796.5,2754.7 L797.5,2755.05 L798.5,2755.4 L799.5,2755.76 L800.5,2756.12 L801.5,2756.48 L802.5,2758.89 L803.5,2756.6 L804.5,2756.97 L805.5,2757.34 L806.5,2756.77 L807.5,2757.14 L808.5,2756.93 L809.5,2757.3 L810.5,2757.68 L811.5,2758.05 L812.5,2758.42 L813.5,2758.79 L814.5,2763.03 L815.5,2763.4 L816.5,2763.76 L817.5,2764.11 L818.5,2764.46 L819.5,2764.81 L820.5,2764.28 L821.5,2764.63 L822.5,2764.98 L823.5,2765.33 L824.5,2765.68 L825.5,2766.03 L826.5,2767.15 L827.5,2767.5 L828.5,2767.85 L829.5,2768.2 L830.5,2765.74 L831.5,2766.09 L832.5,2766.44 L833.5,2766.79 L834.5,2767.14 L835.5,2767.49 L836.5,2767.84 L837.5,2770.9 L838.5,2771.25 L839.5,2771.6 L840.5,2772.33 L841.5,2773.32 L842.5,2773.67 L843.5,2774.06 L844.5,2774.41 L845.5,2772.3 L846.5,2772.65 L847.5,2772.06 L848.5,2772.41 L849.5,2772.76 L850.5,2773.11 L851.5,2773.47 L852.5,2773.82 L853.5,2774.18 L854.5,2775.53 L855.5,2775.88 L856.5,2776.24 L857.5,2776.6 L858.5,2777.42 L859.5,2777.78 L860.5,2778.14 L861.5,2778.66 L862.5,2779.02 L863.5,2781.61 L864.5,2780.05 L865.5,2780.41 L866.5,2780.76 L867.5,2781.11 L868.5,2781.46 L869.5,2781.81 L870.5,2782.72 L871.5,2783.06 L872.5,2781.51 L873.5,2781.85 L874.5,2782.18 L875.5,2782.52 L876.5,2782.85 L877.5,2783.18 L878.5,2782.05 L879.5,2782.36 L880.5,2782.67 L881.5,2782.97 L882.5,2783.27 L883.5,2783.55 L884.5,2783.83 L885.5,2786.67 L886.5,2786.94 L887.5,2787.21 L888.5,2787.47 L889.5,2788.08 L890.5,2788.35 L891.5,2786.42 L892.5,2786.69 L893.5,2786.95 L894.5,2787.22 L895.5,2787.49 L896.5,2787.76 L897.5,2789.77 L898.5,2790.05 L899.5,2790.59 L900.5,2790.88 L901.5,2793.09 L902.5,2793.4 L903.5,2793.73 L904.5,2794.06 L905.5,2794.4 L906.5,2794.76 L907.5,2786.38 L908.5,2786.72 L909.5,2787.1 L910.5,2787.55 L911.5,2788.05 L912.5,2788.6 L913.5,2789.19 L914.5,2796.72 L915.5,2793.53 L916.5,2794.21 L917.5,2794.9 L918.5,2795.59 L919.5,2796.29 L920.5,2796.97 L921.5,2799.6 L922.5,2802.43 L923.5,2800.69 L924.5,2801.19 L925.5,2801.69 L926.5,2802.19 L927.5,2802.7 L928.5,2803.2 L929.5,2803.7 L930.5,2804.89 L931.5,2805.59 L932.5,2806.09 L933.5,2808.13 L934.5,2807.05 L935.5,2807.54 L936.5,2808.03 L937.5,2808.52 L938.5,2808.99 L939.5,2809.47 L940.5,2810.75 L941.5,2811.21 L942.5,2811.67 L943.5,2812.11 L944.5,2812.55 L945.5,2809.49 L946.5,2809.91 L947.5,2810.32 L948.5,2810.72 L949.5,2811.11 L950.5,2811.49 L951.5,2811.86 L952.5,2812.46 L953.5,2812.8 L954.5,2813.13 L955.5,2813.45 L956.5,2818.87 L957.5,2818.92 L958.5,2816.7 L959.5,2817 L960.5,2817.28 L961.5,2817.56 L962.5,2817.82 L963.5,2818.08 L964.5,2818.34 L965.5,2819.38 L966.5,2819.61 L967.5,2820.58 L968.5,2820.6 L969.5,2820.8 L970.5,2815.03 L971.5,2815.22 L972.5,2815.4 L973.5,2815.57 L974.5,2815.72 L975.5,2815.87 L976.5,2816.01 L977.5,2816.37 L978.5,2816.49 L979.5,2820.73 L980.5,2822.1 L981.5,2822.18 L982.5,2822.25 L983.5,2822.41 L984.5,2822.45 L985.5,2822.49 L986.5,2822.51 L987.5,2822.53 L988.5,2822.53 L989.5,2819.87 L990.5,2819.85 L991.5,2819.82 L992.5,2819.78 L993.5,2819.74 L994.5,2819.68 L995.5,2819.61 L996.5,2820.97 L997.5,2820.88 L998.5,2820.78 L999.5,2820.67 L1000.5,2820.55 L1001.5,2820.42 L1002.5,2820.28 L1003.5,2821.54 L1004.5,2821.09 L1005.5,2820.91 L1006.5,2820.73 L1007.5,2820.54 L1008.5,2820.34 L1009.5,2820.12 L1010.5,2819.9 L1011.5,2820.2 L1012.5,2819.96 L1013.5,2820.04 L1014.5,2817.65 L1015.5,2817.37 L1016.5,2814.88 L1017.5,2814.58 L1018.5,2814.27 L1019.5,2813.94 L1020.5,2813.59 L1021.5,2813.23 L1022.5,2812.85 L1023.5,2816.65 L1024.5,2815.13 L1025.5,2814.69 L1026.5,2811.35 L1027.5,2810.87 L1028.5,2810.36 L1029.5,2809.84 L1030.5,2809.29 L1031.5,2808.71 L1032.5,2808.11 L1033.5,2809.16 L1034.5,2808.5 L1035.5,2807.81 L1036.5,2807.1 L1037.5,2806.35 L1038.5,2805.5 L1039.5,2805.47 L1040.5,2804.5 L1041.5,2803.49 L1042.5,2802.45 L1043.5,2801.37 L1044.5,2800.28 L1045.5,2799.96 L1046.5,2798.61 L1047.5,2791.4 L1048.5,2790.28 L1049.5,2789.15 L1050.5,2788.04 L1051.5,2786.95 L1052.5,2785.87 L1053.5,2791.17 L1054.5,2790.14 L1055.5,2789.19 L1056.5,2788.24 L1057.5,2785.73 L1058.5,2784.87 L1059.5,2783.92 L1060.5,2782.88 L1061.5,2781.82 L1062.5,2780.76 L1063.5,2781.24 L1064.5,2780.19 L1065.5,2779.16 L1066.5,2778.15 L1067.5,2777.17 L1068.5,2777.33 L1069.5,2776.42 L1070.5,2774.95 L1071.5,2774.13 L1072.5,2773.36 L1073.5,2772.65 L1074.5,2771.69 L1075.5,2771.1 L1076.5,2768.22 L1077.5,2767.77 L1078.5,2767.4 L1079.5,2767.1 L1080.5,2766.86 L1081.5,2766.68 L1082.5,2767.66 L1083.5,2767.58 L1084.5,2767.55 L1085.5,2767.73 L1086.5,2767.8 L1087.5,2767.91 L1088.5,2767.49 L1089.5,2766.39 L1090.5,2766.65 L1091.5,2766.95 L1092.5,2767.29 L1093.5,2767.68 L1094.5,2768.11 L1095.5,2768.57 L1096.5,2772.54 L1097.5,2773.07 L1098.5,2773.51 L1099.5,2773.84 L1100.5,2774.34 L1101.5,2775.1 L1102.5,2775.4 L1103.5,2776.41 L1104.5,2774.72 L1105.5,2775.99 L1106.5,2777.35 L1107.5,2778.76 L1108.5,2780.21 L1109.5,2781.67 L1110.5,2783.09 L1111.5,2785.77 L1112.5,2786.87 L1113.5,2787.72 L1114.5,2788.49 L1115.5,2789.2 L1116.5,2791.79 L1117.5,2792.4 L1118.5,2792.96 L1119.5,2792.36 L1120.5,2792.85 L1121.5,2791.04 L1122.5,2791.48 L1123.5,2791.91 L1124.5,2792.32 L1125.5,2792.73 L1126.5,2793.14 L1127.5,2792.31 L1128.5,2792.72 L1129.5,2793.15 L1130.5,2793.6 L1131.5,2794.1 L1132.5,2794.6 L1133.5,2799.61 L1134.5,2800.12 L1135.5,2800.54 L1136.5,2801.05 L1137.5,2798.61 L1138.5,2799.13 L1139.5,2799.65 L1140.5,2800.16 L1141.5,2800.67 L1142.5,2801.19 L1143.5,2801.69 L1144.5,2802.38 L1145.5,2802.89 L1146.5,2803.38 L1147.5,2803.87 L1148.5,2804.35 L1149.5,2804.81 L1150.5,2806.78 L1151.5,2807.85 L1152.5,2809.22 L1153.5,2809.71 L1154.5,2810.2 L1155.5,2810.68 L1156.5,2811.18 L1157.5,2811.72 L1158.5,2812.24 L1159.5,2812.3 L1160.5,2812.43 L1161.5,2809.21 L1162.5,2809.7 L1163.5,2810.17 L1164.5,2810.65 L1165.5,2811.11 L1166.5,2811.57 L1167.5,2812.02 L1168.5,2816.49 L1169.5,2816.92 L1170.5,2817.34 L1171.5,2817.74 L1172.5,2818.13 L1173.5,2818.5 L1174.5,2820.21 L1175.5,2818.73 L1176.5,2818.98 L1177.5,2819.28 L1178.5,2819.56 L1179.5,2819.84 L1180.5,2820.1 L1181.5,2820.34 L1182.5,2821.91 L1183.5,2822.44 L1184.5,2822.65 L1185.5,2822.86 L1186.5,2823.14 L1187.5,2823.33 L1188.5,2821.28 L1189.5,2821.44 L1190.5,2821.61 L1191.5,2820.68 L1192.5,2820.83 L1193.5,2820.98 L1194.5,2821.12 L1195.5,2821.26 L1196.5,2821.4 L1197.5,2823.7 L1198.5,2823.84 L1199.5,2823.97 L1200.5,2824.2 L1201.5,2824.34 L1202.5,2825.23 L1203.5,2825.37 L1204.5,2826.62 L1205.5,2826.76 L1206.5,2826.91 L1207.5,2827.06 L1208.5,2827.2 L1209.5,2824.7 L1210.5,2824.84 L1211.5,2824.97 L1212.5,2825.1 L1213.5,2825.23 L1214.5,2825.36 L1215.5,2825.81 L1216.5,2825.93 L1217.5,2826.05 L1218.5,2826.17 L1219.5,2826.29 L1220.5,2826.4 L1221.5,2826.52 L1222.5,2825.08 L1223.5,2825.19 L1224.5,2825.3 L1225.5,2825.41 L1226.5,2823.53 L1227.5,2823.64 L1228.5,2823.74 L1229.5,2823.85 L1230.5,2823.96 L1231.5,2824.07 L1232.5,2824.17 L1233.5,2826.21 L1234.5,2826.32 L1235.5,2824.22 L1236.5,2824.33 L1237.5,2824.44 L1238.5,2824.55 L1239.5,2824.66 L1240.5,2824.77 L1241.5,2829.57 L1242.5,2829.68 L1243.5,2829.79 L1244.5,2829.9 L1245.5,2830.01 L1246.5,2830.13 L1247.5,2830.53 L1248.5,2830.64 L1249.5,2830.75 L1250.5,2830.86 L1251.5,2829.26 L1252.5,2829.36 L1253.5,2829.47 L1254.5,2826.39 L1255.5,2826.5 L1256.5,2826.6 L1257.5,2826.7 L1258.5,2826.79 L1259.5,2826.89 L1260.5,2826.98 L1261.5,2829.66 L1262.5,2829.38 L1263.5,2829.46 L1264.5,2829.55 L1265.5,2829.63 L1266.5,2829.71 L1267.5,2829.78 L1268.5,2829.86 L1269.5,2831.54 L1270.5,2831.61 L1271.5,2831.69 L1272.5,2831.76 L1273.5,2831.83 L1274.5,2831.9 L1275.5,2832.48 L1276.5,2832.55 L1277.5,2832.61 L1278.5,2832.68 L1279.5,2834.81 L1280.5,2832.32 L1281.5,2832.38 L1282.5,2832.44 L1283.5,2832.49 L1284.5,2832.54 L1285.5,2832.59 L1286.5,2832.63 L1287.5,2832.77 L1288.5,2834.11 L1289.5,2828.99 L1290.5,2829.02 L1291.5,2829.04 L1292.5,2829.07 L1293.5,2829.08 L1294.5,2829.1 L1295.5,2832.68 L1296.5,2833.56 L1297.5,2833.56 L1298.5,2832.29 L1299.5,2832.28 L1300.5,2832.25 L1301.5,2832.22 L1302.5,2832.18 L1303.5,2832.14 L1304.5,2832.09 L1305.5,2832.26 L1306.5,2832.2 L1307.5,2832.14 L1308.5,2832.08 L1309.5,2832.02 L1310.5,2832.79 L1311.5,2827.67 L1312.5,2827.6 L1313.5,2827.53 L1314.5,2827.46 L1315.5,2827.4 L1316.5,2827.33 L1317.5,2827.26 L1318.5,2828.96 L1319.5,2828.89 L1320.5,2828.84 L1321.5,2828.78 L1322.5,2828.73 L1323.5,2828.69 L1324.5,2828.64 L1325.5,2830.96 L1326.5,2830.93 L1327.5,2830.91 L1328.5,2830.88 L1329.5,2830.45 L1330.5,2830.42 L1331.5,2828.45 L1332.5,2828.43 L1333.5,2828.4 L1334.5,2828.38 L1335.5,2828.36 L1336.5,2828.35 L1337.5,2828.33 L1338.5,2830.31 L1339.5,2830.07 L1340.5,2829.7 L1341.5,2829.7 L1342.5,2829.69 L1343.5,2829.69 L1344.5,2829.68 L1345.5,2829.69 L1346.5,2829.91 L1347.5,2829.92 L1348.5,2829.93 L1349.5,2829.95 L1350.5,2829.96 L1351.5,2829.99 L1352.5,2826.67 L1353.5,2826.7 L1354.5,2826.74 L1355.5,2826.77 L1356.5,2826.82 L1357.5,2826.86 L1358.5,2828.93 L1359.5,2828.98 L1360.5,2829.05 L1361.5,2829.12 L1362.5,2829.19 L1363.5,2831.37 L1364.5,2831.45 L1365.5,2831.54 L1366.5,2829.49 L1367.5,2829.58 L1368.5,2829.68 L1369.5,2829.79 L1370.5,2829.89 L1371.5,2830 L1372.5,2833.03 L1373.5,2833.14 L1374.5,2833.26 L1375.5,2833.37 L1376.5,2833.49 L1377.5,2833.6 L1378.5,2833.83 L1379.5,2833.95 L1380.5,2834.7 L1381.5,2834.81 L1382.5,2834.92 L1383.5,2833.63 L1384.5,2833.74 L1385.5,2833.56 L1386.5,2832.74 L1387.5,2828.72 L1388.5,2828.81 L1389.5,2828.91 L1390.5,2829.01 L1391.5,2829.1 L1392.5,2829.2 L1393.5,2829.29 L1394.5,2834.6 L1395.5,2834.69 L1396.5,2831.98 L1397.5,2832.07 L1398.5,2832.16 L1399.5,2832.25 L1400.5,2832.34 L1401.5,2832.43 L1402.5,2832.52 L1403.5,2835.3 L1404.5,2835.39 L1405.5,2835.49 L1406.5,2835.58 L1407.5,2835.68 L1408.5,2836.4 L1409.5,2836.5 L1410.5,2836.41 L1411.5,2836.52 L1412.5,2836.62 L1413.5,2836.73 L1414.5,2836.84 L1415.5,2836 L1416.5,2836.11 L1417.5,2836.24 L1418.5,2836.36 L1419.5,2836.49 L1420.5,2836.62 L1421.5,2836.76 L1422.5,2838.52 L1423.5,2838.66 L1424.5,2837.63 L1425.5,2837.78 L1426.5,2837.93 L1427.5,2838.08 L1428.5,2838.24 L1429.5,2835.96 L1430.5,2836.12 L1431.5,2836.28 L1432.5,2835.63 L1433.5,2835.79 L1434.5,2835.95 L1435.5,2836.12 L1436.5,2836.28 L1437.5,2836.44 L1438.5,2836.6 L1439.5,2837.2 L1440.5,2837.36 L1441.5,2837.52 L1442.5,2837.67 L1443.5,2837.83 L1444.5,2840.26 L1445.5,2840.41 L1446.5,2840.56 L1447.5,2840.9 L1448.5,2841.05 L1449.5,2839.08 L1450.5,2839.22 L1451.5,2839.37 L1452.5,2839.51 L1453.5,2839.65 L1454.5,2839.79 L1455.5,2843.38 L1456.5,2838.47 L1457.5,2838.61 L1458.5,2838.75 L1459.5,2838.89 L1460.5,2839.02 L1461.5,2839.16 L1462.5,2839.3 L1463.5,2841.53 L1464.5,2843.88 L1465.5,2844.01 L1466.5,2844.14 L1467.5,2843.62 L1468.5,2843.75 L1469.5,2843.87 L1470.5,2844 L1471.5,2844.12 L1472.5,2844.24 L1473.5,2844.02 L1474.5,2844.13 L1475.5,2844.24 L1476.5,2844.35 L1477.5,2844.45 L1478.5,2844.55 L1479.5,2844.9 L1480.5,2845 L1481.5,2845.09 L1482.5,2845.18 L1483.5,2845.28 L1484.5,2845.39 L1485.5,2845.48 L1486.5,2845.56 L1487.5,2845.65 L1488.5,2845.73 L1489.5,2845.81 L1490.5,2846.8 L1491.5,2846.88 L1492.5,2846.95 L1493.5,2847.03 L1494.5,2846.08 L1495.5,2846.15 L1496.5,2846.21 L1497.5,2846.28 L1498.5,2846.34 L1499.5,2846.4 L1500.5,2846.45 L1501.5,2846.87 L1502.5,2847.66 L1503.5,2847.71 L1504.5,2847.75 L1505.5,2847.8 L1506.5,2849.86 L1507.5,2849.9 L1508.5,2849.02 L1509.5,2849.05 L1510.5,2848.64 L1511.5,2848.67 L1512.5,2848.66 L1513.5,2848.62 L1514.5,2848.4 L1515.5,2848.41 L1516.5,2846.19 L1517.5,2846.19 L1518.5,2846.19 L1519.5,2846.19 L1520.5,2846.19 L1521.5,2846.19 L1522.5,2847.91 L1523.5,2847.9 L1524.5,2847.9 L1525.5,2846.02 L1526.5,2846.01 L1527.5,2846 L1528.5,2845.99 L1529.5,2845.98 L1530.5,2845.97 L1531.5,2849.04 L1532.5,2849.1 L1533.5,2849.09 L1534.5,2845.72 L1535.5,2845.71 L1536.5,2845.7 L1537.5,2845.7 L1538.5,2845.7 L1539.5,2845.69 L1540.5,2845.7 L1541.5,2847.37 L1542.5,2848.2 L1543.5,2848.21 L1544.5,2848.21 L1545.5,2848.18 L1546.5,2848.19 L1547.5,2848.2 L1548.5,2848.21 L1549.5,2847.67 L1550.5,2847.68 L1551.5,2847.69 L1552.5,2847.71 L1553.5,2845.06 L1554.5,2845.07 L1555.5,2845.08 L1556.5,2845.1 L1557.5,2845.11 L1558.5,2845.12 L1559.5,2845.12 L1560.5,2848.95 L1561.5,2844.78 L1562.5,2844.78 L1563.5,2844.79 L1564.5,2844.79 L1565.5,2844.79 L1566.5,2844.78 L1567.5,2844.78 L1568.5,2848.31 L1569.5,2848.3 L1570.5,2848.29 L1571.5,2848.27 L1572.5,2848.26 L1573.5,2848.62 L1574.5,2848.59 L1575.5,2846.7 L1576.5,2846.67 L1577.5,2846.63 L1578.5,2846.59 L1579.5,2846.55 L1580.5,2846.5 L1581.5,2846.44 L1582.5,2846.29 L1583.5,2846.2 L1584.5,2846.11 L1585.5,2846.01 L1586.5,2845.9 L1587.5,2845.79 L1588.5,2845.66 L1589.5,2846.3 L1590.5,2846.17 L1591.5,2847.3 L1592.5,2847.17 L1593.5,2847.03 L1594.5,2846.89 L1595.5,2846.75 L1596.5,2846.61 L1597.5,2846.92 L1598.5,2846.67 L1599.5,2846.54 L1600.5,2846.41 L1601.5,2846.28 L1602.5,2846.16 L1603.5,2846.05 L1604.5,2845.95 L1605.5,2845.39 L1606.5,2845.3 L1607.5,2845.22 L1608.5,2845.15 L1609.5,2845.09 L1610.5,2843.52 L1611.5,2842.42 L1612.5,2842.39 L1613.5,2842.38 L1614.5,2842.38 L1615.5,2842.39 L1616.5,2842.41 L1617.5,2842.85 L1618.5,2842.89 L1619.5,2842.93 L1620.5,2842.7 L1621.5,2842.76 L1622.5,2842.82 L1623.5,2842.89 L1624.5,2842.96 L1625.5,2843.04 L1626.5,2847.04 L1627.5,2842.73 L1628.5,2842.83 L1629.5,2842.93 L1630.5,2843.04 L1631.5,2843.15 L1632.5,2843.27 L1633.5,2847.14 L1634.5,2847.26 L1635.5,2847.39 L1636.5,2845.62 L1637.5,2845.75 L1638.5,2845.26 L1639.5,2845.4 L1640.5,2845.54 L1641.5,2845.68 L1642.5,2845.83 L1643.5,2844.12 L1644.5,2844.27 L1645.5,2844.42 L1646.5,2844.57 L1647.5,2844.72 L1648.5,2844.87 L1649.5,2845.6 L1650.5,2845.76 L1651.5,2845.92 L1652.5,2846.09 L1653.5,2846.27 L1654.5,2847.62 L1655.5,2847.8 L1656.5,2847.99 L1657.5,2848.18 L1658.5,2849.4 L1659.5,2849.6 L1660.5,2849.8 L1661.5,2849.36 L1662.5,2849.57 L1663.5,2847.98 L1664.5,2848.19 L1665.5,2848.4 L1666.5,2848.62 L1667.5,2848.83 L1668.5,2849.05 L1669.5,2852.46 L1670.5,2852.67 L1671.5,2852.89 L1672.5,2851.55 L1673.5,2851.77 L1674.5,2851.98 L1675.5,2852.2 L1676.5,2852.41 L1677.5,2852.63 L1678.5,2852.84 L1679.5,2853.12 L1680.5,2854.4 L1681.5,2854.6 L1682.5,2854.67 L1683.5,2854.87 L1684.5,2855.08 L1685.5,2855.28 L1686.5,2855.49 L1687.5,2855.7 L1688.5,2855.92 L1689.5,2857.04 L1690.5,2857.26 L1691.5,2857.47 L1692.5,2857.69 L1693.5,2858.95 L1694.5,2858.48 L1695.5,2858.41 L1696.5,2858.62 L1697.5,2858.84 L1698.5,2859.06 L1699.5,2859.27 L1700.5,2859.48 L1701.5,2860.04 L1702.5,2860.25 L1703.5,2860.16 L1704.5,2860.37 L1705.5,2860.57 L1706.5,2860.77 L1707.5,2860.96 L1708.5,2861.15 L1709.5,2859.64 L1710.5,2859.82 L1711.5,2860 L1712.5,2860.17 L1713.5,2860.34 L1714.5,2860.51 L1715.5,2861.08 L1716.5,2861.23 L1717.5,2862.61 L1718.5,2862.53 L1719.5,2862.66 L1720.5,2862.21 L1721.5,2861.08 L1722.5,2861.2 L1723.5,2861.32 L1724.5,2861.43 L1725.5,2861.54 L1726.5,2861.64 L1727.5,2862.08 L1728.5,2862.18 L1729.5,2862.27 L1730.5,2862.37 L1731.5,2862.46 L1732.5,2862.55 L1733.5,2864.25 L1734.5,2866.05 L1735.5,2866.14 L1736.5,2865.52 L1737.5,2865.6 L1738.5,2865.6 L1739.5,2865.68 L1740.5,2864.66 L1741.5,2864.19 L1742.5,2864.27 L1743.5,2864.36 L1744.5,2864.45 L1745.5,2864.54 L1746.5,2864.63 L1747.5,2864.12 L1748.5,2864.21 L1749.5,2864.31 L1750.5,2864.41 L1751.5,2864.51 L1752.5,2864.61 L1753.5,2864.71 L1754.5,2865.27 L1755.5,2866.57 L1756.5,2865.31 L1757.5,2864.91 L1758.5,2865.01 L1759.5,2865.11 L1760.5,2865.21 L1761.5,2865.31 L1762.5,2865.41 L1763.5,2865.26 L1764.5,2865.36 L1765.5,2865.46 L1766.5,2865.56 L1767.5,2865.66 L1768.5,2865.76 L1769.5,2867.8 L1770.5,2866.78 L1771.5,2866.88 L1772.5,2866.98 L1773.5,2867.08 L1774.5,2867.18 L1775.5,2867.28 L1776.5,2867.78 L1777.5,2867.88 L1778.5,2867.98 L1779.5,2868.08 L1780.5,2868.28 L1781.5,2868.38 L1782.5,2868.48 L1783.5,2868.58 L1784.5,2868.68 L1785.5,2867.41 L1786.5,2867.51 L1787.5,2867.61 L1788.5,2867.71 L1789.5,2867.81 L1790.5,2867.91 L1791.5,2871.09 L1792.5,2868.48 L1793.5,2868.58 L1794.5,2868.68 L1795.5,2868.79 L1796.5,2868.89 L1797.5,2868.99 L1798.5,2869.68 L1799.5,2869.78 L1800.5,2869.88 L1801.5,2871.47 L1802.5,2872.03 L1803.5,2872.13 L1804.5,2872.23 L1805.5,2871.95 L1806.5,2872.05 L1807.5,2872.15 L1808.5,2872.25 L1809.5,2872.35 L1810.5,2872.45 L1811.5,2870.6 L1812.5,2870.7 L1813.5,2870.8 L1814.5,2870.9 L1815.5,2869.86 L1816.5,2869.96 L1817.5,2870.06 L1818.5,2870.16 L1819.5,2870.26 L1820.5,2870.36 L1821.5,2870.59 L1822.5,2872.56 L1823.5,2872.66 L1824.5,2872.77 L1825.5,2872.87 L1826.5,2872.98 L1827.5,2874.03 L1828.5,2874.14 L1829.5,2875.27 L1830.5,2873.92 L1831.5,2874.02 L1832.5,2874.13 L1833.5,2874.23 L1834.5,2874.33 L1835.5,2874.44 L1836.5,2874.54 L1837.5,2874.71 L1838.5,2874.98 L1839.5,2875.08 L1840.5,2874.76 L1841.5,2874.86 L1842.5,2874.95 L1843.5,2874.8 L1844.5,2874.9 L1845.5,2874.98 L1846.5,2873.63 L1847.5,2873.72 L1848.5,2873.8 L1849.5,2873.88 L1850.5,2873.96 L1851.5,2874.03 L1852.5,2874.13 L1853.5,2874.2 L1854.5,2874.27 L1855.5,2874.33 L1856.5,2874.51 L1857.5,2874.57 L1858.5,2874.63 L1859.5,2874.82 L1860.5,2874.87 L1861.5,2874.16 L1862.5,2874.21 L1863.5,2874.26 L1864.5,2874.31 L1865.5,2874.36 L1866.5,2874.4 L1867.5,2877.5 L1868.5,2875.72 L1869.5,2875.77 L1870.5,2875.81 L1871.5,2875.85 L1872.5,2875.9 L1873.5,2875.94 L1874.5,2876.72 L1875.5,2876.77 L1876.5,2876.44 L1877.5,2876.48 L1878.5,2876.52 L1879.5,2876.57 L1880.5,2876.61 L1881.5,2876.66 L1882.5,2876.7 L1883.5,2878.35 L1884.5,2875.14 L1885.5,2875.19 L1886.5,2875.24 L1887.5,2875.3 L1888.5,2875.35 L1889.5,2875.41 L1890.5,2876.37 L1891.5,2876.43 L1892.5,2876.49 L1893.5,2876.55 L1894.5,2877.22 L1895.5,2877.28 L1896.5,2877.21 L1897.5,2877.27 L1898.5,2876.43 L1899.5,2876.49 L1900.5,2876.02 L1901.5,2876.08 L1902.5,2876.14 L1903.5,2876.19 L1904.5,2876.25 L1905.5,2876.31 L1906.5,2876.36 L1907.5,2878.31 L1908.5,2878.36 L1909.5,2878.84 L1910.5,2878.89 L1911.5,2878.93 L1912.5,2878.53 L1913.5,2878.56 L1914.5,2878.6 L1915.5,2878.63 L1916.5,2878.66 L1917.5,2878.68 L1918.5,2878.7 L1919.5,2878.9 L1920.5,2877.15 L1921.5,2877.16 L1922.5,2876.3 L1923.5,2875.27 L1924.5,2875.28 L1925.5,2875.29 L1926.5,2875.3 L1927.5,2875.31 L1928.5,2875.32 L1929.5,2879.11 L1930.5,2878.76 L1931.5,2878.77 L1932.5,2878.78 L1933.5,2877.64 L1934.5,2877.65 L1935.5,2877.65 L1936.5,2877.66 L1937.5,2877.66 L1938.5,2877.67 L1939.5,2877.67 L1940.5,2878.3 L1941.5,2878.3 L1942.5,2878.3 L1943.5,2878.3 L1944.5,2878.3 L1945.5,2878.61 L1946.5,2880.25 L1947.5,2880.24 L1948.5,2878.36 L1949.5,2878.36 L1950.5,2878.36 L1951.5,2878.36 L1952.5,2877.55 L1953.5,2877.54 L1954.5,2877.54 L1955.5,2877.54 L1956.5,2877.53 L1957.5,2877.53 L1958.5,2879.77 L1959.5,2879.76 L1960.5,2879.76 L1961.5,2880.17 L1962.5,2880.17 L1963.5,2877.98 L1964.5,2877.97 L1965.5,2877.97 L1966.5,2877.96 L1967.5,2877.95 L1968.5,2877.95 L1969.5,2878.58 L1970.5,2879.17 L1971.5,2879.16 L1972.5,2879.16 L1973.5,2879.15 L1974.5,2876.68 L1975.5,2876.67 L1976.5,2876.66 L1977.5,2876.66 L1978.5,2876.65 L1979.5,2876.65 L1980.5,2876.64 L1981.5,2878.33 L1982.5,2878.32 L1983.5,2879.55 L1984.5,2879.55 L1985.5,2875.26 L1986.5,2875.26 L1987.5,2875.25 L1988.5,2875.25 L1989.5,2875.24 L1990.5,2875.23 L1991.5,2879.38 L1992.5,2877.98 L1993.5,2877.97 L1994.5,2877.96 L1995.5,2877.95 L1996.5,2877.93 L1997.5,2877.92 L1998.5,2877.91 L1999.5,2877.7 L2000.5,2877.69 L2001.5,2877.68 L2002.5,2877.66 L2003.5,2877.65 L2004.5,2877.63 L2005.5,2878.22 L2006.5,2878.21 L2007.5,2878.19 L2008.5,2878.18 L2009.5,2878.16 L2010.5,2878.68 L2011.5,2877.66 L2012.5,2877.64 L2013.5,2877.63 L2014.5,2877.61 L2015.5,2877.59 L2016.5,2877.58 L2017.5,2876 L2018.5,2875.98 L2019.5,2875.97 L2020.5,2875.95 L2021.5,2875.94 L2022.5,2875.92 L2023.5,2879.87 L2024.5,2876.26 L2025.5,2876.24 L2026.5,2876.23 L2027.5,2876.22 L2028.5,2876.21 L2029.5,2876.19 L2030.5,2876.18 L2031.5,2879.25 L2032.5,2878.55 L2033.5,2878.54 L2034.5,2877.18 L2035.5,2877.17 L2036.5,2877.16 L2037.5,2877.16 L2038.5,2876.18 L2039.5,2876.18 L2040.5,2876.17 L2041.5,2876.17 L2042.5,2876.17 L2043.5,2876.16 L2044.5,2876.16 L2045.5,2877.04 L2046.5,2877.05 L2047.5,2877.05 L2048.5,2877.05 L2049.5,2877.06 L2050.5,2877.06 L2051.5,2877.75 L2052.5,2877.76 L2053.5,2880.48 L2054.5,2877.87 L2055.5,2877.88 L2056.5,2877.89 L2057.5,2877.9 L2058.5,2877.92 L2059.5,2877.94 L2060.5,2878.49 L2061.5,2878.51 L2062.5,2878.53 L2063.5,2878.66 L2064.5,2878.68 L2065.5,2878.7 L2066.5,2878.72 L2067.5,2877.51 L2068.5,2877.54 L2069.5,2877.56 L2070.5,2877.59 L2071.5,2877.61 L2072.5,2877.64 L2073.5,2877.66 L2074.5,2879.52 L2075.5,2879.54 L2076.5,2879.57 L2077.5,2880.83 L2078.5,2879.83 L2079.5,2879.86 L2080.5,2879.89 L2081.5,2879.82 L2082.5,2877.61 L2083.5,2877.64 L2084.5,2877.68 L2085.5,2877.71 L2086.5,2877.74 L2087.5,2877.78 L2088.5,2878.94 L2089.5,2880.61 L2090.5,2880.64 L2091.5,2880.49 L2092.5,2876.79 L2093.5,2876.82 L2094.5,2876.86 L2095.5,2876.89 L2096.5,2876.93 L2097.5,2876.96 L2098.5,2878.26 L2099.5,2878.51 L2100.5,2878.55 L2101.5,2878.58 L2102.5,2878.62 L2103.5,2878.66 L2104.5,2878.69 L2105.5,2878.73 L2106.5,2879.2 L2107.5,2879.24 L2108.5,2879.28 L2109.5,2879.31 L2110.5,2879.35 L2111.5,2879.38 L2112.5,2880.53 L2113.5,2880.57 L2114.5,2880.69 L2115.5,2880.73 L2116.5,2879.79 L2117.5,2879.82 L2118.5,2877.96 L2119.5,2878 L2120.5,2878.03 L2121.5,2878.07 L2122.5,2878.1 L2123.5,2878.13 L2124.5,2878.17 L2125.5,2879.88 L2126.5,2879.92 L2127.5,2879.95 L2128.5,2879.98 L2128.5,2901.09 L2127.5,2901.06 L2126.5,2901.02 L2125.5,2900.99 L2124.5,2900.96 L2123.5,2899.38 L2122.5,2899.34 L2121.5,2899.31 L2120.5,2899.27 L2119.5,2899.24 L2118.5,2899.2 L2117.5,2896.45 L2116.5,2897.05 L2115.5,2897.02 L2114.5,2899.07 L2113.5,2899.04 L2112.5,2899 L2111.5,2899.52 L2110.5,2899.49 L2109.5,2899.45 L2108.5,2899.41 L2107.5,2899.38 L2106.5,2899.34 L2105.5,2899.3 L2104.5,2897.26 L2103.5,2897.22 L2102.5,2897.18 L2101.5,2897.15 L2100.5,2897.11 L2099.5,2897.07 L2098.5,2897.04 L2097.5,2898.09 L2096.5,2898.72 L2095.5,2898.68 L2094.5,2898.65 L2093.5,2898.61 L2092.5,2898.58 L2091.5,2898.54 L2090.5,2898.51 L2089.5,2897.77 L2088.5,2899.21 L2087.5,2899.18 L2086.5,2899.14 L2085.5,2899.11 L2084.5,2899.08 L2083.5,2899.05 L2082.5,2898.94 L2081.5,2898.91 L2080.5,2898.02 L2079.5,2898.34 L2078.5,2898.31 L2077.5,2898.28 L2076.5,2898.25 L2075.5,2898.22 L2074.5,2898.19 L2073.5,2898.16 L2072.5,2896.92 L2071.5,2896.9 L2070.5,2896.87 L2069.5,2896.85 L2068.5,2896.82 L2067.5,2895.88 L2066.5,2895.86 L2065.5,2895.84 L2064.5,2895.82 L2063.5,2895.8 L2062.5,2895.78 L2061.5,2895.27 L2060.5,2895.33 L2059.5,2895.33 L2058.5,2895.85 L2057.5,2896.09 L2056.5,2896.09 L2055.5,2896.32 L2054.5,2896.89 L2053.5,2896.88 L2052.5,2897.55 L2051.5,2897.54 L2050.5,2897.53 L2049.5,2897.52 L2048.5,2897.52 L2047.5,2897.51 L2046.5,2897.51 L2045.5,2897.45 L2044.5,2895.85 L2043.5,2895.85 L2042.5,2898.22 L2041.5,2898.22 L2040.5,2898.23 L2039.5,2898.23 L2038.5,2898.24 L2037.5,2898.24 L2036.5,2898.25 L2035.5,2896.18 L2034.5,2897.31 L2033.5,2897.32 L2032.5,2897.33 L2031.5,2897.34 L2030.5,2898 L2029.5,2898.01 L2028.5,2898.03 L2027.5,2898.04 L2026.5,2898.05 L2025.5,2898.06 L2024.5,2897.75 L2023.5,2897.76 L2022.5,2897.78 L2021.5,2896.87 L2020.5,2896.89 L2019.5,2896.41 L2018.5,2898.21 L2017.5,2898.23 L2016.5,2898.24 L2015.5,2898.26 L2014.5,2898.27 L2013.5,2898.29 L2012.5,2895.51 L2011.5,2898.65 L2010.5,2898.66 L2009.5,2898.68 L2008.5,2898.69 L2007.5,2898.71 L2006.5,2899.16 L2005.5,2899.17 L2004.5,2899.19 L2003.5,2899.2 L2002.5,2899.22 L2001.5,2899.23 L2000.5,2897.57 L1999.5,2898.22 L1998.5,2898.44 L1997.5,2898.45 L1996.5,2898.46 L1995.5,2898.47 L1994.5,2898.48 L1993.5,2898.49 L1992.5,2896.15 L1991.5,2896.16 L1990.5,2896.17 L1989.5,2900.32 L1988.5,2900.33 L1987.5,2900.34 L1986.5,2900.34 L1985.5,2900.34 L1984.5,2900.35 L1983.5,2900.35 L1982.5,2899.11 L1981.5,2899.12 L1980.5,2897.88 L1979.5,2897.89 L1978.5,2897.89 L1977.5,2895.5 L1976.5,2898.92 L1975.5,2898.92 L1974.5,2898.93 L1973.5,2898.94 L1972.5,2898.94 L1971.5,2898.95 L1970.5,2898.95 L1969.5,2898.8 L1968.5,2900.4 L1967.5,2900.4 L1966.5,2900.41 L1965.5,2900.41 L1964.5,2900.42 L1963.5,2900.42 L1962.5,2900.43 L1961.5,2899.09 L1960.5,2899.1 L1959.5,2899.1 L1958.5,2899.11 L1957.5,2899.11 L1956.5,2899.12 L1955.5,2898.6 L1954.5,2898.56 L1953.5,2898.56 L1952.5,2898.56 L1951.5,2897.09 L1950.5,2897.09 L1949.5,2897.14 L1948.5,2899.27 L1947.5,2899.28 L1946.5,2899.28 L1945.5,2900.03 L1944.5,2900.03 L1943.5,2900.03 L1942.5,2900.03 L1941.5,2900.02 L1940.5,2900.02 L1939.5,2900.46 L1938.5,2900.46 L1937.5,2900.46 L1936.5,2900.45 L1935.5,2900.45 L1934.5,2900.44 L1933.5,2897.65 L1932.5,2897.64 L1931.5,2897.63 L1930.5,2897.63 L1929.5,2897.62 L1928.5,2897.61 L1927.5,2897.19 L1926.5,2897.18 L1925.5,2897.17 L1924.5,2897.16 L1923.5,2897.15 L1922.5,2897.13 L1921.5,2896.5 L1920.5,2899.1 L1919.5,2899.08 L1918.5,2899.07 L1917.5,2899.05 L1916.5,2899.02 L1915.5,2898.99 L1914.5,2898.96 L1913.5,2897.23 L1912.5,2896.64 L1911.5,2897.19 L1910.5,2897.15 L1909.5,2897.11 L1908.5,2897.06 L1907.5,2897.01 L1906.5,2896.96 L1905.5,2897.4 L1904.5,2897.35 L1903.5,2897.29 L1902.5,2897.23 L1901.5,2897.18 L1900.5,2897.63 L1899.5,2899.16 L1898.5,2899.1 L1897.5,2899.04 L1896.5,2898.98 L1895.5,2898.92 L1894.5,2898.86 L1893.5,2898.8 L1892.5,2898.13 L1891.5,2899.26 L1890.5,2899.2 L1889.5,2899.14 L1888.5,2899.09 L1887.5,2899.03 L1886.5,2898.98 L1885.5,2898.92 L1884.5,2896.36 L1883.5,2896.32 L1882.5,2896.27 L1881.5,2896.22 L1880.5,2896.19 L1879.5,2897.56 L1878.5,2897.51 L1877.5,2897.47 L1876.5,2897.43 L1875.5,2897.39 L1874.5,2897.34 L1873.5,2897.3 L1872.5,2896.3 L1871.5,2896.26 L1870.5,2896.22 L1869.5,2896.17 L1868.5,2896.13 L1867.5,2896.08 L1866.5,2895.12 L1865.5,2895.07 L1864.5,2896.41 L1863.5,2896.36 L1862.5,2896.31 L1861.5,2896.26 L1860.5,2896.21 L1859.5,2896.16 L1858.5,2895.56 L1857.5,2895.5 L1856.5,2895.44 L1855.5,2895.38 L1854.5,2893.77 L1853.5,2893.7 L1852.5,2894.09 L1851.5,2894.02 L1850.5,2893.95 L1849.5,2893.87 L1848.5,2893.79 L1847.5,2893.71 L1846.5,2893.63 L1845.5,2892.13 L1844.5,2892.04 L1843.5,2891.95 L1842.5,2892.16 L1841.5,2892.07 L1840.5,2891.97 L1839.5,2891.87 L1838.5,2891.78 L1837.5,2891.68 L1836.5,2891.47 L1835.5,2891.37 L1834.5,2891.26 L1833.5,2893.28 L1832.5,2893.17 L1831.5,2893.07 L1830.5,2892.96 L1829.5,2892.86 L1828.5,2892.75 L1827.5,2893.7 L1826.5,2893.6 L1825.5,2893.49 L1824.5,2893.39 L1823.5,2893.28 L1822.5,2893.18 L1821.5,2890.56 L1820.5,2890.46 L1819.5,2889.89 L1818.5,2889.94 L1817.5,2890.19 L1816.5,2890.1 L1815.5,2890 L1814.5,2889.9 L1813.5,2891.17 L1812.5,2891.33 L1811.5,2891.23 L1810.5,2891.13 L1809.5,2891.03 L1808.5,2890.93 L1807.5,2890.83 L1806.5,2890.95 L1805.5,2890.85 L1804.5,2890.75 L1803.5,2890.65 L1802.5,2890.55 L1801.5,2890.45 L1800.5,2890.35 L1799.5,2888.19 L1798.5,2888.09 L1797.5,2887.99 L1796.5,2889.12 L1795.5,2889.02 L1794.5,2888.92 L1793.5,2890.52 L1792.5,2890.42 L1791.5,2890.32 L1790.5,2890.22 L1789.5,2890.12 L1788.5,2890.02 L1787.5,2888.54 L1786.5,2891.87 L1785.5,2891.77 L1784.5,2891.67 L1783.5,2891.56 L1782.5,2891.46 L1781.5,2891.36 L1780.5,2891.26 L1779.5,2885.08 L1778.5,2885.51 L1777.5,2887.94 L1776.5,2887.84 L1775.5,2887.74 L1774.5,2887.64 L1773.5,2887.54 L1772.5,2887.44 L1771.5,2887.34 L1770.5,2886.07 L1769.5,2885.37 L1768.5,2884.8 L1767.5,2884.7 L1766.5,2884.6 L1765.5,2884.5 L1764.5,2883.74 L1763.5,2883.39 L1762.5,2883.25 L1761.5,2887.03 L1760.5,2886.93 L1759.5,2886.83 L1758.5,2886.73 L1757.5,2886.63 L1756.5,2886.53 L1755.5,2886.43 L1754.5,2885.7 L1753.5,2886.56 L1752.5,2886.46 L1751.5,2886.36 L1750.5,2886.26 L1749.5,2886.16 L1748.5,2886.06 L1747.5,2883.37 L1746.5,2883.28 L1745.5,2883.18 L1744.5,2883.09 L1743.5,2882.25 L1742.5,2882.45 L1741.5,2885.18 L1740.5,2885.1 L1739.5,2885.01 L1738.5,2884.93 L1737.5,2884.85 L1736.5,2884.76 L1735.5,2883.83 L1734.5,2883.14 L1733.5,2883.05 L1732.5,2882.96 L1731.5,2882.88 L1730.5,2882.79 L1729.5,2882.69 L1728.5,2881.68 L1727.5,2881.58 L1726.5,2883.53 L1725.5,2883.43 L1724.5,2883.33 L1723.5,2883.22 L1722.5,2883.11 L1721.5,2882.99 L1720.5,2882.87 L1719.5,2881.39 L1718.5,2881.26 L1717.5,2881.12 L1716.5,2880.98 L1715.5,2879.69 L1714.5,2879.54 L1713.5,2879.39 L1712.5,2880.18 L1711.5,2881.63 L1710.5,2881.45 L1709.5,2881.28 L1708.5,2881.1 L1707.5,2880.91 L1706.5,2880.72 L1705.5,2880.86 L1704.5,2880.67 L1703.5,2880.69 L1702.5,2880.49 L1701.5,2880.28 L1700.5,2880.07 L1699.5,2879.87 L1698.5,2879.65 L1697.5,2877.71 L1696.5,2877.5 L1695.5,2877.28 L1694.5,2877.07 L1693.5,2876.71 L1692.5,2876.5 L1691.5,2876.28 L1690.5,2876.06 L1689.5,2875.84 L1688.5,2876.06 L1687.5,2875.84 L1686.5,2875.63 L1685.5,2875.42 L1684.5,2875.21 L1683.5,2875 L1682.5,2873.01 L1681.5,2872.8 L1680.5,2872.6 L1679.5,2873.78 L1678.5,2873.58 L1677.5,2873.37 L1676.5,2874.15 L1675.5,2873.94 L1674.5,2873.73 L1673.5,2873.51 L1672.5,2873.3 L1671.5,2873.08 L1670.5,2872.86 L1669.5,2872.42 L1668.5,2872.2 L1667.5,2871.98 L1666.5,2871.77 L1665.5,2871.55 L1664.5,2871.34 L1663.5,2869.25 L1662.5,2869.04 L1661.5,2868.83 L1660.5,2868.62 L1659.5,2867.06 L1658.5,2866.68 L1657.5,2866.48 L1656.5,2867.14 L1655.5,2867.97 L1654.5,2867.78 L1653.5,2867.6 L1652.5,2867.42 L1651.5,2867.24 L1650.5,2867.07 L1649.5,2867.53 L1648.5,2867.37 L1647.5,2867.22 L1646.5,2867.07 L1645.5,2866.92 L1644.5,2866.77 L1643.5,2866.96 L1642.5,2866.81 L1641.5,2866.66 L1640.5,2866.52 L1639.5,2870.49 L1638.5,2870.35 L1637.5,2870.21 L1636.5,2870.07 L1635.5,2869.94 L1634.5,2869.81 L1633.5,2864.27 L1632.5,2866.44 L1631.5,2866.32 L1630.5,2866.21 L1629.5,2866.09 L1628.5,2865.99 L1627.5,2865.89 L1626.5,2865.79 L1625.5,2864.12 L1624.5,2865.82 L1623.5,2865.74 L1622.5,2866.07 L1621.5,2866.01 L1620.5,2865.95 L1619.5,2866.05 L1618.5,2866.01 L1617.5,2865.97 L1616.5,2865.94 L1615.5,2865.93 L1614.5,2865.92 L1613.5,2865.92 L1612.5,2863.35 L1611.5,2863.38 L1610.5,2863.42 L1609.5,2863.48 L1608.5,2863.54 L1607.5,2863.62 L1606.5,2863.51 L1605.5,2863.51 L1604.5,2863.62 L1603.5,2863.82 L1602.5,2863.94 L1601.5,2864.06 L1600.5,2865.02 L1599.5,2865.15 L1598.5,2865.28 L1597.5,2865.42 L1596.5,2865.56 L1595.5,2865.7 L1594.5,2864.3 L1593.5,2864.44 L1592.5,2864.58 L1591.5,2867.33 L1590.5,2867.46 L1589.5,2867.59 L1588.5,2867.71 L1587.5,2867.83 L1586.5,2867.94 L1585.5,2868.04 L1584.5,2868.12 L1583.5,2868.21 L1582.5,2868.28 L1581.5,2868.35 L1580.5,2868.41 L1579.5,2866.63 L1578.5,2866.67 L1577.5,2866.71 L1576.5,2866.79 L1575.5,2866.82 L1574.5,2866.85 L1573.5,2867.91 L1572.5,2867.93 L1571.5,2867.94 L1570.5,2867.96 L1569.5,2867.97 L1568.5,2867.98 L1567.5,2867.98 L1566.5,2867.53 L1565.5,2867.53 L1564.5,2867.53 L1563.5,2867.53 L1562.5,2865 L1561.5,2864.99 L1560.5,2865.93 L1559.5,2865.93 L1558.5,2865.92 L1557.5,2865.91 L1556.5,2868.67 L1555.5,2868.66 L1554.5,2868.65 L1553.5,2868.64 L1552.5,2868.62 L1551.5,2869.75 L1550.5,2869.74 L1549.5,2869.72 L1548.5,2869.71 L1547.5,2869.7 L1546.5,2869.69 L1545.5,2867.95 L1544.5,2867.94 L1543.5,2867.13 L1542.5,2867.12 L1541.5,2867.12 L1540.5,2867.12 L1539.5,2867.12 L1538.5,2867.12 L1537.5,2866.02 L1536.5,2866.03 L1535.5,2866.03 L1534.5,2866.04 L1533.5,2867.21 L1532.5,2867.22 L1531.5,2868.33 L1530.5,2869.96 L1529.5,2869.97 L1528.5,2869.98 L1527.5,2869.99 L1526.5,2870 L1525.5,2870.01 L1524.5,2870.02 L1523.5,2867.47 L1522.5,2867.48 L1521.5,2867.49 L1520.5,2867.49 L1519.5,2865.41 L1518.5,2865.44 L1517.5,2865.43 L1516.5,2865.43 L1515.5,2867.44 L1514.5,2867.43 L1513.5,2867.41 L1512.5,2867.4 L1511.5,2867.38 L1510.5,2867.35 L1509.5,2867.32 L1508.5,2867.22 L1507.5,2867.19 L1506.5,2867.16 L1505.5,2867.12 L1504.5,2867.07 L1503.5,2867.8 L1502.5,2867.75 L1501.5,2867.7 L1500.5,2869.72 L1499.5,2869.67 L1498.5,2869.61 L1497.5,2869.55 L1496.5,2869.49 L1495.5,2869.42 L1494.5,2867.93 L1493.5,2867.86 L1492.5,2867.79 L1491.5,2867.72 L1490.5,2867.12 L1489.5,2866.85 L1488.5,2866.77 L1487.5,2868.27 L1486.5,2868.19 L1485.5,2868.11 L1484.5,2868.02 L1483.5,2867.93 L1482.5,2867.84 L1481.5,2866.2 L1480.5,2863.94 L1479.5,2866.02 L1478.5,2865.92 L1477.5,2865.82 L1476.5,2865.72 L1475.5,2865.61 L1474.5,2865.5 L1473.5,2864.43 L1472.5,2865.58 L1471.5,2865.47 L1470.5,2865.35 L1469.5,2865.23 L1468.5,2865.1 L1467.5,2864.98 L1466.5,2864.85 L1465.5,2863.15 L1464.5,2863.86 L1463.5,2863.73 L1462.5,2863.6 L1461.5,2863.46 L1460.5,2863.33 L1459.5,2864.3 L1458.5,2864.16 L1457.5,2864.02 L1456.5,2863.88 L1455.5,2863.74 L1454.5,2863.6 L1453.5,2862.17 L1452.5,2862.03 L1451.5,2861.89 L1450.5,2862.52 L1449.5,2862.38 L1448.5,2862.24 L1447.5,2862.1 L1446.5,2861.96 L1445.5,2861.81 L1444.5,2863.09 L1443.5,2862.94 L1442.5,2862.79 L1441.5,2862.63 L1440.5,2862.48 L1439.5,2862.32 L1438.5,2861.65 L1437.5,2860.95 L1436.5,2860.79 L1435.5,2860.63 L1434.5,2860.47 L1433.5,2860.3 L1432.5,2860.14 L1431.5,2860.1 L1430.5,2859.94 L1429.5,2859.78 L1428.5,2859.62 L1427.5,2859.46 L1426.5,2859.31 L1425.5,2859.15 L1424.5,2858.7 L1423.5,2858.55 L1422.5,2858.81 L1421.5,2858.66 L1420.5,2858.53 L1419.5,2858.95 L1418.5,2858.81 L1417.5,2860.49 L1416.5,2860.36 L1415.5,2860.24 L1414.5,2860.12 L1413.5,2860.01 L1412.5,2859.9 L1411.5,2857.72 L1410.5,2857.62 L1409.5,2857.51 L1408.5,2856.42 L1407.5,2856.32 L1406.5,2856.22 L1405.5,2856.12 L1404.5,2856.03 L1403.5,2854.07 L1402.5,2853.78 L1401.5,2853.69 L1400.5,2853.53 L1399.5,2853.39 L1398.5,2853.3 L1397.5,2855.59 L1396.5,2855.5 L1395.5,2855.41 L1394.5,2855.32 L1393.5,2855.23 L1392.5,2855.14 L1391.5,2853.52 L1390.5,2852.65 L1389.5,2852.23 L1388.5,2852.13 L1387.5,2853.43 L1386.5,2853.33 L1385.5,2853.86 L1384.5,2853.75 L1383.5,2853.65 L1382.5,2853.54 L1381.5,2853.42 L1380.5,2853.31 L1379.5,2853.2 L1378.5,2854.71 L1377.5,2854.59 L1376.5,2854.48 L1375.5,2854.36 L1374.5,2854.25 L1373.5,2854.13 L1372.5,2854.19 L1371.5,2854.08 L1370.5,2853.97 L1369.5,2853.86 L1368.5,2853.75 L1367.5,2853.65 L1366.5,2851.71 L1365.5,2851.61 L1364.5,2849.85 L1363.5,2849.45 L1362.5,2849.37 L1361.5,2849.29 L1360.5,2850.7 L1359.5,2850.63 L1358.5,2850.57 L1357.5,2850.52 L1356.5,2851.2 L1355.5,2851.16 L1354.5,2853.28 L1353.5,2853.25 L1352.5,2853.22 L1351.5,2853.19 L1350.5,2853.17 L1349.5,2853.15 L1348.5,2853.28 L1347.5,2853.27 L1346.5,2853.26 L1345.5,2853.26 L1344.5,2853.26 L1343.5,2853.26 L1342.5,2853.18 L1341.5,2853.19 L1340.5,2853.2 L1339.5,2853.21 L1338.5,2853.22 L1337.5,2853.24 L1336.5,2852.27 L1335.5,2853.13 L1334.5,2853.15 L1333.5,2853.17 L1332.5,2853.2 L1331.5,2853.22 L1330.5,2853.24 L1329.5,2850.01 L1328.5,2850.04 L1327.5,2850.92 L1326.5,2850.94 L1325.5,2850.98 L1324.5,2851.01 L1323.5,2851.06 L1322.5,2851.11 L1321.5,2851.03 L1320.5,2851.09 L1319.5,2851.15 L1318.5,2851.21 L1317.5,2851.27 L1316.5,2851.34 L1315.5,2852.96 L1314.5,2853.03 L1313.5,2853.1 L1312.5,2853.16 L1311.5,2853.23 L1310.5,2853.3 L1309.5,2853.36 L1308.5,2851.13 L1307.5,2851.2 L1306.5,2851.25 L1305.5,2851.31 L1304.5,2850.98 L1303.5,2853.59 L1302.5,2853.63 L1301.5,2853.67 L1300.5,2853.7 L1299.5,2853.72 L1298.5,2853.74 L1297.5,2855.1 L1296.5,2855.11 L1295.5,2855.1 L1294.5,2855.09 L1293.5,2855.08 L1292.5,2855.07 L1291.5,2851.71 L1290.5,2853.16 L1289.5,2853.13 L1288.5,2853.1 L1287.5,2853.06 L1286.5,2853.02 L1285.5,2852.98 L1284.5,2850.97 L1283.5,2850.92 L1282.5,2850.87 L1281.5,2854.96 L1280.5,2854.9 L1279.5,2854.84 L1278.5,2854.78 L1277.5,2854.72 L1276.5,2854.65 L1275.5,2851.46 L1274.5,2853.39 L1273.5,2854.19 L1272.5,2854.12 L1271.5,2854.05 L1270.5,2853.98 L1269.5,2853.9 L1268.5,2853.83 L1267.5,2853.75 L1266.5,2850.64 L1265.5,2851.51 L1264.5,2851.43 L1263.5,2851.34 L1262.5,2854.34 L1261.5,2854.25 L1260.5,2854.16 L1259.5,2854.07 L1258.5,2853.98 L1257.5,2853.88 L1256.5,2853.78 L1255.5,2850.75 L1254.5,2850.49 L1253.5,2851.96 L1252.5,2851.85 L1251.5,2851.75 L1250.5,2851.64 L1249.5,2851.53 L1248.5,2851.43 L1247.5,2851.35 L1246.5,2851.24 L1245.5,2851.13 L1244.5,2851.02 L1243.5,2850.91 L1242.5,2850.8 L1241.5,2849.69 L1240.5,2849.58 L1239.5,2849.47 L1238.5,2849.36 L1237.5,2849.25 L1236.5,2846.39 L1235.5,2846.28 L1234.5,2848.92 L1233.5,2848.81 L1232.5,2848.71 L1231.5,2848.6 L1230.5,2848.49 L1229.5,2848.38 L1228.5,2848.27 L1227.5,2847.51 L1226.5,2849.38 L1225.5,2850.33 L1224.5,2850.22 L1223.5,2850.11 L1222.5,2850 L1221.5,2849.89 L1220.5,2849.77 L1219.5,2849.66 L1218.5,2845.91 L1217.5,2845.79 L1216.5,2845.67 L1215.5,2842.03 L1214.5,2844.9 L1213.5,2846.02 L1212.5,2845.9 L1211.5,2845.77 L1210.5,2845.64 L1209.5,2845.5 L1208.5,2845.36 L1207.5,2845.22 L1206.5,2844.41 L1205.5,2845.85 L1204.5,2847.45 L1203.5,2847.3 L1202.5,2847.16 L1201.5,2847.02 L1200.5,2846.89 L1199.5,2846.75 L1198.5,2846 L1197.5,2845.87 L1196.5,2845.73 L1195.5,2845.6 L1194.5,2845.46 L1193.5,2845.32 L1192.5,2845.18 L1191.5,2842.25 L1190.5,2842.1 L1189.5,2841.94 L1188.5,2841.78 L1187.5,2841.62 L1186.5,2841.23 L1185.5,2840.1 L1184.5,2843 L1183.5,2842.8 L1182.5,2842.59 L1181.5,2842.38 L1180.5,2842.15 L1179.5,2841.92 L1178.5,2841.45 L1177.5,2841.19 L1176.5,2840.92 L1175.5,2840.64 L1174.5,2839.74 L1173.5,2839.43 L1172.5,2839.1 L1171.5,2839.33 L1170.5,2838.97 L1169.5,2838.6 L1168.5,2838.21 L1167.5,2837.81 L1166.5,2837.39 L1165.5,2834.9 L1164.5,2836.25 L1163.5,2835.8 L1162.5,2835.35 L1161.5,2834.89 L1160.5,2834.42 L1159.5,2833.95 L1158.5,2833.47 L1157.5,2832.69 L1156.5,2830.08 L1155.5,2829.59 L1154.5,2829.09 L1153.5,2829.37 L1152.5,2829.32 L1151.5,2828.83 L1150.5,2828.34 L1149.5,2827.86 L1148.5,2827.38 L1147.5,2826.92 L1146.5,2826.91 L1145.5,2826.43 L1144.5,2825.95 L1143.5,2825.47 L1142.5,2827.47 L1141.5,2826.97 L1140.5,2826.47 L1139.5,2825.96 L1138.5,2825.46 L1137.5,2824.94 L1136.5,2821.83 L1135.5,2821.31 L1134.5,2820.8 L1133.5,2820.28 L1132.5,2817.52 L1131.5,2817.01 L1130.5,2815.6 L1129.5,2818.56 L1128.5,2818.05 L1127.5,2817.57 L1126.5,2817.12 L1125.5,2816.86 L1124.5,2816.44 L1123.5,2816.31 L1122.5,2815.91 L1121.5,2817.81 L1120.5,2817.4 L1119.5,2816.98 L1118.5,2816.55 L1117.5,2816.1 L1116.5,2815.63 L1115.5,2815.14 L1114.5,2810.53 L1113.5,2809.98 L1112.5,2809.4 L1111.5,2808.92 L1110.5,2808.39 L1109.5,2807.68 L1108.5,2806.64 L1107.5,2805.61 L1106.5,2804.44 L1105.5,2803.15 L1104.5,2801.79 L1103.5,2800.36 L1102.5,2799.25 L1101.5,2799.79 L1100.5,2798.38 L1099.5,2797.06 L1098.5,2795.88 L1097.5,2795.1 L1096.5,2794.47 L1095.5,2793.86 L1094.5,2791.55 L1093.5,2790.99 L1092.5,2790.47 L1091.5,2791.43 L1090.5,2791 L1089.5,2790.61 L1088.5,2790.28 L1087.5,2792.27 L1086.5,2792.08 L1085.5,2791.96 L1084.5,2791.92 L1083.5,2791.98 L1082.5,2792.13 L1081.5,2790.08 L1080.5,2790.45 L1079.5,2790.93 L1078.5,2791.51 L1077.5,2792.19 L1076.5,2792.94 L1075.5,2793.76 L1074.5,2793.19 L1073.5,2794.11 L1072.5,2794.71 L1071.5,2795.71 L1070.5,2796.74 L1069.5,2797.95 L1068.5,2799.66 L1067.5,2800.72 L1066.5,2801.78 L1065.5,2804.77 L1064.5,2805.8 L1063.5,2806.82 L1062.5,2807.81 L1061.5,2808.77 L1060.5,2809.7 L1059.5,2810.58 L1058.5,2811.43 L1057.5,2812.07 L1056.5,2813.17 L1055.5,2817.69 L1054.5,2818.81 L1053.5,2819.94 L1052.5,2821.06 L1051.5,2822.19 L1050.5,2823.3 L1049.5,2823.58 L1048.5,2824.66 L1047.5,2825.71 L1046.5,2826.73 L1045.5,2827.71 L1044.5,2828.66 L1043.5,2829.57 L1042.5,2828.24 L1041.5,2829.05 L1040.5,2829.8 L1039.5,2830.49 L1038.5,2831.13 L1037.5,2831.03 L1036.5,2831.64 L1035.5,2832.24 L1034.5,2832.81 L1033.5,2832.64 L1032.5,2833.16 L1031.5,2833.67 L1030.5,2834.16 L1029.5,2834.62 L1028.5,2835.07 L1027.5,2833.77 L1026.5,2837.2 L1025.5,2837.81 L1024.5,2838.19 L1023.5,2838.55 L1022.5,2838.9 L1021.5,2839.24 L1020.5,2839.56 L1019.5,2837.85 L1018.5,2838.06 L1017.5,2837.87 L1016.5,2839.38 L1015.5,2839.65 L1014.5,2839.9 L1013.5,2840.14 L1012.5,2840.38 L1011.5,2840.6 L1010.5,2840.82 L1009.5,2840.26 L1008.5,2840.46 L1007.5,2839.01 L1006.5,2841.21 L1005.5,2841.37 L1004.5,2841.53 L1003.5,2845.51 L1002.5,2845.65 L1001.5,2845.78 L1000.5,2845.9 L999.5,2846.01 L998.5,2846.11 L997.5,2846.2 L996.5,2842 L995.5,2842.07 L994.5,2842.14 L993.5,2843.83 L992.5,2843.87 L991.5,2843.91 L990.5,2843.93 L989.5,2843.95 L988.5,2843.95 L987.5,2844.03 L986.5,2844.01 L985.5,2843.99 L984.5,2843.96 L983.5,2843.92 L982.5,2843.87 L981.5,2843.58 L980.5,2844.82 L979.5,2844.74 L978.5,2844.64 L977.5,2844.54 L976.5,2844.42 L975.5,2844.3 L974.5,2844.03 L973.5,2839.3 L972.5,2839.15 L971.5,2838.98 L970.5,2838.53 L969.5,2838.35 L968.5,2838.03 L967.5,2840.74 L966.5,2840.53 L965.5,2840.31 L964.5,2840.09 L963.5,2839.85 L962.5,2839.61 L961.5,2839.36 L960.5,2837.38 L959.5,2837.12 L958.5,2838.72 L957.5,2838.44 L956.5,2838.15 L955.5,2837.86 L954.5,2840.04 L953.5,2839.73 L952.5,2839.41 L951.5,2839.09 L950.5,2838.76 L949.5,2838.42 L948.5,2838.06 L947.5,2836.71 L946.5,2833.9 L945.5,2833.51 L944.5,2833.11 L943.5,2832.7 L942.5,2830.97 L941.5,2830.54 L940.5,2831.09 L939.5,2830.65 L938.5,2830.2 L937.5,2829.74 L936.5,2829.28 L935.5,2828.81 L934.5,2828.01 L933.5,2827.53 L932.5,2827.05 L931.5,2826.87 L930.5,2826.38 L929.5,2825.88 L928.5,2825.38 L927.5,2824.88 L926.5,2824.54 L925.5,2824.59 L924.5,2824.09 L923.5,2823.58 L922.5,2823.1 L921.5,2822.66 L920.5,2824.7 L919.5,2824.8 L918.5,2824.21 L917.5,2823.59 L916.5,2822.94 L915.5,2822.26 L914.5,2821.57 L913.5,2819.62 L912.5,2818.93 L911.5,2818.24 L910.5,2817.58 L909.5,2816.95 L908.5,2813.96 L907.5,2813.43 L906.5,2813.01 L905.5,2812.61 L904.5,2812.23 L903.5,2811.86 L902.5,2810.15 L901.5,2809.81 L900.5,2809.48 L899.5,2810.06 L898.5,2809.75 L897.5,2809.45 L896.5,2809.15 L895.5,2808.87 L894.5,2808.59 L893.5,2808.31 L892.5,2808 L891.5,2809.61 L890.5,2809.35 L889.5,2809.08 L888.5,2812.42 L887.5,2812.15 L886.5,2811.89 L885.5,2811.63 L884.5,2811.36 L883.5,2811.09 L882.5,2810.81 L881.5,2804.19 L880.5,2804.49 L879.5,2804.2 L878.5,2803.9 L877.5,2804.08 L876.5,2805.09 L875.5,2804.76 L874.5,2804.44 L873.5,2804.11 L872.5,2803.77 L871.5,2803.44 L870.5,2803.89 L869.5,2803.55 L868.5,2803.2 L867.5,2802.86 L866.5,2802.51 L865.5,2802.16 L864.5,2800.38 L863.5,2800.03 L862.5,2799.67 L861.5,2799.32 L860.5,2797.42 L859.5,2798.37 L858.5,2800.02 L857.5,2799.66 L856.5,2799.3 L855.5,2798.95 L854.5,2798.59 L853.5,2798.23 L852.5,2797.87 L851.5,2797.19 L850.5,2796.83 L849.5,2795.05 L848.5,2794.69 L847.5,2794.34 L846.5,2793.99 L845.5,2793.64 L844.5,2793.29 L843.5,2792.94 L842.5,2791.48 L841.5,2794.13 L840.5,2793.78 L839.5,2793.43 L838.5,2793.08 L837.5,2792.73 L836.5,2792.38 L835.5,2791.26 L834.5,2790.91 L833.5,2790.56 L832.5,2790.21 L831.5,2789.47 L830.5,2789.12 L829.5,2788.77 L828.5,2787.24 L827.5,2786.89 L826.5,2786.54 L825.5,2786.19 L824.5,2785.84 L823.5,2785.49 L822.5,2785.05 L821.5,2785.36 L820.5,2785.01 L819.5,2784.66 L818.5,2784.31 L817.5,2783.96 L816.5,2783.61 L815.5,2782.49 L814.5,2782.13 L813.5,2781.78 L812.5,2782.87 L811.5,2782.51 L810.5,2782.14 L809.5,2781.77 L808.5,2781.39 L807.5,2781.02 L806.5,2780.33 L805.5,2779.96 L804.5,2779.58 L803.5,2779.7 L802.5,2779.33 L801.5,2778.95 L800.5,2778.58 L799.5,2778.21 L798.5,2777.84 L797.5,2775.65 L796.5,2775.29 L795.5,2774.94 L794.5,2774.59 L793.5,2776.01 L792.5,2776.51 L791.5,2776.17 L790.5,2775.85 L789.5,2775.53 L788.5,2775.22 L787.5,2774.92 L786.5,2774.63 L785.5,2773.15 L784.5,2772.88 L783.5,2772.61 L782.5,2772.35 L781.5,2772.09 L780.5,2771.83 L779.5,2771.89 L778.5,2771.64 L777.5,2771.4 L776.5,2771.17 L775.5,2770.94 L774.5,2770.72 L773.5,2770.5 L772.5,2769.31 L771.5,2769.1 L770.5,2768.9 L769.5,2768.97 L768.5,2768.78 L767.5,2768.59 L766.5,2768.67 L765.5,2768.49 L764.5,2768.31 L763.5,2768.15 L762.5,2767.98 L761.5,2767.82 L760.5,2773.7 L759.5,2773.55 L758.5,2773.41 L757.5,2773.27 L756.5,2773.14 L755.5,2773.01 L754.5,2772.89 L753.5,2764.71 L752.5,2764.61 L751.5,2764.52 L750.5,2765.19 L749.5,2765.11 L748.5,2766.13 L747.5,2766.07 L746.5,2766.91 L745.5,2766.86 L744.5,2766.82 L743.5,2766.78 L742.5,2766.74 L741.5,2766.71 L740.5,2766.68 L739.5,2767.88 L738.5,2767.86 L737.5,2767.83 L736.5,2767.81 L735.5,2767.78 L734.5,2767.76 L733.5,2767.73 L732.5,2765.17 L731.5,2765.57 L730.5,2765.54 L729.5,2765.5 L728.5,2765.47 L727.5,2765.43 L726.5,2765.39 L725.5,2764.88 L724.5,2763.16 L723.5,2763.11 L722.5,2762.95 L721.5,2764.65 L720.5,2764.62 L719.5,2764.59 L718.5,2765.83 L717.5,2765.8 L716.5,2765.77 L715.5,2767.16 L714.5,2767.13 L713.5,2767.1 L712.5,2767.07 L711.5,2767.04 L710.5,2767.01 L709.5,2766.46 L708.5,2766.43 L707.5,2768.35 L706.5,2768.3 L705.5,2768.26 L704.5,2768.2 L703.5,2768.15 L702.5,2768.09 L701.5,2768.02 L700.5,2764.46 L699.5,2764.38 L698.5,2763.42 L697.5,2763.33 L696.5,2762.54 L695.5,2762.43 L694.5,2764.87 L693.5,2764.76 L692.5,2764.65 L691.5,2765.47 L690.5,2765.35 L689.5,2766.74 L688.5,2766.62 L687.5,2766.49 L686.5,2766.35 L685.5,2766.2 L684.5,2766.03 L683.5,2766.28 L682.5,2766.09 L681.5,2765.87 L680.5,2765.64 L679.5,2765.39 L678.5,2765.11 L677.5,2764.82 L676.5,2763.14 L675.5,2762.79 L674.5,2760.33 L673.5,2759.92 L672.5,2759.48 L671.5,2759.59 L670.5,2759.09 L669.5,2758.55 L668.5,2759.87 L667.5,2759.26 L666.5,2758.61 L665.5,2757.92 L664.5,2757.19 L663.5,2756.41 L662.5,2755.59 L661.5,2752.29 L660.5,2751.37 L659.5,2750.41 L658.5,2749.4 L657.5,2746.1 L656.5,2745.36 L655.5,2744.15 L654.5,2742.87 L653.5,2741.53 L652.5,2740.59 L651.5,2739.12 L650.5,2737.61 L649.5,2736.04 L648.5,2734.42 L647.5,2733.65 L646.5,2731.94 L645.5,2730.19 L644.5,2728.41 L643.5,2726.58 L642.5,2724.76 L641.5,2722.95 L640.5,2720.36 L639.5,2718.54 L638.5,2716.7 L637.5,2714.83 L636.5,2712.92 L635.5,2715.19 L634.5,2713.16 L633.5,2711.05 L632.5,2708.86 L631.5,2706.66 L630.5,2704.26 L629.5,2701.6 L628.5,2697.75 L627.5,2696.44 L626.5,2693.13 L625.5,2689.65 L624.5,2686.03 L623.5,2682.31 L622.5,2678.5 L621.5,2674.64 L620.5,2668.79 L619.5,2664.9 L618.5,2661.06 L617.5,2658.66 L616.5,2655.57 L615.5,2652.36 L614.5,2649.07 L613.5,2645.71 L612.5,2642.32 L611.5,2636.16 L610.5,2632.79 L609.5,2629.49 L608.5,2626.27 L607.5,2623.18 L606.5,2620.26 L605.5,2616.99 L604.5,2616.59 L603.5,2614.69 L602.5,2613.07 L601.5,2611.72 L600.5,2610.63 L599.5,2609.79 L598.5,2609.18 L597.5,2606.05 L596.5,2605.83 L595.5,2605.76 L594.5,2605.82 L593.5,2606.01 L592.5,2606.4 L591.5,2606.96 L590.5,2607.72 L589.5,2608.64 L588.5,2610.69 L587.5,2611.91 L586.5,2613.26 L585.5,2614.73 L584.5,2616.33 L583.5,2618.04 L582.5,2619.86 L581.5,2620.97 L580.5,2630.46 L579.5,2632.91 L578.5,2635.45 L577.5,2638.05 L576.5,2640.69 L575.5,2643.36 L574.5,2646.03 L573.5,2642.36 L572.5,2644.98 L571.5,2647.54 L570.5,2650.03 L569.5,2653.94 L568.5,2656.87 L567.5,2659.83 L566.5,2662.8 L565.5,2665.76 L564.5,2668.69 L563.5,2670.6 L562.5,2673.44 L561.5,2676.21 L560.5,2678.9 L559.5,2681.48 L558.5,2685.88 L557.5,2688.28 L556.5,2690.79 L555.5,2693.29 L554.5,2695.77 L553.5,2698.23 L552.5,2700.67 L551.5,2701.01 L550.5,2703.61 L549.5,2706 L548.5,2708.36 L547.5,2716.43 L546.5,2718.76 L545.5,2721.09 L544.5,2723.53 L543.5,2725.94 L542.5,2728.32 L541.5,2728.34 L540.5,2730.6 L539.5,2732.8 L538.5,2734.92 L537.5,2736.2 L536.5,2738.13 L535.5,2739.95 L534.5,2739.98 L533.5,2741.59 L532.5,2743.34 L531.5,2745.09 L530.5,2746.81 L529.5,2748.47 L528.5,2748.44 L527.5,2750.01 L526.5,2756.44 L525.5,2757.9 L524.5,2759.3 L523.5,2760.64 L522.5,2761.91 L521.5,2763.12 L520.5,2759.09 L519.5,2761.4 L518.5,2762.38 L517.5,2763.37 L516.5,2764.35 L515.5,2765.29 L514.5,2766.2 L513.5,2767.08 L512.5,2768.23 L511.5,2769.07 L510.5,2769.88 L509.5,2771.38 L508.5,2772.16 L507.5,2772.92 L506.5,2773.67 L505.5,2774.41 L504.5,2775.15 L503.5,2774.62 L502.5,2775.34 L501.5,2776.47 L500.5,2777.19 L499.5,2777.91 L498.5,2778.64 L497.5,2779.69 L496.5,2780.41 L495.5,2781.11 L494.5,2781.8 L493.5,2782.48 L492.5,2783.15 L491.5,2782.81 L490.5,2785.93 L489.5,2786.58 L488.5,2787.21 L487.5,2787.84 L486.5,2788.88 L485.5,2789.49 L484.5,2790.09 L483.5,2790.68 L482.5,2791.27 L481.5,2791.85 L480.5,2792.42 L479.5,2790.85 L478.5,2791.41 L477.5,2791.95 L476.5,2792.5 L475.5,2793.03 L474.5,2794.37 L473.5,2794.89 L472.5,2795.41 L471.5,2795.92 L470.5,2796.43 L469.5,2796.93 L468.5,2797.43 L467.5,2796.06 L466.5,2796.55 L465.5,2794.96 L464.5,2795.43 L463.5,2797.2 L462.5,2797.67 L461.5,2798.13 L460.5,2799.93 L459.5,2800.38 L458.5,2800.83 L457.5,2801.27 L456.5,2801.71 L455.5,2803.8 L454.5,2807.68 L453.5,2808.1 L452.5,2808.52 L451.5,2808.93 L450.5,2809.34 L449.5,2809.75 L448.5,2806.09 L447.5,2806.48 L446.5,2809.85 L445.5,2810.23 L444.5,2810.61 L443.5,2810.98 L442.5,2811.35 L441.5,2811.71 L440.5,2812.06 L439.5,2805.79 L438.5,2806.12 L437.5,2810.9 L436.5,2811.22 L435.5,2811.54 L434.5,2811.86 L433.5,2812.17 L432.5,2812.88 L431.5,2814.73 L430.5,2815.03 L429.5,2815.32 L428.5,2815.61 L427.5,2815.89 L426.5,2816.18 L425.5,2816.46 L424.5,2813.86 L423.5,2814.13 L422.5,2814.41 L421.5,2814.68 L420.5,2814.95 L419.5,2813.42 L418.5,2813.69 L417.5,2818.04 L416.5,2818.31 L415.5,2818.58 L414.5,2818.85 L413.5,2819.12 L412.5,2819.4 L411.5,2819.68 L410.5,2819.82 L409.5,2820.1 L408.5,2820.37 L407.5,2820.65 L406.5,2820.93 L405.5,2817.24 L404.5,2818.97 L403.5,2819.24 L402.5,2819.52 L401.5,2819.79 L400.5,2823.35 L399.5,2823.61 L398.5,2823.88 L397.5,2824.14 L396.5,2824.39 L395.5,2824.65 L394.5,2819.93 L393.5,2822.57 L392.5,2822.8 L391.5,2823.04 L390.5,2825.19 L389.5,2825.41 L388.5,2825.62 L387.5,2825.83 L386.5,2826.03 L385.5,2826.22 L384.5,2825.03 L383.5,2825.2 L382.5,2824.04 L381.5,2824.2 L380.5,2824.35 L379.5,2824.49 L378.5,2823.22 L377.5,2823.35 L376.5,2823.47 L375.5,2827.99 L374.5,2828.09 L373.5,2828.2 L372.5,2828.29 L371.5,2828.38 L370.5,2828.47 L369.5,2828.55 L368.5,2826.42 L367.5,2826.49 L366.5,2822.15 L365.5,2822.67 L364.5,2822.73 L363.5,2823.41 L362.5,2824.18 L361.5,2824.24 L360.5,2824.29 L359.5,2824.34 L358.5,2826.94 L357.5,2826.98 L356.5,2833.62 L355.5,2833.66 L354.5,2833.71 L353.5,2833.76 L352.5,2833.81 L351.5,2833.86 L350.5,2828.96 L349.5,2826.51 L348.5,2826.55 L347.5,2826.6 L346.5,2826.63 L345.5,2826.67 L344.5,2826.7 L343.5,2826.48 L342.5,2826.51 L341.5,2826.54 L340.5,2826.56 L339.5,2826.59 L338.5,2826.61 L337.5,2826.68 L336.5,2826.69 L335.5,2826.71 L334.5,2826.72 L333.5,2826.74 L332.5,2829.84 L331.5,2829.85 L330.5,2829.86 L329.5,2829.87 L328.5,2829.88 L327.5,2829.88 L326.5,2829.88 L325.5,2826.41 L324.5,2826.41 L323.5,2826.46 L322.5,2828.86 L321.5,2828.86 L320.5,2828.86 L319.5,2828.86 L318.5,2828.86 L317.5,2828.85 L316.5,2827.74 L315.5,2827.74 L314.5,2827.74 L313.5,2827.73 L312.5,2827.72 L311.5,2826.46 L310.5,2827.54 L309.5,2827.53 L308.5,2827.52 L307.5,2827.5 L306.5,2827.49 L305.5,2827.47 L304.5,2825.43 L303.5,2829.07 L302.5,2829.05 L301.5,2831.64 L300.5,2831.62 L299.5,2831.59 L298.5,2831.56 L297.5,2831.52 L296.5,2831.49 L295.5,2831.45 L294.5,2826.39 L293.5,2826.35 L292.5,2826.3 L291.5,2826.83 L290.5,2826.78 L289.5,2826.72 L288.5,2826.67 L287.5,2826.61 L286.5,2826.55 L285.5,2826.49 L284.5,2825.27 L283.5,2825.21 L282.5,2825.14 L281.5,2825.07 L280.5,2825 L279.5,2824.92 L278.5,2824.85 L277.5,2823.94 L276.5,2823.86 L275.5,2823.77 L274.5,2826.37 L273.5,2826.28 L272.5,2826.19 L271.5,2826.1 L270.5,2826.01 L269.5,2826.28 L268.5,2826.18 L267.5,2826.08 L266.5,2825.98 L265.5,2825.88 L264.5,2825.77 L263.5,2823.06 L262.5,2822.95 L261.5,2822.84 L260.5,2822.72 L259.5,2822.61 L258.5,2822.49 L257.5,2823.43 L256.5,2823.31 L255.5,2823.19 L254.5,2823.06 L253.5,2823.36 L252.5,2823.23 L251.5,2823.1 L250.5,2822.97 L249.5,2822.84 L248.5,2822.7 L247.5,2822.61 L246.5,2822.47 L245.5,2822.33 L244.5,2822.18 L243.5,2824.22 L242.5,2824.07 L241.5,2823.92 L240.5,2823.76 L239.5,2823.6 L238.5,2823.44 L237.5,2823.27 L236.5,2821.65 L235.5,2821.47 L234.5,2821.29 L233.5,2821.11 L232.5,2820.93 L231.5,2827.25 L230.5,2827.06 L229.5,2826.86 L228.5,2826.66 L227.5,2826.45 L226.5,2826.24 L225.5,2821.43 L224.5,2821.21 L223.5,2820.99 L222.5,2820.76 L221.5,2820.53 L220.5,2818.25 L219.5,2818.01 L218.5,2817.77 L217.5,2814.88 L216.5,2814.63 L215.5,2814.13 L214.5,2816.15 L213.5,2815.89 L212.5,2817.19 L211.5,2816.93 L210.5,2818.91 L209.5,2818.64 L208.5,2818.38 L207.5,2818.11 L206.5,2817.85 L205.5,2817.58 L204.5,2817.31 L203.5,2816.41 L202.5,2816.14 L201.5,2813.15 L200.5,2812.87 L199.5,2812.59 L198.5,2812.32 L197.5,2811.37 L196.5,2811.12 L195.5,2810.86 L194.5,2814.47 L193.5,2814.22 L192.5,2813.98 L191.5,2813.73 L190.5,2813.49 L189.5,2813.24 L188.5,2813 L187.5,2811.06 L186.5,2810.81 L185.5,2809.89 L184.5,2809.63 L183.5,2808.42 L182.5,2808.15 L181.5,2808.34 L180.5,2808.05 L179.5,2807.75 L178.5,2807.44 L177.5,2807.12 L176.5,2806.78 L175.5,2806.44 L174.5,2806.91 L173.5,2806.54 L172.5,2806.15 L171.5,2805.75 L170.5,2805.33 L169.5,2804.91 L168.5,2809.6 L167.5,2809.11 L166.5,2808.6 L165.5,2808.05 L164.5,2807.48 L163.5,2806.87 L162.5,2806.25 L161.5,2797.69 L160.5,2797.02 L159.5,2796.33 L158.5,2800.92 L157.5,2800.2 L156.5,2799.47 L155.5,2798.72 L154.5,2797.97 L153.5,2797.21 L152.5,2796.45 L151.5,2791.97 L150.5,2791.21 L149.5,2788.89 L148.5,2788.14 L147.5,2787.03Z" fill="#ff0000"/>
<path d="M462.4,257 C465.45,260.18 479.67,280.85 483.74,286.68 C488.82,294.1 488.31,301.52 482.72,304.7 C477.64,307.35 470.53,305.76 465.96,303.11 L467.99,310 L456.81,310 L458.84,303.11 C454.27,305.76 447.16,307.35 442.08,304.7 C436.49,301.52 435.98,294.1 441.06,286.68 C445.13,280.85 459.35,260.18 462.4,257Z" fill="#008c00"/>
<path d="M620.65,249 L647.6,281.1 L620.65,313.2 L593.7,281.1 Z" fill="#0000a0"/>
<path d="M726.55,244 L753.5,276.75 L726.55,309.5 L699.6,276.75 Z" fill="#0000a0"/>
<path d="M795.75,261 C798.74,264.12 812.72,284.4 816.71,290.12 C821.7,297.4 821.2,304.68 815.71,307.8 C810.72,310.4 803.73,308.84 799.24,306.24 L801.24,313 L790.26,313 L792.26,306.24 C787.77,308.84 780.78,310.4 775.79,307.8 C770.3,304.68 769.8,297.4 774.79,290.12 C778.78,284.4 792.76,264.12 795.75,261Z" fill="#008c00"/>
<path d="M969.6,189.4 C972.58,192.52 986.46,212.8 990.43,218.52 C995.39,225.8 994.9,233.08 989.44,236.2 C984.48,238.8 977.54,237.24 973.07,234.64 L975.06,241.4 L964.14,241.4 L966.13,234.64 C961.66,237.24 954.72,238.8 949.76,236.2 C944.3,233.08 943.81,225.8 948.77,218.52 C952.74,212.8 966.62,192.52 969.6,189.4Z" fill="#008c00"/>
<g fill="#000000"><ellipse cx="969.6" cy="271.43" rx="14.52" ry="14.79"/><ellipse cx="953.22" cy="293.02" rx="14.52" ry="14.79"/><ellipse cx="985.98" cy="293.02" rx="14.52" ry="14.79"/><path d="M969.6,277.59 L983.2,293.02 L969.6,302.27 L956,293.02 Z"/><path d="M967.13,294.25 L972.07,294.25 Q973.31,312.76 980.72,317.7 L958.48,317.7 Q965.89,312.76 967.13,294.25 Z"/></g>
<rect x="1013.8" y="225.2" width="46" height="43.6" fill="#0000ff"/>
<rect x="1225.7" y="193" width="46.7" height="43.6" fill="#0000ff"/>
<path d="M1254.05,248.7 L1280.1,281.35 L1254.05,314 L1228,281.35 Z" fill="#0000a0"/>
<path d="M1565.35,256.9 C1568.33,260.1 1582.25,280.88 1586.22,286.75 C1591.19,294.21 1590.7,301.67 1585.23,304.87 C1580.26,307.53 1573.3,305.94 1568.83,303.27 L1570.82,310.2 L1559.88,310.2 L1561.87,303.27 C1557.4,305.94 1550.44,307.53 1545.47,304.87 C1540,301.67 1539.51,294.21 1544.48,286.75 C1548.45,280.88 1562.37,260.1 1565.35,256.9Z" fill="#008c00"/>
<path d="M2147.15,216.5 L2170.3,244.6 L2147.15,272.7 L2124,244.6 Z" fill="#000080"/>
<g fill="#008000"><ellipse cx="2152.5" cy="342.12" rx="13.39" ry="12.68"/><ellipse cx="2137.39" cy="360.64" rx="13.39" ry="12.68"/><ellipse cx="2167.61" cy="360.64" rx="13.39" ry="12.68"/><path d="M2152.5,347.41 L2165.04,360.64 L2152.5,368.57 L2139.96,360.64 Z"/><path d="M2150.22,361.7 L2154.78,361.7 Q2155.92,377.57 2162.76,381.8 L2142.24,381.8 Q2149.08,377.57 2150.22,361.7 Z"/></g>
<path d="M2152.55,426.4 C2155.47,429.53 2169.11,449.84 2173,455.58 C2177.87,462.87 2177.39,470.16 2172.03,473.29 C2167.16,475.89 2160.34,474.33 2155.96,471.73 L2157.91,478.5 L2147.19,478.5 L2149.14,471.73 C2144.76,474.33 2137.94,475.89 2133.07,473.29 C2127.71,470.16 2127.23,462.87 2132.1,455.58 C2135.99,449.84 2149.63,429.53 2152.55,426.4Z" fill="#404040"/>
<rect x="2129" y="513.2" width="56.2" height="52.9" fill="#0000ff"/>
<path d="M595.4,2342.5 C601.06,2351.02 619,2363.54 619,2375.57 C619,2386.09 607.67,2389.09 598.23,2382.58 L602.01,2392.6 L588.79,2392.6 L592.57,2382.58 C583.13,2389.09 571.8,2386.09 571.8,2375.57 C571.8,2363.54 589.74,2351.02 595.4,2342.5Z" fill="#404040"/>
<path d="M725.1,2349 L746.9,2374.8 L725.1,2400.6 L703.3,2374.8 Z" fill="#000080"/>
<path d="M819.65,2349 L841.3,2374.8 L819.65,2400.6 L798,2374.8 Z" fill="#000080"/>
<g fill="#008000"><ellipse cx="919.25" cy="2365.22" rx="12.57" ry="12.01"/><ellipse cx="905.07" cy="2382.76" rx="12.57" ry="12.01"/><ellipse cx="933.43" cy="2382.76" rx="12.57" ry="12.01"/><path d="M919.25,2370.24 L931.02,2382.76 L919.25,2390.28 L907.48,2382.76 Z"/><path d="M917.11,2383.76 L921.39,2383.76 Q922.46,2398.79 928.88,2402.8 L909.62,2402.8 Q916.04,2398.79 917.11,2383.76 Z"/></g>
<g fill="#008000"><ellipse cx="1079.85" cy="2365.22" rx="12.15" ry="12.01"/><ellipse cx="1066.15" cy="2382.76" rx="12.15" ry="12.01"/><ellipse cx="1093.55" cy="2382.76" rx="12.15" ry="12.01"/><path d="M1079.85,2370.24 L1091.22,2382.76 L1079.85,2390.28 L1068.48,2382.76 Z"/><path d="M1077.78,2383.76 L1081.92,2383.76 Q1082.95,2398.79 1089.16,2402.8 L1070.54,2402.8 Q1076.75,2398.79 1077.78,2383.76 Z"/></g>
<rect x="1116.3" y="2372.7" width="30.9" height="30.1" fill="#0000ff"/>
<rect x="1319.8" y="2372.7" width="30.2" height="30.1" fill="#0000ff"/>
<g fill="#008000"><ellipse cx="1649.35" cy="2365.22" rx="12.38" ry="12.01"/><ellipse cx="1635.38" cy="2382.76" rx="12.38" ry="12.01"/><ellipse cx="1663.32" cy="2382.76" rx="12.38" ry="12.01"/><path d="M1649.35,2370.24 L1660.94,2382.76 L1649.35,2390.28 L1637.76,2382.76 Z"/><path d="M1647.24,2383.76 L1651.46,2383.76 Q1652.51,2398.79 1658.84,2402.8 L1639.86,2402.8 Q1646.19,2398.79 1647.24,2383.76 Z"/></g>
<g fill="#008000"><ellipse cx="1837.65" cy="2462.1" rx="9.24" ry="8.34"/><ellipse cx="1827.24" cy="2474.28" rx="9.24" ry="8.34"/><ellipse cx="1848.06" cy="2474.28" rx="9.24" ry="8.34"/><path d="M1837.65,2465.58 L1846.3,2474.28 L1837.65,2479.5 L1829,2474.28 Z"/><path d="M1836.08,2474.98 L1839.22,2474.98 Q1840.01,2485.42 1844.72,2488.2 L1830.58,2488.2 Q1835.29,2485.42 1836.08,2474.98 Z"/></g>
<rect x="1991.6" y="2449.4" width="38.1" height="35.4" fill="#0000ff"/>
<path d="M1854.8,2534 C1856.84,2536.09 1866.36,2549.66 1869.08,2553.49 C1872.48,2558.36 1872.14,2563.23 1868.4,2565.32 C1865,2567.06 1860.24,2566.02 1857.18,2564.28 L1858.54,2568.8 L1851.06,2568.8 L1852.42,2564.28 C1849.36,2566.02 1844.6,2567.06 1841.2,2565.32 C1837.46,2563.23 1837.12,2558.36 1840.52,2553.49 C1843.24,2549.66 1852.76,2536.09 1854.8,2534Z" fill="#404040"/>
<path d="M1961.15,2534 L1977,2551.75 L1961.15,2569.5 L1945.3,2551.75 Z" fill="#000080"/>
<text transform="translate(777.82 91.25) scale(1.0054 1)" font-family="Liberation Serif, serif" font-weight="bold" font-style="normal" font-size="75.29" fill="#000">xNi-ZrO</text>
<text transform="translate(1050.72 112.3) scale(1.0470 1)" font-family="Liberation Serif, serif" font-weight="bold" font-style="normal" font-size="54.55" fill="#000">2</text>
<text transform="translate(1098.55 91.9) scale(0.9296 1)" font-family="Liberation Serif, serif" font-weight="bold" font-style="normal" font-size="80.15" fill="#000">/CNT XRD</text>
<text transform="translate(152.47 294.93) scale(0.8987 1)" font-family="Liberation Serif, serif" font-weight="bold" font-style="normal" font-size="126.11" fill="#000">A</text>
<text transform="translate(155.53 2408.5) scale(1.0062 1)" font-family="Liberation Serif, serif" font-weight="bold" font-style="normal" font-size="84.12" fill="#000">B</text>
<text transform="translate(2171.67 272.59) scale(0.9722 1)" font-family="Liberation Serif, serif" font-weight="bold" font-style="normal" font-size="91.19" fill="#000080">ZrO</text>
<text transform="translate(2331.3 301.6) scale(1.0782 1)" font-family="Liberation Serif, serif" font-weight="bold" font-style="normal" font-size="62.58" fill="#000080">2</text>
<text transform="translate(2180.96 381.71) scale(0.9825 1)" font-family="Liberation Serif, serif" font-weight="bold" font-style="normal" font-size="88.57" fill="#008000">NiO</text>
<text transform="translate(2181.71 477.62) scale(1.0842 1)" font-family="Liberation Serif, serif" font-weight="normal" font-style="normal" font-size="91.91" fill="#404040"><tspan stroke="#404040" stroke-width="2">C</tspan></text>
<text transform="translate(2207.57 574.4) scale(0.9053 1)" font-family="Liberation Serif, serif" font-weight="bold" font-style="normal" font-size="89.86" fill="#0000ff">Ni</text>
<text transform="translate(2291.79 538.18) scale(1.0078 1)" font-family="Liberation Serif, serif" font-weight="bold" font-style="normal" font-size="62.37" fill="#0000ff">0</text>
<text transform="translate(1804.62 521.53) scale(0.9418 1)" font-family="Liberation Serif, serif" font-weight="bold" font-style="normal" font-size="71.35" fill="#000">15.0% Ni</text>
<text transform="translate(1800.85 814.64) scale(0.9666 1)" font-family="Liberation Serif, serif" font-weight="bold" font-style="normal" font-size="70.5" fill="#000">10.0% Ni</text>
<text transform="translate(1828.19 1128.53) scale(0.9454 1)" font-family="Liberation Serif, serif" font-weight="bold" font-style="normal" font-size="71.63" fill="#000">5.0% Ni</text>
<text transform="translate(1834.47 1428.84) scale(0.9646 1)" font-family="Liberation Serif, serif" font-weight="bold" font-style="normal" font-size="70.78" fill="#000">2.5% Ni</text>
<text transform="translate(1934.74 1730.26) scale(0.8829 1)" font-family="Liberation Serif, serif" font-weight="bold" font-style="normal" font-size="73.88" fill="#000">CNT</text>
<text transform="translate(1018.69 2103.02) scale(1.1143 1)" font-family="Liberation Serif, serif" font-weight="bold" font-style="normal" font-size="85.45" fill="#000">2<tspan font-weight="normal" stroke="#000" stroke-width="1.6">θ</tspan></text>
<text transform="translate(1122.58 2102.23) scale(0.9926 1)" font-family="Liberation Serif, serif" font-weight="normal" font-style="normal" font-size="85.56" fill="#000">(°)</text>
<text transform="translate(100.88 1210.09) rotate(-90) scale(1.0510 1)" font-family="Liberation Serif, serif" font-weight="bold" font-style="normal" font-size="83.89" fill="#000">Intensity (a.u.)</text>
<text transform="translate(1688.08 2316.58) scale(1.0678 1)" font-family="Liberation Serif, serif" font-weight="bold" font-style="normal" font-size="51.71" fill="#000">10Ni / ZrO</text>
<text transform="translate(1944.27 2331) scale(1.1451 1)" font-family="Liberation Serif, serif" font-weight="bold" font-style="normal" font-size="37.88" fill="#000">2</text>
<text transform="translate(1978.54 2316.56) scale(0.9974 1)" font-family="Liberation Serif, serif" font-weight="bold" font-style="normal" font-size="54.03" fill="#000">/ CNT</text>
<text transform="translate(1860.46 2487.62) scale(1.0771 1)" font-family="Liberation Serif, serif" font-weight="bold" font-style="normal" font-size="57.71" fill="#008000">NiO</text>
<text transform="translate(2034.09 2488) scale(1.0352 1)" font-family="Liberation Serif, serif" font-weight="bold" font-style="normal" font-size="58.26" fill="#0000ff">Ni</text>
<text transform="translate(2098.48 2463.15) scale(1.0942 1)" font-family="Liberation Serif, serif" font-weight="bold" font-style="normal" font-size="34.81" fill="#0000ff">0</text>
<text transform="translate(1875.77 2568.57) scale(1.0985 1)" font-family="Liberation Serif, serif" font-weight="normal" font-style="normal" font-size="62.06" fill="#404040"><tspan stroke="#404040" stroke-width="1.6">C</tspan></text>
<text transform="translate(1981.84 2568.89) scale(1.0316 1)" font-family="Liberation Serif, serif" font-weight="bold" font-style="normal" font-size="61.19" fill="#000080">ZrO</text>
<text transform="translate(2099.67 2585) scale(1.0390 1)" font-family="Liberation Serif, serif" font-weight="bold" font-style="normal" font-size="41.52" fill="#000080">2</text>
<text transform="translate(1896.1 2682.44) scale(1.0784 1)" font-family="Liberation Serif, serif" font-weight="bold" font-style="normal" font-size="55.71" fill="#0000ff">Reduced</text>
<text transform="translate(1885.47 2870.44) scale(1.0895 1)" font-family="Liberation Serif, serif" font-weight="bold" font-style="normal" font-size="55.71" fill="#ff0000">Calcined</text>
<text transform="translate(1023.11 3165.45) scale(1.1381 1)" font-family="Liberation Serif, serif" font-weight="bold" font-style="normal" font-size="96.36" fill="#000">2<tspan font-weight="normal" stroke="#000" stroke-width="1.6">θ</tspan></text>
<text transform="translate(1150.74 3167.62) scale(1.0340 1)" font-family="Liberation Serif, serif" font-weight="normal" font-style="normal" font-size="98" fill="#000">(°)</text>
<text transform="translate(85.21 2897.07) rotate(-90) scale(0.9614 1)" font-family="Liberation Serif, serif" font-weight="bold" font-style="normal" font-size="94.22" fill="#000">Intensity (a.u.)</text>
<text transform="translate(249.98 1955.14) scale(0.8814 1)" font-family="Liberation Sans, sans-serif" font-weight="bold" font-size="75.63" fill="#000">20</text>
<text transform="translate(552.04 1955.14) scale(0.8814 1)" font-family="Liberation Sans, sans-serif" font-weight="bold" font-size="75.63" fill="#000">30</text>
<text transform="translate(854.1 1955.14) scale(0.8814 1)" font-family="Liberation Sans, sans-serif" font-weight="bold" font-size="75.63" fill="#000">40</text>
<text transform="translate(1155.33 1955.14) scale(0.8814 1)" font-family="Liberation Sans, sans-serif" font-weight="bold" font-size="75.63" fill="#000">50</text>
<text transform="translate(1456.9 1955.14) scale(0.8814 1)" font-family="Liberation Sans, sans-serif" font-weight="bold" font-size="75.63" fill="#000">60</text>
<text transform="translate(1758.29 1955.14) scale(0.8814 1)" font-family="Liberation Sans, sans-serif" font-weight="bold" font-size="75.63" fill="#000">70</text>
<text transform="translate(2060.52 1955.14) scale(0.8814 1)" font-family="Liberation Sans, sans-serif" font-weight="bold" font-size="75.63" fill="#000">80</text>
<text transform="translate(100.14 3046.36) scale(1.0285 1)" font-family="Liberation Serif, serif" font-weight="bold" font-size="84.44" fill="#000">10</text>
<text transform="translate(241.92 3046.36) scale(1.0285 1)" font-family="Liberation Serif, serif" font-weight="bold" font-size="84.44" fill="#000">15</text>
<text transform="translate(385.88 3046.36) scale(1.0285 1)" font-family="Liberation Serif, serif" font-weight="bold" font-size="84.44" fill="#000">20</text>
<text transform="translate(527.66 3046.36) scale(1.0285 1)" font-family="Liberation Serif, serif" font-weight="bold" font-size="84.44" fill="#000">25</text>
<text transform="translate(669.88 3046.36) scale(1.0285 1)" font-family="Liberation Serif, serif" font-weight="bold" font-size="84.44" fill="#000">30</text>
<text transform="translate(811.66 3046.36) scale(1.0285 1)" font-family="Liberation Serif, serif" font-weight="bold" font-size="84.44" fill="#000">35</text>
<text transform="translate(954.96 3046.36) scale(1.0285 1)" font-family="Liberation Serif, serif" font-weight="bold" font-size="84.44" fill="#000">40</text>
<text transform="translate(1096.74 3046.36) scale(1.0285 1)" font-family="Liberation Serif, serif" font-weight="bold" font-size="84.44" fill="#000">45</text>
<text transform="translate(1237.88 3046.36) scale(1.0285 1)" font-family="Liberation Serif, serif" font-weight="bold" font-size="84.44" fill="#000">50</text>
<text transform="translate(1379.66 3046.36) scale(1.0285 1)" font-family="Liberation Serif, serif" font-weight="bold" font-size="84.44" fill="#000">55</text>
<text transform="translate(1522.09 3046.36) scale(1.0285 1)" font-family="Liberation Serif, serif" font-weight="bold" font-size="84.44" fill="#000">60</text>
<text transform="translate(1663.88 3046.36) scale(1.0285 1)" font-family="Liberation Serif, serif" font-weight="bold" font-size="84.44" fill="#000">65</text>
<text transform="translate(1805.22 3046.36) scale(1.0285 1)" font-family="Liberation Serif, serif" font-weight="bold" font-size="84.44" fill="#000">70</text>
<text transform="translate(1947.01 3046.36) scale(1.0285 1)" font-family="Liberation Serif, serif" font-weight="bold" font-size="84.44" fill="#000">75</text>
<text transform="translate(2090.09 3046.36) scale(1.0285 1)" font-family="Liberation Serif, serif" font-weight="bold" font-size="84.44" fill="#000">80</text></svg>
</body></html>
